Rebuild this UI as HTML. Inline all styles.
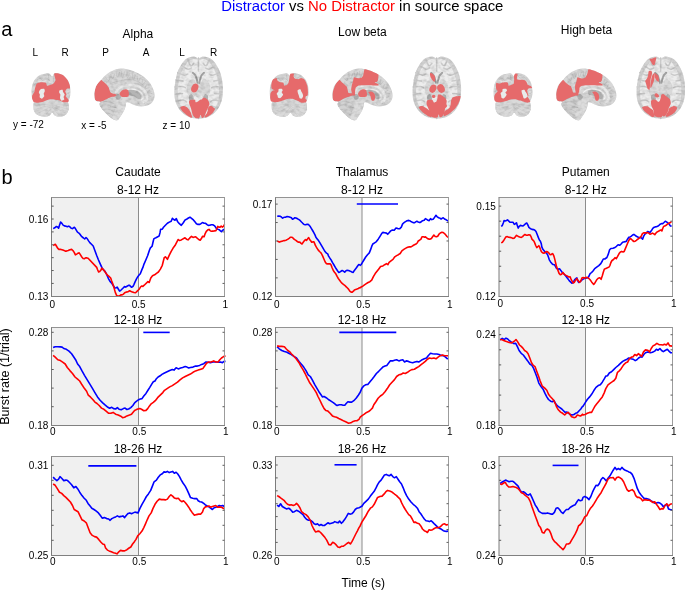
<!DOCTYPE html><html><head><meta charset="utf-8"><style>html,body{margin:0;padding:0;background:#fff;overflow:hidden;width:685px;height:590px;}svg{display:block;will-change:transform;}text{font-family:"Liberation Sans",sans-serif;}</style></head><body>
<svg width="685" height="590" viewBox="0 0 685 590">
<text x="221.2" y="10.9" font-size="14.9" fill="#000"><tspan fill="#0000ff">Distractor</tspan> vs <tspan fill="#ff0000">No Distractor</tspan> in source space</text>
<text x="1.2" y="35.6" font-size="20">a</text>
<text x="1.6" y="183.8" font-size="20">b</text>
<text x="137.9" y="37.8" font-size="12" text-anchor="middle">Alpha</text>
<text x="362.4" y="35.7" font-size="12" text-anchor="middle">Low beta</text>
<text x="586.5" y="33.5" font-size="12" text-anchor="middle">High beta</text>
<text x="35.2" y="56.2" font-size="10" text-anchor="middle">L</text>
<text x="65" y="56.2" font-size="10" text-anchor="middle">R</text>
<text x="105.6" y="56.2" font-size="10" text-anchor="middle">P</text>
<text x="146.2" y="56.2" font-size="10" text-anchor="middle">A</text>
<text x="182" y="56.2" font-size="10" text-anchor="middle">L</text>
<text x="213.7" y="56.2" font-size="10" text-anchor="middle">R</text>
<text x="13" y="127.8" font-size="10">y = -72</text>
<text x="81.3" y="128.9" font-size="10">x = -5</text>
<text x="162.6" y="128.9" font-size="10">z = 10</text>
<defs><filter id="btex" x="0" y="0" width="100%" height="100%" color-interpolation-filters="sRGB"><feTurbulence type="fractalNoise" baseFrequency="0.22 0.3" numOctaves="2" seed="7"/><feColorMatrix type="matrix" values="1.5 0 0 0 0.08  1.5 0 0 0 0.08  1.5 0 0 0 0.08  0 0 0 0 0.16"/></filter></defs>
<path d="M46.22,73.39 C47.85,73.23 48.52,73.27 49.61,73.81 C50.70,74.36 51.30,76.43 52.15,76.36 C53.01,76.28 53.26,73.96 54.27,73.39 C55.28,72.81 56.11,72.91 57.66,73.22 C59.21,73.53 61.04,73.97 62.75,75.08 C64.45,76.20 65.74,77.61 66.98,79.32 C68.23,81.03 68.90,82.39 69.53,84.41 C70.15,86.43 70.25,88.32 70.37,90.34 C70.50,92.36 70.51,93.56 70.20,95.42 C69.89,97.29 69.11,99.23 68.68,100.51 C68.24,101.78 67.83,101.44 67.83,102.37 C67.83,103.31 68.60,104.07 68.68,105.59 C68.76,107.12 68.88,108.97 68.25,110.68 C67.63,112.39 66.76,113.83 65.29,114.92 C63.81,116.00 62.07,116.45 60.20,116.61 C58.34,116.77 56.59,116.46 55.12,115.76 C53.64,115.06 53.24,112.80 52.15,112.80 C51.06,112.80 50.66,115.06 49.19,115.76 C47.71,116.46 46.12,116.69 44.10,116.61 C42.08,116.53 39.96,116.27 38.17,115.34 C36.38,114.41 35.21,113.16 34.36,111.53 C33.50,109.89 33.59,108.07 33.51,106.44 C33.43,104.81 34.17,104.03 33.93,102.63 C33.70,101.23 32.67,100.44 32.24,98.81 C31.80,97.18 31.64,95.75 31.56,93.73 C31.48,91.71 31.46,89.97 31.81,87.80 C32.17,85.62 32.65,83.73 33.51,81.86 C34.36,80.00 35.15,78.95 36.47,77.63 C37.80,76.31 38.93,75.44 40.71,74.66 C42.50,73.88 44.59,73.55 46.22,73.39 Z" fill="#d0d0d0"/>
<path d="M33.93,102.63 C35.25,101.82 38.23,102.34 40.71,102.03 C43.20,101.72 45.39,101.21 47.49,100.93 C49.59,100.65 50.44,100.51 52.15,100.51 C53.86,100.51 54.72,100.65 56.81,100.93 C58.91,101.21 61.57,101.77 63.59,102.03 C65.61,102.30 66.90,101.72 67.83,102.37 C68.76,103.03 68.60,104.07 68.68,105.59 C68.76,107.12 68.88,108.97 68.25,110.68 C67.63,112.39 66.76,113.83 65.29,114.92 C63.81,116.00 62.07,116.45 60.20,116.61 C58.34,116.77 56.59,116.46 55.12,115.76 C53.64,115.06 53.24,112.80 52.15,112.80 C51.06,112.80 50.66,115.06 49.19,115.76 C47.71,116.46 46.12,116.69 44.10,116.61 C42.08,116.53 39.96,116.27 38.17,115.34 C36.38,114.41 35.21,113.16 34.36,111.53 C33.50,109.89 33.59,108.07 33.51,106.44 C33.43,104.81 32.61,103.44 33.93,102.63 Z" fill="#d3d3d3"/>
<path d="M52.15,103.90 C49.26,104.18 37.68,105.31 34.78,105.59" fill="none" stroke="#c3c3c3" stroke-width="0.7" stroke-linecap="round"/>
<path d="M52.15,104.75 C49.19,105.52 37.32,108.63 34.36,109.41" fill="none" stroke="#c3c3c3" stroke-width="0.7" stroke-linecap="round"/>
<path d="M52.15,106.02 C49.68,107.29 39.79,112.37 37.32,113.64" fill="none" stroke="#c3c3c3" stroke-width="0.7" stroke-linecap="round"/>
<path d="M52.15,107.29 C50.95,108.70 46.15,114.35 44.95,115.76" fill="none" stroke="#c3c3c3" stroke-width="0.7" stroke-linecap="round"/>
<path d="M52.15,103.90 C54.84,104.18 65.57,105.31 68.25,105.59" fill="none" stroke="#c3c3c3" stroke-width="0.7" stroke-linecap="round"/>
<path d="M52.15,104.75 C54.88,105.52 65.78,108.63 68.51,109.41" fill="none" stroke="#c3c3c3" stroke-width="0.7" stroke-linecap="round"/>
<path d="M52.15,106.02 C54.48,107.29 63.81,112.37 66.14,113.64" fill="none" stroke="#c3c3c3" stroke-width="0.7" stroke-linecap="round"/>
<path d="M52.15,107.29 C53.35,108.70 58.16,114.35 59.36,115.76" fill="none" stroke="#c3c3c3" stroke-width="0.7" stroke-linecap="round"/>
<path d="M37.32,79.32 C37.89,79.18 39.79,78.26 40.71,78.47 C41.63,78.69 42.05,80.66 42.83,80.59 C43.61,80.52 44.45,78.26 45.37,78.05 C46.29,77.84 47.84,79.11 48.34,79.32" fill="none" stroke="#b5b5b5" stroke-width="0.8" stroke-linecap="round"/>
<path d="M34.78,84.41 C35.34,84.12 37.60,82.99 38.17,82.71" fill="none" stroke="#b5b5b5" stroke-width="0.8" stroke-linecap="round"/>
<path d="M33.08,91.19 C33.51,91.05 35.20,90.48 35.63,90.34" fill="none" stroke="#b5b5b5" stroke-width="0.8" stroke-linecap="round"/>
<path d="M32.66,97.12 C33.08,97.26 34.78,97.82 35.20,97.97" fill="none" stroke="#b5b5b5" stroke-width="0.8" stroke-linecap="round"/>
<path d="M55.97,75.93 C56.39,76.29 57.52,77.91 58.51,78.05 C59.50,78.19 60.91,76.57 61.90,76.78 C62.89,76.99 64.02,78.90 64.44,79.32" fill="none" stroke="#b5b5b5" stroke-width="0.8" stroke-linecap="round"/>
<path d="M67.83,86.95 C67.41,86.81 65.71,86.24 65.29,86.10" fill="none" stroke="#b5b5b5" stroke-width="0.8" stroke-linecap="round"/>
<path d="M68.68,93.73 C68.25,93.59 66.56,93.02 66.14,92.88" fill="none" stroke="#b5b5b5" stroke-width="0.8" stroke-linecap="round"/>
<path d="M48.34,75.08 C48.48,76.07 49.05,80.03 49.19,81.02" fill="none" stroke="#b5b5b5" stroke-width="0.8" stroke-linecap="round"/>
<path d="M53.42,76.78 C53.42,77.63 53.42,81.02 53.42,81.86" fill="none" stroke="#b5b5b5" stroke-width="0.8" stroke-linecap="round"/>
<path d="M38.17,81.02 C39.02,81.16 41.70,82.01 43.25,81.86 C44.81,81.72 46.36,80.03 47.49,80.17 C48.62,80.31 49.61,82.29 50.03,82.71" fill="none" stroke="#e4e4e4" stroke-width="1.0" stroke-linecap="round"/>
<path d="M35.63,86.95 C36.33,86.67 39.16,85.54 39.86,85.25" fill="none" stroke="#e4e4e4" stroke-width="1.0" stroke-linecap="round"/>
<path d="M66.98,92.03 C67.41,91.89 69.10,91.33 69.53,91.19" fill="none" stroke="#e4e4e4" stroke-width="1.0" stroke-linecap="round"/>
<path d="M56.81,79.32 C57.66,79.60 60.34,80.45 61.90,81.02 C63.45,81.58 65.43,82.43 66.14,82.71" fill="none" stroke="#e4e4e4" stroke-width="1.0" stroke-linecap="round"/>
<clipPath id="tclip1"><path d="M46.22,73.39 C47.85,73.23 48.52,73.27 49.61,73.81 C50.70,74.36 51.30,76.43 52.15,76.36 C53.01,76.28 53.26,73.96 54.27,73.39 C55.28,72.81 56.11,72.91 57.66,73.22 C59.21,73.53 61.04,73.97 62.75,75.08 C64.45,76.20 65.74,77.61 66.98,79.32 C68.23,81.03 68.90,82.39 69.53,84.41 C70.15,86.43 70.25,88.32 70.37,90.34 C70.50,92.36 70.51,93.56 70.20,95.42 C69.89,97.29 69.11,99.23 68.68,100.51 C68.24,101.78 67.83,101.44 67.83,102.37 C67.83,103.31 68.60,104.07 68.68,105.59 C68.76,107.12 68.88,108.97 68.25,110.68 C67.63,112.39 66.76,113.83 65.29,114.92 C63.81,116.00 62.07,116.45 60.20,116.61 C58.34,116.77 56.59,116.46 55.12,115.76 C53.64,115.06 53.24,112.80 52.15,112.80 C51.06,112.80 50.66,115.06 49.19,115.76 C47.71,116.46 46.12,116.69 44.10,116.61 C42.08,116.53 39.96,116.27 38.17,115.34 C36.38,114.41 35.21,113.16 34.36,111.53 C33.50,109.89 33.59,108.07 33.51,106.44 C33.43,104.81 34.17,104.03 33.93,102.63 C33.70,101.23 32.67,100.44 32.24,98.81 C31.80,97.18 31.64,95.75 31.56,93.73 C31.48,91.71 31.46,89.97 31.81,87.80 C32.17,85.62 32.65,83.73 33.51,81.86 C34.36,80.00 35.15,78.95 36.47,77.63 C37.80,76.31 38.93,75.44 40.71,74.66 C42.50,73.88 44.59,73.55 46.22,73.39 Z"/></clipPath>
<rect x="30.6" y="72.2" width="40.8" height="45.4" filter="url(#btex)" clip-path="url(#tclip1)"/>
<path d="M36.47,83.98 C37.17,83.14 39.62,82.44 40.71,82.29 C41.80,82.14 45.06,82.32 45.80,82.71 C46.54,83.11 46.47,85.43 47.07,85.68 C47.66,85.93 50.14,85.08 50.88,84.83 C51.62,84.58 52.88,84.10 53.42,83.56 C53.97,83.02 55.39,80.96 55.54,80.17 C55.69,79.38 54.84,77.55 54.69,76.78 C54.55,76.01 53.93,73.97 54.27,73.56 C54.62,73.14 56.67,73.04 57.66,73.22 C58.65,73.40 61.66,74.37 62.75,75.08 C63.83,75.80 66.19,78.23 66.98,79.32 C67.77,80.41 69.18,83.37 69.53,84.41 C69.87,85.44 70.25,87.73 69.95,88.22 C69.65,88.71 67.53,88.30 66.98,88.64 C66.44,88.99 65.34,90.49 65.29,91.19 C65.24,91.88 66.51,93.98 66.56,94.58 C66.61,95.17 65.56,95.78 65.71,96.27 C65.86,96.77 67.48,98.32 67.83,98.81 C68.18,99.31 68.68,100.11 68.68,100.51 C68.68,100.90 68.42,102.01 67.83,102.20 C67.24,102.40 64.48,102.38 63.59,102.20 C62.70,102.03 60.99,100.93 60.20,100.68 C59.41,100.43 57.60,100.25 56.81,100.08 C56.02,99.92 54.21,99.34 53.42,99.24 C52.63,99.14 50.73,99.14 50.03,99.24 C49.34,99.34 48.28,99.79 47.49,100.08 C46.70,100.38 44.34,101.48 43.25,101.78 C42.17,102.08 39.26,102.58 38.17,102.63 C37.08,102.68 34.62,102.65 33.93,102.20 C33.24,101.76 32.44,99.60 32.24,98.81 C32.04,98.02 31.99,96.21 32.24,95.42 C32.48,94.63 34.06,92.73 34.36,92.03 C34.65,91.34 34.53,90.43 34.78,89.49 C35.03,88.55 35.78,84.82 36.47,83.98 Z" fill="#e66a6b"/>
<path d="M40.71,89.32 C41.32,88.93 43.63,88.60 44.10,88.81 C44.58,89.03 44.83,90.61 44.78,91.19 C44.73,91.76 43.74,93.14 43.68,93.73 C43.62,94.32 44.47,95.70 44.27,96.27 C44.07,96.84 42.52,98.53 41.98,98.64 C41.45,98.76 39.94,97.76 39.69,97.29 C39.45,96.81 39.96,95.17 39.86,94.58 C39.77,93.98 38.75,92.82 38.85,92.20 C38.95,91.59 40.10,89.72 40.71,89.32 Z" fill="#e8ecec"/>
<path d="M59.61,90.34 C60.00,90.02 62.09,89.55 62.49,89.75 C62.90,89.94 62.83,91.47 63.08,92.03 C63.34,92.60 64.64,93.98 64.69,94.58 C64.75,95.17 63.64,96.55 63.59,97.12 C63.54,97.69 64.52,99.08 64.27,99.49 C64.02,99.91 61.97,100.86 61.47,100.68 C60.98,100.50 60.16,98.68 60.03,97.97 C59.91,97.25 60.47,95.22 60.37,94.58 C60.27,93.93 59.28,92.95 59.19,92.46 C59.10,91.96 59.22,90.66 59.61,90.34 Z" fill="#e8ecec"/>
<path d="M284.42,73.39 C286.05,73.23 286.72,73.27 287.81,73.81 C288.90,74.36 289.50,76.43 290.35,76.36 C291.21,76.28 291.46,73.96 292.47,73.39 C293.48,72.81 294.31,72.91 295.86,73.22 C297.41,73.53 299.24,73.97 300.95,75.08 C302.65,76.20 303.94,77.61 305.18,79.32 C306.43,81.03 307.10,82.39 307.73,84.41 C308.35,86.43 308.45,88.32 308.57,90.34 C308.70,92.36 308.71,93.56 308.40,95.42 C308.09,97.29 307.31,99.23 306.88,100.51 C306.44,101.78 306.03,101.44 306.03,102.37 C306.03,103.31 306.80,104.07 306.88,105.59 C306.96,107.12 307.08,108.97 306.45,110.68 C305.83,112.39 304.96,113.83 303.49,114.92 C302.01,116.00 300.27,116.45 298.40,116.61 C296.54,116.77 294.79,116.46 293.32,115.76 C291.84,115.06 291.44,112.80 290.35,112.80 C289.26,112.80 288.86,115.06 287.39,115.76 C285.91,116.46 284.32,116.69 282.30,116.61 C280.28,116.53 278.16,116.27 276.37,115.34 C274.58,114.41 273.41,113.16 272.56,111.53 C271.70,109.89 271.79,108.07 271.71,106.44 C271.63,104.81 272.37,104.03 272.13,102.63 C271.90,101.23 270.87,100.44 270.44,98.81 C270.00,97.18 269.84,95.75 269.76,93.73 C269.68,91.71 269.66,89.97 270.01,87.80 C270.37,85.62 270.85,83.73 271.71,81.86 C272.56,80.00 273.35,78.95 274.67,77.63 C276.00,76.31 277.13,75.44 278.91,74.66 C280.70,73.88 282.79,73.55 284.42,73.39 Z" fill="#d0d0d0"/>
<path d="M272.13,102.63 C273.45,101.82 276.43,102.34 278.91,102.03 C281.40,101.72 283.59,101.21 285.69,100.93 C287.79,100.65 288.64,100.51 290.35,100.51 C292.06,100.51 292.92,100.65 295.01,100.93 C297.11,101.21 299.77,101.77 301.79,102.03 C303.81,102.30 305.10,101.72 306.03,102.37 C306.96,103.03 306.80,104.07 306.88,105.59 C306.96,107.12 307.08,108.97 306.45,110.68 C305.83,112.39 304.96,113.83 303.49,114.92 C302.01,116.00 300.27,116.45 298.40,116.61 C296.54,116.77 294.79,116.46 293.32,115.76 C291.84,115.06 291.44,112.80 290.35,112.80 C289.26,112.80 288.86,115.06 287.39,115.76 C285.91,116.46 284.32,116.69 282.30,116.61 C280.28,116.53 278.16,116.27 276.37,115.34 C274.58,114.41 273.41,113.16 272.56,111.53 C271.70,109.89 271.79,108.07 271.71,106.44 C271.63,104.81 270.81,103.44 272.13,102.63 Z" fill="#d3d3d3"/>
<path d="M290.35,103.90 C287.46,104.18 275.88,105.31 272.98,105.59" fill="none" stroke="#c3c3c3" stroke-width="0.7" stroke-linecap="round"/>
<path d="M290.35,104.75 C287.39,105.52 275.52,108.63 272.56,109.41" fill="none" stroke="#c3c3c3" stroke-width="0.7" stroke-linecap="round"/>
<path d="M290.35,106.02 C287.88,107.29 277.99,112.37 275.52,113.64" fill="none" stroke="#c3c3c3" stroke-width="0.7" stroke-linecap="round"/>
<path d="M290.35,107.29 C289.15,108.70 284.35,114.35 283.15,115.76" fill="none" stroke="#c3c3c3" stroke-width="0.7" stroke-linecap="round"/>
<path d="M290.35,103.90 C293.04,104.18 303.77,105.31 306.45,105.59" fill="none" stroke="#c3c3c3" stroke-width="0.7" stroke-linecap="round"/>
<path d="M290.35,104.75 C293.08,105.52 303.98,108.63 306.71,109.41" fill="none" stroke="#c3c3c3" stroke-width="0.7" stroke-linecap="round"/>
<path d="M290.35,106.02 C292.68,107.29 302.01,112.37 304.34,113.64" fill="none" stroke="#c3c3c3" stroke-width="0.7" stroke-linecap="round"/>
<path d="M290.35,107.29 C291.55,108.70 296.36,114.35 297.56,115.76" fill="none" stroke="#c3c3c3" stroke-width="0.7" stroke-linecap="round"/>
<path d="M275.52,79.32 C276.09,79.18 277.99,78.26 278.91,78.47 C279.83,78.69 280.25,80.66 281.03,80.59 C281.81,80.52 282.65,78.26 283.57,78.05 C284.49,77.84 286.04,79.11 286.54,79.32" fill="none" stroke="#b5b5b5" stroke-width="0.8" stroke-linecap="round"/>
<path d="M272.98,84.41 C273.54,84.12 275.80,82.99 276.37,82.71" fill="none" stroke="#b5b5b5" stroke-width="0.8" stroke-linecap="round"/>
<path d="M271.28,91.19 C271.71,91.05 273.40,90.48 273.83,90.34" fill="none" stroke="#b5b5b5" stroke-width="0.8" stroke-linecap="round"/>
<path d="M270.86,97.12 C271.28,97.26 272.98,97.82 273.40,97.97" fill="none" stroke="#b5b5b5" stroke-width="0.8" stroke-linecap="round"/>
<path d="M294.17,75.93 C294.59,76.29 295.72,77.91 296.71,78.05 C297.70,78.19 299.11,76.57 300.10,76.78 C301.09,76.99 302.22,78.90 302.64,79.32" fill="none" stroke="#b5b5b5" stroke-width="0.8" stroke-linecap="round"/>
<path d="M306.03,86.95 C305.61,86.81 303.91,86.24 303.49,86.10" fill="none" stroke="#b5b5b5" stroke-width="0.8" stroke-linecap="round"/>
<path d="M306.88,93.73 C306.45,93.59 304.76,93.02 304.34,92.88" fill="none" stroke="#b5b5b5" stroke-width="0.8" stroke-linecap="round"/>
<path d="M286.54,75.08 C286.68,76.07 287.25,80.03 287.39,81.02" fill="none" stroke="#b5b5b5" stroke-width="0.8" stroke-linecap="round"/>
<path d="M291.62,76.78 C291.62,77.63 291.62,81.02 291.62,81.86" fill="none" stroke="#b5b5b5" stroke-width="0.8" stroke-linecap="round"/>
<path d="M276.37,81.02 C277.22,81.16 279.90,82.01 281.45,81.86 C283.01,81.72 284.56,80.03 285.69,80.17 C286.82,80.31 287.81,82.29 288.23,82.71" fill="none" stroke="#e4e4e4" stroke-width="1.0" stroke-linecap="round"/>
<path d="M273.83,86.95 C274.53,86.67 277.36,85.54 278.06,85.25" fill="none" stroke="#e4e4e4" stroke-width="1.0" stroke-linecap="round"/>
<path d="M305.18,92.03 C305.61,91.89 307.30,91.33 307.73,91.19" fill="none" stroke="#e4e4e4" stroke-width="1.0" stroke-linecap="round"/>
<path d="M295.01,79.32 C295.86,79.60 298.54,80.45 300.10,81.02 C301.65,81.58 303.63,82.43 304.34,82.71" fill="none" stroke="#e4e4e4" stroke-width="1.0" stroke-linecap="round"/>
<clipPath id="tclip2"><path d="M284.42,73.39 C286.05,73.23 286.72,73.27 287.81,73.81 C288.90,74.36 289.50,76.43 290.35,76.36 C291.21,76.28 291.46,73.96 292.47,73.39 C293.48,72.81 294.31,72.91 295.86,73.22 C297.41,73.53 299.24,73.97 300.95,75.08 C302.65,76.20 303.94,77.61 305.18,79.32 C306.43,81.03 307.10,82.39 307.73,84.41 C308.35,86.43 308.45,88.32 308.57,90.34 C308.70,92.36 308.71,93.56 308.40,95.42 C308.09,97.29 307.31,99.23 306.88,100.51 C306.44,101.78 306.03,101.44 306.03,102.37 C306.03,103.31 306.80,104.07 306.88,105.59 C306.96,107.12 307.08,108.97 306.45,110.68 C305.83,112.39 304.96,113.83 303.49,114.92 C302.01,116.00 300.27,116.45 298.40,116.61 C296.54,116.77 294.79,116.46 293.32,115.76 C291.84,115.06 291.44,112.80 290.35,112.80 C289.26,112.80 288.86,115.06 287.39,115.76 C285.91,116.46 284.32,116.69 282.30,116.61 C280.28,116.53 278.16,116.27 276.37,115.34 C274.58,114.41 273.41,113.16 272.56,111.53 C271.70,109.89 271.79,108.07 271.71,106.44 C271.63,104.81 272.37,104.03 272.13,102.63 C271.90,101.23 270.87,100.44 270.44,98.81 C270.00,97.18 269.84,95.75 269.76,93.73 C269.68,91.71 269.66,89.97 270.01,87.80 C270.37,85.62 270.85,83.73 271.71,81.86 C272.56,80.00 273.35,78.95 274.67,77.63 C276.00,76.31 277.13,75.44 278.91,74.66 C280.70,73.88 282.79,73.55 284.42,73.39 Z"/></clipPath>
<rect x="268.8" y="72.2" width="40.8" height="45.4" filter="url(#btex)" clip-path="url(#tclip2)"/>
<path d="M273.20,79.32 C273.75,78.88 276.10,77.90 276.59,78.05 C277.09,78.20 277.00,80.10 277.44,80.59 C277.89,81.09 279.71,82.04 280.41,82.29 C281.10,82.54 282.93,82.32 283.37,82.71 C283.82,83.11 283.82,85.40 284.22,85.68 C284.62,85.95 286.27,85.43 286.76,85.08 C287.26,84.74 288.16,83.48 288.46,82.71 C288.75,81.94 289.14,79.41 289.31,78.47 C289.47,77.54 289.65,75.23 289.90,74.66 C290.15,74.09 290.95,73.66 291.42,73.56 C291.90,73.46 293.72,73.49 293.97,73.81 C294.21,74.14 293.44,75.81 293.54,76.36 C293.64,76.90 294.27,78.15 294.81,78.47 C295.36,78.80 297.46,79.20 298.20,79.15 C298.94,79.10 300.48,78.03 301.17,78.05 C301.86,78.07 303.54,78.78 304.14,79.32 C304.73,79.87 305.86,81.82 306.25,82.71 C306.65,83.60 307.33,85.86 307.53,86.95 C307.72,88.04 307.95,91.05 307.95,92.03 C307.95,93.02 307.77,94.93 307.53,95.42 C307.28,95.92 306.08,95.88 305.83,96.27 C305.58,96.67 305.31,98.37 305.41,98.81 C305.51,99.26 306.63,99.69 306.68,100.08 C306.73,100.48 306.42,101.91 305.83,102.20 C305.24,102.50 302.48,102.78 301.59,102.63 C300.70,102.48 298.99,101.28 298.20,100.93 C297.41,100.59 295.60,99.91 294.81,99.66 C294.02,99.41 292.12,98.91 291.42,98.81 C290.73,98.71 289.47,98.76 288.88,98.81 C288.29,98.86 287.03,99.04 286.34,99.24 C285.65,99.44 283.84,100.21 282.95,100.51 C282.06,100.81 279.70,101.58 278.71,101.78 C277.72,101.98 275.36,102.25 274.47,102.20 C273.58,102.15 271.58,101.85 271.08,101.36 C270.59,100.86 270.32,98.86 270.24,97.97 C270.16,97.08 270.21,94.52 270.41,93.73 C270.60,92.94 271.46,91.58 271.93,91.19 C272.41,90.79 274.47,90.59 274.47,90.34 C274.47,90.09 272.31,89.56 271.93,89.07 C271.56,88.57 271.25,86.94 271.25,86.10 C271.25,85.26 271.70,82.66 271.93,81.86 C272.16,81.07 272.66,79.77 273.20,79.32 Z" fill="#e66a6b"/>
<path d="M278.71,89.07 C279.10,88.74 281.21,88.67 281.68,88.81 C282.14,88.96 282.69,89.94 282.69,90.34 C282.69,90.73 281.63,91.71 281.68,92.20 C281.73,92.70 283.09,94.08 283.12,94.58 C283.15,95.07 282.30,96.03 281.93,96.44 C281.57,96.86 280.44,98.01 279.98,98.14 C279.53,98.26 278.32,97.86 278.03,97.54 C277.75,97.23 277.68,95.87 277.53,95.42 C277.37,94.98 276.58,94.17 276.68,93.73 C276.78,93.28 278.14,92.15 278.37,91.61 C278.61,91.07 278.33,89.39 278.71,89.07 Z" fill="#e8ecec"/>
<path d="M297.61,90.34 C297.89,89.87 299.89,89.17 300.32,89.32 C300.76,89.47 301.07,91.10 301.34,91.61 C301.61,92.12 302.40,93.19 302.61,93.73 C302.82,94.27 303.22,95.71 303.12,96.27 C303.02,96.83 302.16,98.34 301.76,98.56 C301.37,98.78 300.07,98.50 299.73,98.14 C299.38,97.77 299.00,95.99 298.80,95.42 C298.59,94.86 298.09,93.90 297.95,93.31 C297.81,92.71 297.33,90.80 297.61,90.34 Z" fill="#e8ecec"/>
<path d="M508.22,73.39 C509.85,73.23 510.52,73.27 511.61,73.81 C512.70,74.36 513.30,76.43 514.15,76.36 C515.01,76.28 515.26,73.96 516.27,73.39 C517.28,72.81 518.11,72.91 519.66,73.22 C521.21,73.53 523.04,73.97 524.75,75.08 C526.45,76.20 527.74,77.61 528.98,79.32 C530.23,81.03 530.90,82.39 531.53,84.41 C532.15,86.43 532.25,88.32 532.37,90.34 C532.50,92.36 532.51,93.56 532.20,95.42 C531.89,97.29 531.11,99.23 530.68,100.51 C530.24,101.78 529.83,101.44 529.83,102.37 C529.83,103.31 530.60,104.07 530.68,105.59 C530.76,107.12 530.88,108.97 530.25,110.68 C529.63,112.39 528.76,113.83 527.29,114.92 C525.81,116.00 524.07,116.45 522.20,116.61 C520.34,116.77 518.59,116.46 517.12,115.76 C515.64,115.06 515.24,112.80 514.15,112.80 C513.06,112.80 512.66,115.06 511.19,115.76 C509.71,116.46 508.12,116.69 506.10,116.61 C504.08,116.53 501.96,116.27 500.17,115.34 C498.38,114.41 497.21,113.16 496.36,111.53 C495.50,109.89 495.59,108.07 495.51,106.44 C495.43,104.81 496.17,104.03 495.93,102.63 C495.70,101.23 494.67,100.44 494.24,98.81 C493.80,97.18 493.64,95.75 493.56,93.73 C493.48,91.71 493.46,89.97 493.81,87.80 C494.17,85.62 494.65,83.73 495.51,81.86 C496.36,80.00 497.15,78.95 498.47,77.63 C499.80,76.31 500.93,75.44 502.71,74.66 C504.50,73.88 506.59,73.55 508.22,73.39 Z" fill="#d0d0d0"/>
<path d="M495.93,102.63 C497.25,101.82 500.23,102.34 502.71,102.03 C505.20,101.72 507.39,101.21 509.49,100.93 C511.59,100.65 512.44,100.51 514.15,100.51 C515.86,100.51 516.72,100.65 518.81,100.93 C520.91,101.21 523.57,101.77 525.59,102.03 C527.61,102.30 528.90,101.72 529.83,102.37 C530.76,103.03 530.60,104.07 530.68,105.59 C530.76,107.12 530.88,108.97 530.25,110.68 C529.63,112.39 528.76,113.83 527.29,114.92 C525.81,116.00 524.07,116.45 522.20,116.61 C520.34,116.77 518.59,116.46 517.12,115.76 C515.64,115.06 515.24,112.80 514.15,112.80 C513.06,112.80 512.66,115.06 511.19,115.76 C509.71,116.46 508.12,116.69 506.10,116.61 C504.08,116.53 501.96,116.27 500.17,115.34 C498.38,114.41 497.21,113.16 496.36,111.53 C495.50,109.89 495.59,108.07 495.51,106.44 C495.43,104.81 494.61,103.44 495.93,102.63 Z" fill="#d3d3d3"/>
<path d="M514.15,103.90 C511.26,104.18 499.68,105.31 496.78,105.59" fill="none" stroke="#c3c3c3" stroke-width="0.7" stroke-linecap="round"/>
<path d="M514.15,104.75 C511.19,105.52 499.32,108.63 496.36,109.41" fill="none" stroke="#c3c3c3" stroke-width="0.7" stroke-linecap="round"/>
<path d="M514.15,106.02 C511.68,107.29 501.79,112.37 499.32,113.64" fill="none" stroke="#c3c3c3" stroke-width="0.7" stroke-linecap="round"/>
<path d="M514.15,107.29 C512.95,108.70 508.15,114.35 506.95,115.76" fill="none" stroke="#c3c3c3" stroke-width="0.7" stroke-linecap="round"/>
<path d="M514.15,103.90 C516.84,104.18 527.57,105.31 530.25,105.59" fill="none" stroke="#c3c3c3" stroke-width="0.7" stroke-linecap="round"/>
<path d="M514.15,104.75 C516.88,105.52 527.78,108.63 530.51,109.41" fill="none" stroke="#c3c3c3" stroke-width="0.7" stroke-linecap="round"/>
<path d="M514.15,106.02 C516.48,107.29 525.81,112.37 528.14,113.64" fill="none" stroke="#c3c3c3" stroke-width="0.7" stroke-linecap="round"/>
<path d="M514.15,107.29 C515.35,108.70 520.16,114.35 521.36,115.76" fill="none" stroke="#c3c3c3" stroke-width="0.7" stroke-linecap="round"/>
<path d="M499.32,79.32 C499.89,79.18 501.79,78.26 502.71,78.47 C503.63,78.69 504.05,80.66 504.83,80.59 C505.61,80.52 506.45,78.26 507.37,78.05 C508.29,77.84 509.84,79.11 510.34,79.32" fill="none" stroke="#b5b5b5" stroke-width="0.8" stroke-linecap="round"/>
<path d="M496.78,84.41 C497.34,84.12 499.60,82.99 500.17,82.71" fill="none" stroke="#b5b5b5" stroke-width="0.8" stroke-linecap="round"/>
<path d="M495.08,91.19 C495.51,91.05 497.20,90.48 497.63,90.34" fill="none" stroke="#b5b5b5" stroke-width="0.8" stroke-linecap="round"/>
<path d="M494.66,97.12 C495.08,97.26 496.78,97.82 497.20,97.97" fill="none" stroke="#b5b5b5" stroke-width="0.8" stroke-linecap="round"/>
<path d="M517.97,75.93 C518.39,76.29 519.52,77.91 520.51,78.05 C521.50,78.19 522.91,76.57 523.90,76.78 C524.89,76.99 526.02,78.90 526.44,79.32" fill="none" stroke="#b5b5b5" stroke-width="0.8" stroke-linecap="round"/>
<path d="M529.83,86.95 C529.41,86.81 527.71,86.24 527.29,86.10" fill="none" stroke="#b5b5b5" stroke-width="0.8" stroke-linecap="round"/>
<path d="M530.68,93.73 C530.25,93.59 528.56,93.02 528.14,92.88" fill="none" stroke="#b5b5b5" stroke-width="0.8" stroke-linecap="round"/>
<path d="M510.34,75.08 C510.48,76.07 511.05,80.03 511.19,81.02" fill="none" stroke="#b5b5b5" stroke-width="0.8" stroke-linecap="round"/>
<path d="M515.42,76.78 C515.42,77.63 515.42,81.02 515.42,81.86" fill="none" stroke="#b5b5b5" stroke-width="0.8" stroke-linecap="round"/>
<path d="M500.17,81.02 C501.02,81.16 503.70,82.01 505.25,81.86 C506.81,81.72 508.36,80.03 509.49,80.17 C510.62,80.31 511.61,82.29 512.03,82.71" fill="none" stroke="#e4e4e4" stroke-width="1.0" stroke-linecap="round"/>
<path d="M497.63,86.95 C498.33,86.67 501.16,85.54 501.86,85.25" fill="none" stroke="#e4e4e4" stroke-width="1.0" stroke-linecap="round"/>
<path d="M528.98,92.03 C529.41,91.89 531.10,91.33 531.53,91.19" fill="none" stroke="#e4e4e4" stroke-width="1.0" stroke-linecap="round"/>
<path d="M518.81,79.32 C519.66,79.60 522.34,80.45 523.90,81.02 C525.45,81.58 527.43,82.43 528.14,82.71" fill="none" stroke="#e4e4e4" stroke-width="1.0" stroke-linecap="round"/>
<clipPath id="tclip3"><path d="M508.22,73.39 C509.85,73.23 510.52,73.27 511.61,73.81 C512.70,74.36 513.30,76.43 514.15,76.36 C515.01,76.28 515.26,73.96 516.27,73.39 C517.28,72.81 518.11,72.91 519.66,73.22 C521.21,73.53 523.04,73.97 524.75,75.08 C526.45,76.20 527.74,77.61 528.98,79.32 C530.23,81.03 530.90,82.39 531.53,84.41 C532.15,86.43 532.25,88.32 532.37,90.34 C532.50,92.36 532.51,93.56 532.20,95.42 C531.89,97.29 531.11,99.23 530.68,100.51 C530.24,101.78 529.83,101.44 529.83,102.37 C529.83,103.31 530.60,104.07 530.68,105.59 C530.76,107.12 530.88,108.97 530.25,110.68 C529.63,112.39 528.76,113.83 527.29,114.92 C525.81,116.00 524.07,116.45 522.20,116.61 C520.34,116.77 518.59,116.46 517.12,115.76 C515.64,115.06 515.24,112.80 514.15,112.80 C513.06,112.80 512.66,115.06 511.19,115.76 C509.71,116.46 508.12,116.69 506.10,116.61 C504.08,116.53 501.96,116.27 500.17,115.34 C498.38,114.41 497.21,113.16 496.36,111.53 C495.50,109.89 495.59,108.07 495.51,106.44 C495.43,104.81 496.17,104.03 495.93,102.63 C495.70,101.23 494.67,100.44 494.24,98.81 C493.80,97.18 493.64,95.75 493.56,93.73 C493.48,91.71 493.46,89.97 493.81,87.80 C494.17,85.62 494.65,83.73 495.51,81.86 C496.36,80.00 497.15,78.95 498.47,77.63 C499.80,76.31 500.93,75.44 502.71,74.66 C504.50,73.88 506.59,73.55 508.22,73.39 Z"/></clipPath>
<rect x="492.6" y="72.2" width="40.8" height="45.4" filter="url(#btex)" clip-path="url(#tclip3)"/>
<path d="M496.36,82.71 C496.75,82.37 498.68,83.56 499.32,83.56 C499.96,83.56 501.17,82.86 501.86,82.71 C502.56,82.56 504.56,82.29 505.25,82.29 C505.95,82.29 507.40,82.32 507.80,82.71 C508.19,83.11 508.20,85.43 508.64,85.68 C509.09,85.93 511.02,85.08 511.61,84.83 C512.20,84.58 513.43,84.20 513.73,83.56 C514.03,82.92 514.12,80.21 514.15,79.32 C514.18,78.43 513.83,76.60 513.98,75.93 C514.13,75.26 515.01,73.78 515.42,73.56 C515.84,73.34 517.34,73.64 517.54,74.07 C517.74,74.49 517.19,76.59 517.12,77.20 C517.05,77.82 516.70,79.03 516.95,79.32 C517.20,79.62 518.67,79.70 519.24,79.75 C519.80,79.80 521.14,79.70 521.78,79.75 C522.42,79.80 524.20,79.92 524.75,80.17 C525.29,80.42 526.09,81.32 526.44,81.86 C526.79,82.41 527.22,84.34 527.71,84.83 C528.21,85.32 530.18,85.81 530.68,86.10 C531.17,86.40 531.85,87.13 531.95,87.37 C532.05,87.62 531.87,88.12 531.53,88.22 C531.18,88.32 529.48,87.97 528.98,88.22 C528.49,88.47 527.44,89.75 527.29,90.34 C527.14,90.93 527.56,92.71 527.71,93.31 C527.86,93.90 528.61,95.08 528.56,95.42 C528.51,95.77 527.24,95.88 527.29,96.27 C527.34,96.67 528.64,98.17 528.98,98.81 C529.33,99.46 530.45,101.33 530.25,101.78 C530.06,102.22 528.03,102.63 527.29,102.63 C526.55,102.63 524.69,102.03 523.90,101.78 C523.11,101.53 521.30,100.76 520.51,100.51 C519.72,100.26 517.86,99.81 517.12,99.66 C516.38,99.51 514.80,99.29 514.15,99.24 C513.51,99.19 512.20,99.14 511.61,99.24 C511.02,99.34 509.81,99.84 509.07,100.08 C508.33,100.33 506.19,101.11 505.25,101.36 C504.31,101.60 502.01,102.12 501.02,102.20 C500.03,102.28 497.52,102.23 496.78,102.03 C496.04,101.84 494.96,101.08 494.66,100.51 C494.36,99.94 494.19,97.86 494.24,97.12 C494.29,96.38 494.69,94.84 495.08,94.15 C495.48,93.46 497.48,91.73 497.63,91.19 C497.78,90.64 496.55,90.04 496.36,89.49 C496.16,88.95 495.93,87.32 495.93,86.53 C495.93,85.73 495.96,83.06 496.36,82.71 Z" fill="#e66a6b"/>
<path d="M502.71,89.07 C503.15,88.74 505.61,88.62 506.10,88.81 C506.60,89.01 507.03,90.34 506.95,90.76 C506.87,91.19 505.45,92.01 505.42,92.46 C505.39,92.90 506.69,94.07 506.69,94.58 C506.69,95.08 505.79,96.31 505.42,96.78 C505.06,97.24 504.01,98.46 503.56,98.56 C503.10,98.66 501.80,97.99 501.53,97.63 C501.25,97.26 501.30,95.93 501.19,95.42 C501.08,94.92 500.45,93.75 500.59,93.31 C500.73,92.86 502.13,92.10 502.37,91.61 C502.62,91.12 502.28,89.39 502.71,89.07 Z" fill="#e8ecec"/>
<path d="M521.61,90.34 C521.89,89.91 523.89,89.51 524.32,89.66 C524.76,89.81 525.02,91.09 525.34,91.61 C525.66,92.13 526.78,93.61 527.03,94.15 C527.29,94.70 527.69,95.80 527.54,96.27 C527.39,96.75 526.21,98.00 525.76,98.22 C525.32,98.44 524.07,98.46 523.73,98.14 C523.38,97.81 523.00,95.99 522.80,95.42 C522.59,94.86 522.09,93.90 521.95,93.31 C521.81,92.71 521.33,90.76 521.61,90.34 Z" fill="#e8ecec"/>
<clipPath id="sagclip1"><path d="M94.47,96.45 C94.39,95.30 94.23,94.15 94.47,92.52 C94.72,90.88 95.29,88.25 95.95,86.62 C96.61,84.98 97.51,83.83 98.41,82.68 C99.31,81.54 100.46,80.72 101.36,79.73 C102.26,78.75 102.91,77.68 103.82,76.78 C104.72,75.88 105.70,75.14 106.77,74.32 C107.83,73.51 108.98,72.60 110.21,71.87 C111.44,71.13 112.75,70.42 114.14,69.90 C115.53,69.38 117.01,68.97 118.57,68.72 C120.12,68.47 121.84,68.31 123.48,68.42 C125.12,68.54 126.76,69.00 128.40,69.41 C130.04,69.82 131.68,70.23 133.31,70.88 C134.95,71.54 136.59,72.44 138.23,73.34 C139.87,74.24 141.67,75.23 143.15,76.29 C144.62,77.36 145.85,78.50 147.08,79.73 C148.31,80.96 149.54,82.19 150.52,83.67 C151.51,85.14 152.32,86.94 152.98,88.58 C153.64,90.22 154.21,92.02 154.46,93.50 C154.70,94.97 154.70,96.12 154.46,97.43 C154.21,98.74 153.72,100.22 152.98,101.36 C152.24,102.51 151.18,103.58 150.03,104.31 C148.88,105.05 147.57,105.43 146.10,105.79 C144.62,106.15 142.82,106.48 141.18,106.48 C139.54,106.48 137.74,106.15 136.26,105.79 C134.79,105.43 133.48,104.81 132.33,104.31 C131.18,103.82 130.36,103.17 129.38,102.84 C128.40,102.51 127.04,101.86 126.43,102.35 C125.83,102.84 126.10,104.48 125.74,105.79 C125.38,107.10 124.89,108.82 124.27,110.21 C123.65,111.61 122.76,112.92 122.01,114.15 C121.25,115.38 120.40,116.61 119.75,117.59 C119.09,118.57 118.79,119.59 118.07,120.05 C117.35,120.51 116.48,120.59 115.42,120.34 C114.35,120.10 112.80,119.28 111.68,118.57 C110.57,117.87 109.88,117.18 108.73,116.11 C107.59,115.05 106.03,113.49 104.80,112.18 C103.57,110.87 102.26,109.56 101.36,108.25 C100.46,106.94 99.56,105.38 99.39,104.31 C99.23,103.25 100.78,102.35 100.37,101.86 C99.96,101.36 97.83,101.77 96.93,101.36 C96.03,100.96 95.38,100.22 94.97,99.40 C94.56,98.58 94.56,97.60 94.47,96.45 Z"/></clipPath>
<path d="M94.47,96.45 C94.39,95.30 94.23,94.15 94.47,92.52 C94.72,90.88 95.29,88.25 95.95,86.62 C96.61,84.98 97.51,83.83 98.41,82.68 C99.31,81.54 100.46,80.72 101.36,79.73 C102.26,78.75 102.91,77.68 103.82,76.78 C104.72,75.88 105.70,75.14 106.77,74.32 C107.83,73.51 108.98,72.60 110.21,71.87 C111.44,71.13 112.75,70.42 114.14,69.90 C115.53,69.38 117.01,68.97 118.57,68.72 C120.12,68.47 121.84,68.31 123.48,68.42 C125.12,68.54 126.76,69.00 128.40,69.41 C130.04,69.82 131.68,70.23 133.31,70.88 C134.95,71.54 136.59,72.44 138.23,73.34 C139.87,74.24 141.67,75.23 143.15,76.29 C144.62,77.36 145.85,78.50 147.08,79.73 C148.31,80.96 149.54,82.19 150.52,83.67 C151.51,85.14 152.32,86.94 152.98,88.58 C153.64,90.22 154.21,92.02 154.46,93.50 C154.70,94.97 154.70,96.12 154.46,97.43 C154.21,98.74 153.72,100.22 152.98,101.36 C152.24,102.51 151.18,103.58 150.03,104.31 C148.88,105.05 147.57,105.43 146.10,105.79 C144.62,106.15 142.82,106.48 141.18,106.48 C139.54,106.48 137.74,106.15 136.26,105.79 C134.79,105.43 133.48,104.81 132.33,104.31 C131.18,103.82 130.36,103.17 129.38,102.84 C128.40,102.51 127.04,101.86 126.43,102.35 C125.83,102.84 126.10,104.48 125.74,105.79 C125.38,107.10 124.89,108.82 124.27,110.21 C123.65,111.61 122.76,112.92 122.01,114.15 C121.25,115.38 120.40,116.61 119.75,117.59 C119.09,118.57 118.79,119.59 118.07,120.05 C117.35,120.51 116.48,120.59 115.42,120.34 C114.35,120.10 112.80,119.28 111.68,118.57 C110.57,117.87 109.88,117.18 108.73,116.11 C107.59,115.05 106.03,113.49 104.80,112.18 C103.57,110.87 102.26,109.56 101.36,108.25 C100.46,106.94 99.56,105.38 99.39,104.31 C99.23,103.25 100.78,102.35 100.37,101.86 C99.96,101.36 97.83,101.77 96.93,101.36 C96.03,100.96 95.38,100.22 94.97,99.40 C94.56,98.58 94.56,97.60 94.47,96.45 Z" fill="#d0d0d0"/>
<g clip-path="url(#sagclip1)">
<path d="M100.37,101.86 C101.77,100.91 105.21,99.51 107.75,98.61 C110.29,97.71 113.73,96.48 115.62,96.45 C117.50,96.42 118.53,96.94 119.06,98.41 C119.58,99.89 118.93,103.00 118.76,105.30 C118.60,107.59 118.27,109.80 118.07,112.18 C117.88,114.56 118.16,118.24 117.58,119.56 C117.01,120.87 115.62,120.21 114.63,120.05 C113.65,119.88 112.67,119.23 111.68,118.57 C110.70,117.92 109.88,117.18 108.73,116.11 C107.59,115.05 106.03,113.49 104.80,112.18 C103.57,110.87 102.26,109.56 101.36,108.25 C100.46,106.94 99.56,105.38 99.39,104.31 C99.23,103.25 98.98,102.81 100.37,101.86 Z" fill="#cbcbcb"/>
<path d="M101.00,103.00 C101.67,102.75 103.50,101.67 105.00,101.50 C106.50,101.33 108.42,101.58 110.00,102.00 C111.58,102.42 113.75,103.67 114.50,104.00" fill="none" stroke="#b9b9b9" stroke-width="0.8" stroke-linecap="round"/>
<path d="M100.00,106.50 C100.83,106.25 103.33,105.17 105.00,105.00 C106.67,104.83 108.42,105.08 110.00,105.50 C111.58,105.92 113.75,107.17 114.50,107.50" fill="none" stroke="#b9b9b9" stroke-width="0.8" stroke-linecap="round"/>
<path d="M101.50,110.00 C102.25,109.83 104.50,109.00 106.00,109.00 C107.50,109.00 109.17,109.50 110.50,110.00 C111.83,110.50 113.42,111.67 114.00,112.00" fill="none" stroke="#b9b9b9" stroke-width="0.8" stroke-linecap="round"/>
<path d="M104.00,113.50 C104.67,113.42 106.58,112.75 108.00,113.00 C109.42,113.25 111.75,114.67 112.50,115.00" fill="none" stroke="#b9b9b9" stroke-width="0.8" stroke-linecap="round"/>
<path d="M107.50,116.50 C108.17,116.63 110.83,117.17 111.50,117.30" fill="none" stroke="#b9b9b9" stroke-width="0.8" stroke-linecap="round"/>
<path d="M97.50,101.80 C98.42,101.43 101.25,100.35 103.00,99.60 C104.75,98.85 106.33,97.93 108.00,97.30 C109.67,96.67 111.50,96.08 113.00,95.80 C114.50,95.52 116.33,95.63 117.00,95.60" fill="none" stroke="#aaaaaa" stroke-width="1.1" stroke-linecap="round"/>
<path d="M117.29,96.45 C118.04,95.37 119.75,95.47 121.02,95.47 C122.30,95.47 123.96,95.76 124.96,96.45 C125.96,97.14 126.81,98.33 127.02,99.59 C127.23,100.86 126.50,102.74 126.24,104.02 C125.97,105.30 125.83,106.18 125.45,107.26 C125.07,108.35 124.48,109.49 123.97,110.51 C123.47,111.53 122.97,112.36 122.40,113.36 C121.83,114.36 121.22,115.44 120.53,116.51 C119.84,117.57 119.11,119.13 118.27,119.75 C117.43,120.37 116.43,120.47 115.52,120.24 C114.60,120.01 113.16,119.16 112.76,118.38 C112.37,117.59 112.99,116.36 113.16,115.52 C113.32,114.69 113.47,114.28 113.75,113.36 C114.03,112.44 114.48,111.03 114.83,110.02 C115.17,109.00 115.53,108.61 115.81,107.26 C116.09,105.92 116.25,103.76 116.50,101.95 C116.75,100.15 116.53,97.53 117.29,96.45 Z" fill="#d5d5d5"/>
<path d="M110.50,106.80 C111.00,106.87 112.58,107.07 113.50,107.20 C114.42,107.33 115.58,107.53 116.00,107.60" fill="none" stroke="#a9a9a9" stroke-width="0.9" stroke-linecap="round"/>
<path d="M98.90,88.58 C99.56,88.25 102.18,86.94 102.83,86.62" fill="none" stroke="#b6b6b6" stroke-width="0.8" stroke-linecap="round"/>
<path d="M101.36,83.67 C101.93,83.91 103.90,85.47 104.80,85.14 C105.70,84.81 106.44,82.27 106.77,81.70" fill="none" stroke="#b6b6b6" stroke-width="0.8" stroke-linecap="round"/>
<path d="M105.78,77.77 C106.27,78.26 108.00,80.88 108.73,80.72 C109.47,80.55 109.96,77.44 110.21,76.78" fill="none" stroke="#b6b6b6" stroke-width="0.8" stroke-linecap="round"/>
<path d="M110.70,74.32 C111.03,75.06 112.01,78.83 112.67,78.75 C113.32,78.67 114.30,74.65 114.63,73.83" fill="none" stroke="#b6b6b6" stroke-width="0.8" stroke-linecap="round"/>
<path d="M116.11,71.87 C116.35,72.77 117.01,77.19 117.58,77.27 C118.16,77.36 119.22,73.18 119.55,72.36" fill="none" stroke="#b6b6b6" stroke-width="0.8" stroke-linecap="round"/>
<path d="M121.52,71.37 C121.68,72.44 122.01,77.68 122.50,77.77 C122.99,77.85 124.14,72.85 124.47,71.87" fill="none" stroke="#b6b6b6" stroke-width="0.8" stroke-linecap="round"/>
<path d="M126.92,71.87 C127.01,72.85 126.92,77.52 127.41,77.77 C127.91,78.01 129.46,74.08 129.87,73.34" fill="none" stroke="#b6b6b6" stroke-width="0.8" stroke-linecap="round"/>
<path d="M132.33,73.83 C132.50,74.82 132.82,79.49 133.31,79.73 C133.81,79.98 134.95,76.05 135.28,75.31" fill="none" stroke="#b6b6b6" stroke-width="0.8" stroke-linecap="round"/>
<path d="M137.25,76.29 C137.41,77.19 137.74,81.45 138.23,81.70 C138.72,81.94 139.87,78.42 140.20,77.77" fill="none" stroke="#b6b6b6" stroke-width="0.8" stroke-linecap="round"/>
<path d="M142.66,79.73 C142.57,80.55 141.75,84.32 142.16,84.65 C142.57,84.98 144.62,82.19 145.11,81.70" fill="none" stroke="#b6b6b6" stroke-width="0.8" stroke-linecap="round"/>
<path d="M146.59,84.65 C146.34,85.30 144.70,88.09 145.11,88.58 C145.52,89.07 148.39,87.76 149.05,87.60" fill="none" stroke="#b6b6b6" stroke-width="0.8" stroke-linecap="round"/>
<path d="M149.54,90.55 C149.05,90.88 146.26,92.02 146.59,92.52 C146.92,93.01 150.69,93.33 151.51,93.50" fill="none" stroke="#b6b6b6" stroke-width="0.8" stroke-linecap="round"/>
<path d="M151.01,96.45 C150.52,96.61 148.56,97.27 148.06,97.43" fill="none" stroke="#b6b6b6" stroke-width="0.8" stroke-linecap="round"/>
<path d="M149.54,100.87 C149.05,100.87 147.08,100.87 146.59,100.87" fill="none" stroke="#b6b6b6" stroke-width="0.8" stroke-linecap="round"/>
<path d="M144.62,103.33 C144.38,103.17 143.39,102.51 143.15,102.35" fill="none" stroke="#b6b6b6" stroke-width="0.8" stroke-linecap="round"/>
<path d="M139.21,104.31 C139.05,104.07 138.39,103.09 138.23,102.84" fill="none" stroke="#b6b6b6" stroke-width="0.8" stroke-linecap="round"/>
<path d="M112.67,82.68 C113.65,82.44 116.43,81.70 118.57,81.21 C120.70,80.72 123.15,79.98 125.45,79.73 C127.74,79.49 130.20,79.40 132.33,79.73 C134.46,80.06 136.43,80.80 138.23,81.70 C140.03,82.60 142.33,84.57 143.15,85.14" fill="none" stroke="#b6b6b6" stroke-width="0.8" stroke-linecap="round"/>
<path d="M116.11,92.02 C116.60,91.37 117.66,89.16 119.06,88.09 C120.45,87.03 122.25,86.17 124.47,85.63 C126.68,85.09 129.87,84.68 132.33,84.85 C134.79,85.01 137.25,85.70 139.21,86.62 C141.18,87.53 142.85,88.88 144.13,90.35 C145.41,91.83 146.47,93.88 146.88,95.47 C147.29,97.05 147.13,98.82 146.59,99.89 C146.05,100.96 144.13,101.53 143.64,101.86" fill="none" stroke="#e6e6e6" stroke-width="2.4" stroke-linecap="round"/>
<path d="M126.43,90.55 C127.33,89.76 130.45,89.60 132.33,89.76 C134.22,89.93 136.26,90.58 137.74,91.53 C139.21,92.48 140.69,94.24 141.18,95.47 C141.67,96.69 141.34,98.41 140.69,98.91 C140.03,99.40 138.31,98.82 137.25,98.41 C136.18,98.01 135.45,96.94 134.30,96.45 C133.15,95.96 131.59,95.79 130.36,95.47 C129.14,95.14 127.58,95.30 126.92,94.48 C126.27,93.66 125.53,91.34 126.43,90.55 Z" fill="#a7a7a7"/>
<path d="M121.52,92.52 C122.17,92.06 123.65,90.34 125.45,89.76 C127.25,89.19 130.20,88.94 132.33,89.07 C134.46,89.20 136.59,89.73 138.23,90.55 C139.87,91.37 141.34,92.76 142.16,93.99 C142.98,95.22 143.31,96.94 143.15,97.92 C142.98,98.91 141.51,99.56 141.18,99.89" fill="none" stroke="#eeeeee" stroke-width="1.2" stroke-linecap="round"/>
<path d="M115.62,95.47 C115.94,94.56 117.66,93.83 118.57,93.99 C119.47,94.15 120.86,95.55 121.02,96.45 C121.19,97.35 120.29,98.91 119.55,99.40 C118.81,99.89 117.25,100.05 116.60,99.40 C115.94,98.74 115.29,96.37 115.62,95.47 Z" fill="#a4a4a4"/>
<clipPath id="tclip4"><path d="M94.47,96.45 C94.39,95.30 94.23,94.15 94.47,92.52 C94.72,90.88 95.29,88.25 95.95,86.62 C96.61,84.98 97.51,83.83 98.41,82.68 C99.31,81.54 100.46,80.72 101.36,79.73 C102.26,78.75 102.91,77.68 103.82,76.78 C104.72,75.88 105.70,75.14 106.77,74.32 C107.83,73.51 108.98,72.60 110.21,71.87 C111.44,71.13 112.75,70.42 114.14,69.90 C115.53,69.38 117.01,68.97 118.57,68.72 C120.12,68.47 121.84,68.31 123.48,68.42 C125.12,68.54 126.76,69.00 128.40,69.41 C130.04,69.82 131.68,70.23 133.31,70.88 C134.95,71.54 136.59,72.44 138.23,73.34 C139.87,74.24 141.67,75.23 143.15,76.29 C144.62,77.36 145.85,78.50 147.08,79.73 C148.31,80.96 149.54,82.19 150.52,83.67 C151.51,85.14 152.32,86.94 152.98,88.58 C153.64,90.22 154.21,92.02 154.46,93.50 C154.70,94.97 154.70,96.12 154.46,97.43 C154.21,98.74 153.72,100.22 152.98,101.36 C152.24,102.51 151.18,103.58 150.03,104.31 C148.88,105.05 147.57,105.43 146.10,105.79 C144.62,106.15 142.82,106.48 141.18,106.48 C139.54,106.48 137.74,106.15 136.26,105.79 C134.79,105.43 133.48,104.81 132.33,104.31 C131.18,103.82 130.36,103.17 129.38,102.84 C128.40,102.51 127.04,101.86 126.43,102.35 C125.83,102.84 126.10,104.48 125.74,105.79 C125.38,107.10 124.89,108.82 124.27,110.21 C123.65,111.61 122.76,112.92 122.01,114.15 C121.25,115.38 120.40,116.61 119.75,117.59 C119.09,118.57 118.79,119.59 118.07,120.05 C117.35,120.51 116.48,120.59 115.42,120.34 C114.35,120.10 112.80,119.28 111.68,118.57 C110.57,117.87 109.88,117.18 108.73,116.11 C107.59,115.05 106.03,113.49 104.80,112.18 C103.57,110.87 102.26,109.56 101.36,108.25 C100.46,106.94 99.56,105.38 99.39,104.31 C99.23,103.25 100.78,102.35 100.37,101.86 C99.96,101.36 97.83,101.77 96.93,101.36 C96.03,100.96 95.38,100.22 94.97,99.40 C94.56,98.58 94.56,97.60 94.47,96.45 Z"/></clipPath>
<rect x="93.5" y="67.4" width="62.0" height="53.9" filter="url(#btex)" clip-path="url(#tclip4)"/>
<path d="M94.47,96.45 C94.42,95.65 94.30,93.66 94.47,92.52 C94.65,91.37 95.49,87.76 95.95,86.62 C96.41,85.47 97.83,83.49 98.41,82.68 C98.98,81.88 100.29,79.85 100.87,79.73 C101.44,79.62 102.64,81.13 103.32,81.70 C104.01,82.27 106.14,83.96 106.77,84.65 C107.40,85.34 108.33,86.74 108.73,87.60 C109.13,88.46 109.75,91.34 110.21,92.02 C110.67,92.71 112.09,93.27 112.67,93.50 C113.24,93.73 114.67,93.82 115.12,93.99 C115.58,94.16 116.66,94.69 116.60,94.97 C116.54,95.26 115.26,96.22 114.63,96.45 C114.00,96.68 111.99,96.71 111.19,96.94 C110.39,97.17 108.61,98.01 107.75,98.41 C106.89,98.82 104.73,99.98 103.82,100.38 C102.90,100.78 100.69,101.74 99.88,101.86 C99.08,101.97 97.51,101.65 96.93,101.36 C96.36,101.08 95.25,99.97 94.97,99.40 C94.68,98.82 94.53,97.25 94.47,96.45 Z" fill="#e66a6b"/>
<path d="M119.55,93.50 C119.66,92.81 121.32,91.03 122.01,90.55 C122.70,90.07 124.76,89.43 125.45,89.37 C126.14,89.31 127.51,89.63 127.91,90.06 C128.31,90.48 128.83,92.26 128.89,93.01 C128.95,93.75 128.91,95.99 128.40,96.45 C127.88,96.91 125.33,96.94 124.47,96.94 C123.60,96.94 121.60,96.85 121.02,96.45 C120.45,96.05 119.43,94.19 119.55,93.50 Z" fill="#e66a6b"/>
</g>
<clipPath id="sagclip2"><path d="M332.47,96.45 C332.39,95.30 332.23,94.15 332.47,92.52 C332.72,90.88 333.29,88.25 333.95,86.62 C334.61,84.98 335.51,83.83 336.41,82.68 C337.31,81.54 338.46,80.72 339.36,79.73 C340.26,78.75 340.91,77.68 341.82,76.78 C342.72,75.88 343.70,75.14 344.77,74.32 C345.83,73.51 346.98,72.60 348.21,71.87 C349.44,71.13 350.75,70.42 352.14,69.90 C353.53,69.38 355.01,68.97 356.57,68.72 C358.12,68.47 359.84,68.31 361.48,68.42 C363.12,68.54 364.76,69.00 366.40,69.41 C368.04,69.82 369.68,70.23 371.31,70.88 C372.95,71.54 374.59,72.44 376.23,73.34 C377.87,74.24 379.67,75.23 381.15,76.29 C382.62,77.36 383.85,78.50 385.08,79.73 C386.31,80.96 387.54,82.19 388.52,83.67 C389.51,85.14 390.32,86.94 390.98,88.58 C391.64,90.22 392.21,92.02 392.46,93.50 C392.70,94.97 392.70,96.12 392.46,97.43 C392.21,98.74 391.72,100.22 390.98,101.36 C390.24,102.51 389.18,103.58 388.03,104.31 C386.88,105.05 385.57,105.43 384.10,105.79 C382.62,106.15 380.82,106.48 379.18,106.48 C377.54,106.48 375.74,106.15 374.26,105.79 C372.79,105.43 371.48,104.81 370.33,104.31 C369.18,103.82 368.36,103.17 367.38,102.84 C366.40,102.51 365.04,101.86 364.43,102.35 C363.83,102.84 364.10,104.48 363.74,105.79 C363.38,107.10 362.89,108.82 362.27,110.21 C361.65,111.61 360.76,112.92 360.01,114.15 C359.25,115.38 358.40,116.61 357.75,117.59 C357.09,118.57 356.79,119.59 356.07,120.05 C355.35,120.51 354.48,120.59 353.42,120.34 C352.35,120.10 350.80,119.28 349.68,118.57 C348.57,117.87 347.88,117.18 346.73,116.11 C345.59,115.05 344.03,113.49 342.80,112.18 C341.57,110.87 340.26,109.56 339.36,108.25 C338.46,106.94 337.56,105.38 337.39,104.31 C337.23,103.25 338.78,102.35 338.37,101.86 C337.96,101.36 335.83,101.77 334.93,101.36 C334.03,100.96 333.38,100.22 332.97,99.40 C332.56,98.58 332.56,97.60 332.47,96.45 Z"/></clipPath>
<path d="M332.47,96.45 C332.39,95.30 332.23,94.15 332.47,92.52 C332.72,90.88 333.29,88.25 333.95,86.62 C334.61,84.98 335.51,83.83 336.41,82.68 C337.31,81.54 338.46,80.72 339.36,79.73 C340.26,78.75 340.91,77.68 341.82,76.78 C342.72,75.88 343.70,75.14 344.77,74.32 C345.83,73.51 346.98,72.60 348.21,71.87 C349.44,71.13 350.75,70.42 352.14,69.90 C353.53,69.38 355.01,68.97 356.57,68.72 C358.12,68.47 359.84,68.31 361.48,68.42 C363.12,68.54 364.76,69.00 366.40,69.41 C368.04,69.82 369.68,70.23 371.31,70.88 C372.95,71.54 374.59,72.44 376.23,73.34 C377.87,74.24 379.67,75.23 381.15,76.29 C382.62,77.36 383.85,78.50 385.08,79.73 C386.31,80.96 387.54,82.19 388.52,83.67 C389.51,85.14 390.32,86.94 390.98,88.58 C391.64,90.22 392.21,92.02 392.46,93.50 C392.70,94.97 392.70,96.12 392.46,97.43 C392.21,98.74 391.72,100.22 390.98,101.36 C390.24,102.51 389.18,103.58 388.03,104.31 C386.88,105.05 385.57,105.43 384.10,105.79 C382.62,106.15 380.82,106.48 379.18,106.48 C377.54,106.48 375.74,106.15 374.26,105.79 C372.79,105.43 371.48,104.81 370.33,104.31 C369.18,103.82 368.36,103.17 367.38,102.84 C366.40,102.51 365.04,101.86 364.43,102.35 C363.83,102.84 364.10,104.48 363.74,105.79 C363.38,107.10 362.89,108.82 362.27,110.21 C361.65,111.61 360.76,112.92 360.01,114.15 C359.25,115.38 358.40,116.61 357.75,117.59 C357.09,118.57 356.79,119.59 356.07,120.05 C355.35,120.51 354.48,120.59 353.42,120.34 C352.35,120.10 350.80,119.28 349.68,118.57 C348.57,117.87 347.88,117.18 346.73,116.11 C345.59,115.05 344.03,113.49 342.80,112.18 C341.57,110.87 340.26,109.56 339.36,108.25 C338.46,106.94 337.56,105.38 337.39,104.31 C337.23,103.25 338.78,102.35 338.37,101.86 C337.96,101.36 335.83,101.77 334.93,101.36 C334.03,100.96 333.38,100.22 332.97,99.40 C332.56,98.58 332.56,97.60 332.47,96.45 Z" fill="#d0d0d0"/>
<g clip-path="url(#sagclip2)">
<path d="M338.37,101.86 C339.77,100.91 343.21,99.51 345.75,98.61 C348.29,97.71 351.73,96.48 353.62,96.45 C355.50,96.42 356.53,96.94 357.06,98.41 C357.58,99.89 356.93,103.00 356.76,105.30 C356.60,107.59 356.27,109.80 356.07,112.18 C355.88,114.56 356.16,118.24 355.58,119.56 C355.01,120.87 353.62,120.21 352.63,120.05 C351.65,119.88 350.67,119.23 349.68,118.57 C348.70,117.92 347.88,117.18 346.73,116.11 C345.59,115.05 344.03,113.49 342.80,112.18 C341.57,110.87 340.26,109.56 339.36,108.25 C338.46,106.94 337.56,105.38 337.39,104.31 C337.23,103.25 336.98,102.81 338.37,101.86 Z" fill="#cbcbcb"/>
<path d="M339.00,103.00 C339.67,102.75 341.50,101.67 343.00,101.50 C344.50,101.33 346.42,101.58 348.00,102.00 C349.58,102.42 351.75,103.67 352.50,104.00" fill="none" stroke="#b9b9b9" stroke-width="0.8" stroke-linecap="round"/>
<path d="M338.00,106.50 C338.83,106.25 341.33,105.17 343.00,105.00 C344.67,104.83 346.42,105.08 348.00,105.50 C349.58,105.92 351.75,107.17 352.50,107.50" fill="none" stroke="#b9b9b9" stroke-width="0.8" stroke-linecap="round"/>
<path d="M339.50,110.00 C340.25,109.83 342.50,109.00 344.00,109.00 C345.50,109.00 347.17,109.50 348.50,110.00 C349.83,110.50 351.42,111.67 352.00,112.00" fill="none" stroke="#b9b9b9" stroke-width="0.8" stroke-linecap="round"/>
<path d="M342.00,113.50 C342.67,113.42 344.58,112.75 346.00,113.00 C347.42,113.25 349.75,114.67 350.50,115.00" fill="none" stroke="#b9b9b9" stroke-width="0.8" stroke-linecap="round"/>
<path d="M345.50,116.50 C346.17,116.63 348.83,117.17 349.50,117.30" fill="none" stroke="#b9b9b9" stroke-width="0.8" stroke-linecap="round"/>
<path d="M335.50,101.80 C336.42,101.43 339.25,100.35 341.00,99.60 C342.75,98.85 344.33,97.93 346.00,97.30 C347.67,96.67 349.50,96.08 351.00,95.80 C352.50,95.52 354.33,95.63 355.00,95.60" fill="none" stroke="#aaaaaa" stroke-width="1.1" stroke-linecap="round"/>
<path d="M355.29,96.45 C356.04,95.37 357.75,95.47 359.02,95.47 C360.30,95.47 361.96,95.76 362.96,96.45 C363.96,97.14 364.81,98.33 365.02,99.59 C365.23,100.86 364.50,102.74 364.24,104.02 C363.97,105.30 363.83,106.18 363.45,107.26 C363.07,108.35 362.48,109.49 361.97,110.51 C361.47,111.53 360.97,112.36 360.40,113.36 C359.83,114.36 359.22,115.44 358.53,116.51 C357.84,117.57 357.11,119.13 356.27,119.75 C355.43,120.37 354.43,120.47 353.52,120.24 C352.60,120.01 351.16,119.16 350.76,118.38 C350.37,117.59 350.99,116.36 351.16,115.52 C351.32,114.69 351.47,114.28 351.75,113.36 C352.03,112.44 352.48,111.03 352.83,110.02 C353.17,109.00 353.53,108.61 353.81,107.26 C354.09,105.92 354.25,103.76 354.50,101.95 C354.75,100.15 354.53,97.53 355.29,96.45 Z" fill="#d5d5d5"/>
<path d="M348.50,106.80 C349.00,106.87 350.58,107.07 351.50,107.20 C352.42,107.33 353.58,107.53 354.00,107.60" fill="none" stroke="#a9a9a9" stroke-width="0.9" stroke-linecap="round"/>
<path d="M336.90,88.58 C337.56,88.25 340.18,86.94 340.83,86.62" fill="none" stroke="#b6b6b6" stroke-width="0.8" stroke-linecap="round"/>
<path d="M339.36,83.67 C339.93,83.91 341.90,85.47 342.80,85.14 C343.70,84.81 344.44,82.27 344.77,81.70" fill="none" stroke="#b6b6b6" stroke-width="0.8" stroke-linecap="round"/>
<path d="M343.78,77.77 C344.27,78.26 346.00,80.88 346.73,80.72 C347.47,80.55 347.96,77.44 348.21,76.78" fill="none" stroke="#b6b6b6" stroke-width="0.8" stroke-linecap="round"/>
<path d="M348.70,74.32 C349.03,75.06 350.01,78.83 350.67,78.75 C351.32,78.67 352.30,74.65 352.63,73.83" fill="none" stroke="#b6b6b6" stroke-width="0.8" stroke-linecap="round"/>
<path d="M354.11,71.87 C354.35,72.77 355.01,77.19 355.58,77.27 C356.16,77.36 357.22,73.18 357.55,72.36" fill="none" stroke="#b6b6b6" stroke-width="0.8" stroke-linecap="round"/>
<path d="M359.52,71.37 C359.68,72.44 360.01,77.68 360.50,77.77 C360.99,77.85 362.14,72.85 362.47,71.87" fill="none" stroke="#b6b6b6" stroke-width="0.8" stroke-linecap="round"/>
<path d="M364.92,71.87 C365.01,72.85 364.92,77.52 365.41,77.77 C365.91,78.01 367.46,74.08 367.87,73.34" fill="none" stroke="#b6b6b6" stroke-width="0.8" stroke-linecap="round"/>
<path d="M370.33,73.83 C370.50,74.82 370.82,79.49 371.31,79.73 C371.81,79.98 372.95,76.05 373.28,75.31" fill="none" stroke="#b6b6b6" stroke-width="0.8" stroke-linecap="round"/>
<path d="M375.25,76.29 C375.41,77.19 375.74,81.45 376.23,81.70 C376.72,81.94 377.87,78.42 378.20,77.77" fill="none" stroke="#b6b6b6" stroke-width="0.8" stroke-linecap="round"/>
<path d="M380.66,79.73 C380.57,80.55 379.75,84.32 380.16,84.65 C380.57,84.98 382.62,82.19 383.11,81.70" fill="none" stroke="#b6b6b6" stroke-width="0.8" stroke-linecap="round"/>
<path d="M384.59,84.65 C384.34,85.30 382.70,88.09 383.11,88.58 C383.52,89.07 386.39,87.76 387.05,87.60" fill="none" stroke="#b6b6b6" stroke-width="0.8" stroke-linecap="round"/>
<path d="M387.54,90.55 C387.05,90.88 384.26,92.02 384.59,92.52 C384.92,93.01 388.69,93.33 389.51,93.50" fill="none" stroke="#b6b6b6" stroke-width="0.8" stroke-linecap="round"/>
<path d="M389.01,96.45 C388.52,96.61 386.56,97.27 386.06,97.43" fill="none" stroke="#b6b6b6" stroke-width="0.8" stroke-linecap="round"/>
<path d="M387.54,100.87 C387.05,100.87 385.08,100.87 384.59,100.87" fill="none" stroke="#b6b6b6" stroke-width="0.8" stroke-linecap="round"/>
<path d="M382.62,103.33 C382.38,103.17 381.39,102.51 381.15,102.35" fill="none" stroke="#b6b6b6" stroke-width="0.8" stroke-linecap="round"/>
<path d="M377.21,104.31 C377.05,104.07 376.39,103.09 376.23,102.84" fill="none" stroke="#b6b6b6" stroke-width="0.8" stroke-linecap="round"/>
<path d="M350.67,82.68 C351.65,82.44 354.43,81.70 356.57,81.21 C358.70,80.72 361.15,79.98 363.45,79.73 C365.74,79.49 368.20,79.40 370.33,79.73 C372.46,80.06 374.43,80.80 376.23,81.70 C378.03,82.60 380.33,84.57 381.15,85.14" fill="none" stroke="#b6b6b6" stroke-width="0.8" stroke-linecap="round"/>
<path d="M354.11,92.02 C354.60,91.37 355.66,89.16 357.06,88.09 C358.45,87.03 360.25,86.17 362.47,85.63 C364.68,85.09 367.87,84.68 370.33,84.85 C372.79,85.01 375.25,85.70 377.21,86.62 C379.18,87.53 380.85,88.88 382.13,90.35 C383.41,91.83 384.47,93.88 384.88,95.47 C385.29,97.05 385.13,98.82 384.59,99.89 C384.05,100.96 382.13,101.53 381.64,101.86" fill="none" stroke="#e6e6e6" stroke-width="2.4" stroke-linecap="round"/>
<path d="M364.43,90.55 C365.33,89.76 368.45,89.60 370.33,89.76 C372.22,89.93 374.26,90.58 375.74,91.53 C377.21,92.48 378.69,94.24 379.18,95.47 C379.67,96.69 379.34,98.41 378.69,98.91 C378.03,99.40 376.31,98.82 375.25,98.41 C374.18,98.01 373.45,96.94 372.30,96.45 C371.15,95.96 369.59,95.79 368.36,95.47 C367.14,95.14 365.58,95.30 364.92,94.48 C364.27,93.66 363.53,91.34 364.43,90.55 Z" fill="#a7a7a7"/>
<path d="M359.52,92.52 C360.17,92.06 361.65,90.34 363.45,89.76 C365.25,89.19 368.20,88.94 370.33,89.07 C372.46,89.20 374.59,89.73 376.23,90.55 C377.87,91.37 379.34,92.76 380.16,93.99 C380.98,95.22 381.31,96.94 381.15,97.92 C380.98,98.91 379.51,99.56 379.18,99.89" fill="none" stroke="#eeeeee" stroke-width="1.2" stroke-linecap="round"/>
<path d="M353.62,95.47 C353.94,94.56 355.66,93.83 356.57,93.99 C357.47,94.15 358.86,95.55 359.02,96.45 C359.19,97.35 358.29,98.91 357.55,99.40 C356.81,99.89 355.25,100.05 354.60,99.40 C353.94,98.74 353.29,96.37 353.62,95.47 Z" fill="#a4a4a4"/>
<clipPath id="tclip5"><path d="M332.47,96.45 C332.39,95.30 332.23,94.15 332.47,92.52 C332.72,90.88 333.29,88.25 333.95,86.62 C334.61,84.98 335.51,83.83 336.41,82.68 C337.31,81.54 338.46,80.72 339.36,79.73 C340.26,78.75 340.91,77.68 341.82,76.78 C342.72,75.88 343.70,75.14 344.77,74.32 C345.83,73.51 346.98,72.60 348.21,71.87 C349.44,71.13 350.75,70.42 352.14,69.90 C353.53,69.38 355.01,68.97 356.57,68.72 C358.12,68.47 359.84,68.31 361.48,68.42 C363.12,68.54 364.76,69.00 366.40,69.41 C368.04,69.82 369.68,70.23 371.31,70.88 C372.95,71.54 374.59,72.44 376.23,73.34 C377.87,74.24 379.67,75.23 381.15,76.29 C382.62,77.36 383.85,78.50 385.08,79.73 C386.31,80.96 387.54,82.19 388.52,83.67 C389.51,85.14 390.32,86.94 390.98,88.58 C391.64,90.22 392.21,92.02 392.46,93.50 C392.70,94.97 392.70,96.12 392.46,97.43 C392.21,98.74 391.72,100.22 390.98,101.36 C390.24,102.51 389.18,103.58 388.03,104.31 C386.88,105.05 385.57,105.43 384.10,105.79 C382.62,106.15 380.82,106.48 379.18,106.48 C377.54,106.48 375.74,106.15 374.26,105.79 C372.79,105.43 371.48,104.81 370.33,104.31 C369.18,103.82 368.36,103.17 367.38,102.84 C366.40,102.51 365.04,101.86 364.43,102.35 C363.83,102.84 364.10,104.48 363.74,105.79 C363.38,107.10 362.89,108.82 362.27,110.21 C361.65,111.61 360.76,112.92 360.01,114.15 C359.25,115.38 358.40,116.61 357.75,117.59 C357.09,118.57 356.79,119.59 356.07,120.05 C355.35,120.51 354.48,120.59 353.42,120.34 C352.35,120.10 350.80,119.28 349.68,118.57 C348.57,117.87 347.88,117.18 346.73,116.11 C345.59,115.05 344.03,113.49 342.80,112.18 C341.57,110.87 340.26,109.56 339.36,108.25 C338.46,106.94 337.56,105.38 337.39,104.31 C337.23,103.25 338.78,102.35 338.37,101.86 C337.96,101.36 335.83,101.77 334.93,101.36 C334.03,100.96 333.38,100.22 332.97,99.40 C332.56,98.58 332.56,97.60 332.47,96.45 Z"/></clipPath>
<rect x="331.5" y="67.4" width="62.0" height="53.9" filter="url(#btex)" clip-path="url(#tclip5)"/>
<path d="M332.47,96.45 C332.53,95.59 332.68,92.79 332.97,91.53 C333.25,90.27 334.42,86.78 334.93,85.63 C335.45,84.49 336.88,82.39 337.39,81.70 C337.91,81.01 338.84,79.68 339.36,79.73 C339.87,79.79 341.19,81.62 341.82,82.19 C342.45,82.76 344.19,84.13 344.77,84.65 C345.34,85.17 346.39,85.98 346.73,86.62 C347.08,87.25 347.49,89.31 347.72,90.06 C347.95,90.80 347.90,92.61 348.70,93.01 C349.50,93.41 353.85,93.21 354.60,93.50 C355.34,93.79 355.43,95.21 355.09,95.47 C354.75,95.72 352.39,95.52 351.65,95.66 C350.90,95.80 349.50,96.38 348.70,96.65 C347.90,96.91 345.68,97.51 344.77,97.92 C343.85,98.34 341.75,99.73 340.83,100.18 C339.92,100.64 337.70,101.78 336.90,101.86 C336.10,101.94 334.47,101.22 333.95,100.87 C333.43,100.53 332.65,99.42 332.47,98.91 C332.30,98.39 332.42,97.31 332.47,96.45 Z" fill="#e66a6b"/>
<path d="M354.11,77.27 C354.68,76.99 357.18,78.20 358.04,78.26 C358.90,78.31 360.87,78.11 361.48,77.77 C362.09,77.42 362.96,76.05 363.25,75.31 C363.54,74.56 363.75,72.10 363.94,71.37 C364.14,70.65 364.18,69.38 364.92,69.11 C365.67,68.85 369.24,68.85 370.33,69.11 C371.42,69.38 373.32,70.82 374.26,71.37 C375.21,71.93 377.96,72.86 378.39,73.83 C378.83,74.81 378.16,78.81 378.00,79.73 C377.84,80.65 377.40,81.41 377.02,81.70 C376.64,81.99 374.60,81.90 374.76,82.19 C374.92,82.48 377.99,83.78 378.39,84.16 C378.80,84.54 378.68,85.29 378.20,85.44 C377.72,85.58 375.41,85.46 374.26,85.44 C373.12,85.41 369.74,85.26 368.36,85.24 C366.99,85.22 363.67,85.17 362.47,85.24 C361.26,85.31 358.84,85.50 358.04,85.83 C357.24,86.16 355.93,87.31 355.58,88.09 C355.24,88.87 355.21,91.77 355.09,92.52 C354.98,93.26 354.94,94.37 354.60,94.48 C354.25,94.60 352.54,94.07 352.14,93.50 C351.74,92.92 351.19,90.54 351.16,89.57 C351.12,88.59 351.62,86.17 351.85,85.14 C352.08,84.11 352.86,81.63 353.12,80.72 C353.39,79.80 353.53,77.56 354.11,77.27 Z" fill="#e66a6b"/>
<path d="M358.04,93.50 C358.21,92.79 359.87,90.83 360.50,90.35 C361.13,89.87 362.82,89.40 363.45,89.37 C364.08,89.33 365.51,89.63 365.91,90.06 C366.31,90.48 366.81,92.26 366.89,93.01 C366.97,93.75 367.11,95.99 366.59,96.45 C366.08,96.91 363.35,96.94 362.47,96.94 C361.58,96.94 359.54,96.85 359.02,96.45 C358.51,96.05 357.87,94.21 358.04,93.50 Z" fill="#e66a6b"/>
<path d="M368.36,92.02 C368.54,91.68 370.63,91.36 371.31,91.53 C372.00,91.70 373.81,92.87 374.26,93.50 C374.72,94.13 375.25,96.14 375.25,96.94 C375.25,97.74 374.67,99.96 374.26,100.38 C373.86,100.81 372.21,100.92 371.81,100.58 C371.40,100.23 371.05,98.14 370.82,97.43 C370.59,96.72 370.13,95.11 369.84,94.48 C369.55,93.85 368.19,92.37 368.36,92.02 Z" fill="#e66a6b"/>
</g>
<clipPath id="sagclip3"><path d="M556.27,96.45 C556.19,95.30 556.03,94.15 556.27,92.52 C556.52,90.88 557.09,88.25 557.75,86.62 C558.41,84.98 559.31,83.83 560.21,82.68 C561.11,81.54 562.26,80.72 563.16,79.73 C564.06,78.75 564.71,77.68 565.62,76.78 C566.52,75.88 567.50,75.14 568.57,74.32 C569.63,73.51 570.78,72.60 572.01,71.87 C573.24,71.13 574.55,70.42 575.94,69.90 C577.33,69.38 578.81,68.97 580.37,68.72 C581.92,68.47 583.64,68.31 585.28,68.42 C586.92,68.54 588.56,69.00 590.20,69.41 C591.84,69.82 593.48,70.23 595.11,70.88 C596.75,71.54 598.39,72.44 600.03,73.34 C601.67,74.24 603.47,75.23 604.95,76.29 C606.42,77.36 607.65,78.50 608.88,79.73 C610.11,80.96 611.34,82.19 612.32,83.67 C613.31,85.14 614.12,86.94 614.78,88.58 C615.44,90.22 616.01,92.02 616.26,93.50 C616.50,94.97 616.50,96.12 616.26,97.43 C616.01,98.74 615.52,100.22 614.78,101.36 C614.04,102.51 612.98,103.58 611.83,104.31 C610.68,105.05 609.37,105.43 607.90,105.79 C606.42,106.15 604.62,106.48 602.98,106.48 C601.34,106.48 599.54,106.15 598.06,105.79 C596.59,105.43 595.28,104.81 594.13,104.31 C592.98,103.82 592.16,103.17 591.18,102.84 C590.20,102.51 588.84,101.86 588.23,102.35 C587.63,102.84 587.90,104.48 587.54,105.79 C587.18,107.10 586.69,108.82 586.07,110.21 C585.45,111.61 584.56,112.92 583.81,114.15 C583.05,115.38 582.20,116.61 581.55,117.59 C580.89,118.57 580.59,119.59 579.87,120.05 C579.15,120.51 578.28,120.59 577.22,120.34 C576.15,120.10 574.60,119.28 573.48,118.57 C572.37,117.87 571.68,117.18 570.53,116.11 C569.39,115.05 567.83,113.49 566.60,112.18 C565.37,110.87 564.06,109.56 563.16,108.25 C562.26,106.94 561.36,105.38 561.19,104.31 C561.03,103.25 562.58,102.35 562.17,101.86 C561.76,101.36 559.63,101.77 558.73,101.36 C557.83,100.96 557.18,100.22 556.77,99.40 C556.36,98.58 556.36,97.60 556.27,96.45 Z"/></clipPath>
<path d="M556.27,96.45 C556.19,95.30 556.03,94.15 556.27,92.52 C556.52,90.88 557.09,88.25 557.75,86.62 C558.41,84.98 559.31,83.83 560.21,82.68 C561.11,81.54 562.26,80.72 563.16,79.73 C564.06,78.75 564.71,77.68 565.62,76.78 C566.52,75.88 567.50,75.14 568.57,74.32 C569.63,73.51 570.78,72.60 572.01,71.87 C573.24,71.13 574.55,70.42 575.94,69.90 C577.33,69.38 578.81,68.97 580.37,68.72 C581.92,68.47 583.64,68.31 585.28,68.42 C586.92,68.54 588.56,69.00 590.20,69.41 C591.84,69.82 593.48,70.23 595.11,70.88 C596.75,71.54 598.39,72.44 600.03,73.34 C601.67,74.24 603.47,75.23 604.95,76.29 C606.42,77.36 607.65,78.50 608.88,79.73 C610.11,80.96 611.34,82.19 612.32,83.67 C613.31,85.14 614.12,86.94 614.78,88.58 C615.44,90.22 616.01,92.02 616.26,93.50 C616.50,94.97 616.50,96.12 616.26,97.43 C616.01,98.74 615.52,100.22 614.78,101.36 C614.04,102.51 612.98,103.58 611.83,104.31 C610.68,105.05 609.37,105.43 607.90,105.79 C606.42,106.15 604.62,106.48 602.98,106.48 C601.34,106.48 599.54,106.15 598.06,105.79 C596.59,105.43 595.28,104.81 594.13,104.31 C592.98,103.82 592.16,103.17 591.18,102.84 C590.20,102.51 588.84,101.86 588.23,102.35 C587.63,102.84 587.90,104.48 587.54,105.79 C587.18,107.10 586.69,108.82 586.07,110.21 C585.45,111.61 584.56,112.92 583.81,114.15 C583.05,115.38 582.20,116.61 581.55,117.59 C580.89,118.57 580.59,119.59 579.87,120.05 C579.15,120.51 578.28,120.59 577.22,120.34 C576.15,120.10 574.60,119.28 573.48,118.57 C572.37,117.87 571.68,117.18 570.53,116.11 C569.39,115.05 567.83,113.49 566.60,112.18 C565.37,110.87 564.06,109.56 563.16,108.25 C562.26,106.94 561.36,105.38 561.19,104.31 C561.03,103.25 562.58,102.35 562.17,101.86 C561.76,101.36 559.63,101.77 558.73,101.36 C557.83,100.96 557.18,100.22 556.77,99.40 C556.36,98.58 556.36,97.60 556.27,96.45 Z" fill="#d0d0d0"/>
<g clip-path="url(#sagclip3)">
<path d="M562.17,101.86 C563.57,100.91 567.01,99.51 569.55,98.61 C572.09,97.71 575.53,96.48 577.42,96.45 C579.30,96.42 580.33,96.94 580.86,98.41 C581.38,99.89 580.73,103.00 580.56,105.30 C580.40,107.59 580.07,109.80 579.87,112.18 C579.68,114.56 579.96,118.24 579.38,119.56 C578.81,120.87 577.42,120.21 576.43,120.05 C575.45,119.88 574.47,119.23 573.48,118.57 C572.50,117.92 571.68,117.18 570.53,116.11 C569.39,115.05 567.83,113.49 566.60,112.18 C565.37,110.87 564.06,109.56 563.16,108.25 C562.26,106.94 561.36,105.38 561.19,104.31 C561.03,103.25 560.78,102.81 562.17,101.86 Z" fill="#cbcbcb"/>
<path d="M562.80,103.00 C563.47,102.75 565.30,101.67 566.80,101.50 C568.30,101.33 570.22,101.58 571.80,102.00 C573.38,102.42 575.55,103.67 576.30,104.00" fill="none" stroke="#b9b9b9" stroke-width="0.8" stroke-linecap="round"/>
<path d="M561.80,106.50 C562.63,106.25 565.13,105.17 566.80,105.00 C568.47,104.83 570.22,105.08 571.80,105.50 C573.38,105.92 575.55,107.17 576.30,107.50" fill="none" stroke="#b9b9b9" stroke-width="0.8" stroke-linecap="round"/>
<path d="M563.30,110.00 C564.05,109.83 566.30,109.00 567.80,109.00 C569.30,109.00 570.97,109.50 572.30,110.00 C573.63,110.50 575.22,111.67 575.80,112.00" fill="none" stroke="#b9b9b9" stroke-width="0.8" stroke-linecap="round"/>
<path d="M565.80,113.50 C566.47,113.42 568.38,112.75 569.80,113.00 C571.22,113.25 573.55,114.67 574.30,115.00" fill="none" stroke="#b9b9b9" stroke-width="0.8" stroke-linecap="round"/>
<path d="M569.30,116.50 C569.97,116.63 572.63,117.17 573.30,117.30" fill="none" stroke="#b9b9b9" stroke-width="0.8" stroke-linecap="round"/>
<path d="M559.30,101.80 C560.22,101.43 563.05,100.35 564.80,99.60 C566.55,98.85 568.13,97.93 569.80,97.30 C571.47,96.67 573.30,96.08 574.80,95.80 C576.30,95.52 578.13,95.63 578.80,95.60" fill="none" stroke="#aaaaaa" stroke-width="1.1" stroke-linecap="round"/>
<path d="M579.09,96.45 C579.84,95.37 581.55,95.47 582.82,95.47 C584.10,95.47 585.76,95.76 586.76,96.45 C587.76,97.14 588.61,98.33 588.82,99.59 C589.03,100.86 588.30,102.74 588.04,104.02 C587.77,105.30 587.63,106.18 587.25,107.26 C586.87,108.35 586.28,109.49 585.77,110.51 C585.27,111.53 584.77,112.36 584.20,113.36 C583.63,114.36 583.02,115.44 582.33,116.51 C581.64,117.57 580.91,119.13 580.07,119.75 C579.23,120.37 578.23,120.47 577.32,120.24 C576.40,120.01 574.96,119.16 574.56,118.38 C574.17,117.59 574.79,116.36 574.96,115.52 C575.12,114.69 575.27,114.28 575.55,113.36 C575.83,112.44 576.28,111.03 576.63,110.02 C576.97,109.00 577.33,108.61 577.61,107.26 C577.89,105.92 578.05,103.76 578.30,101.95 C578.55,100.15 578.33,97.53 579.09,96.45 Z" fill="#d5d5d5"/>
<path d="M572.30,106.80 C572.80,106.87 574.38,107.07 575.30,107.20 C576.22,107.33 577.38,107.53 577.80,107.60" fill="none" stroke="#a9a9a9" stroke-width="0.9" stroke-linecap="round"/>
<path d="M560.70,88.58 C561.36,88.25 563.98,86.94 564.63,86.62" fill="none" stroke="#b6b6b6" stroke-width="0.8" stroke-linecap="round"/>
<path d="M563.16,83.67 C563.73,83.91 565.70,85.47 566.60,85.14 C567.50,84.81 568.24,82.27 568.57,81.70" fill="none" stroke="#b6b6b6" stroke-width="0.8" stroke-linecap="round"/>
<path d="M567.58,77.77 C568.07,78.26 569.80,80.88 570.53,80.72 C571.27,80.55 571.76,77.44 572.01,76.78" fill="none" stroke="#b6b6b6" stroke-width="0.8" stroke-linecap="round"/>
<path d="M572.50,74.32 C572.83,75.06 573.81,78.83 574.47,78.75 C575.12,78.67 576.10,74.65 576.43,73.83" fill="none" stroke="#b6b6b6" stroke-width="0.8" stroke-linecap="round"/>
<path d="M577.91,71.87 C578.15,72.77 578.81,77.19 579.38,77.27 C579.96,77.36 581.02,73.18 581.35,72.36" fill="none" stroke="#b6b6b6" stroke-width="0.8" stroke-linecap="round"/>
<path d="M583.32,71.37 C583.48,72.44 583.81,77.68 584.30,77.77 C584.79,77.85 585.94,72.85 586.27,71.87" fill="none" stroke="#b6b6b6" stroke-width="0.8" stroke-linecap="round"/>
<path d="M588.72,71.87 C588.81,72.85 588.72,77.52 589.21,77.77 C589.71,78.01 591.26,74.08 591.67,73.34" fill="none" stroke="#b6b6b6" stroke-width="0.8" stroke-linecap="round"/>
<path d="M594.13,73.83 C594.30,74.82 594.62,79.49 595.11,79.73 C595.61,79.98 596.75,76.05 597.08,75.31" fill="none" stroke="#b6b6b6" stroke-width="0.8" stroke-linecap="round"/>
<path d="M599.05,76.29 C599.21,77.19 599.54,81.45 600.03,81.70 C600.52,81.94 601.67,78.42 602.00,77.77" fill="none" stroke="#b6b6b6" stroke-width="0.8" stroke-linecap="round"/>
<path d="M604.46,79.73 C604.37,80.55 603.55,84.32 603.96,84.65 C604.37,84.98 606.42,82.19 606.91,81.70" fill="none" stroke="#b6b6b6" stroke-width="0.8" stroke-linecap="round"/>
<path d="M608.39,84.65 C608.14,85.30 606.50,88.09 606.91,88.58 C607.32,89.07 610.19,87.76 610.85,87.60" fill="none" stroke="#b6b6b6" stroke-width="0.8" stroke-linecap="round"/>
<path d="M611.34,90.55 C610.85,90.88 608.06,92.02 608.39,92.52 C608.72,93.01 612.49,93.33 613.31,93.50" fill="none" stroke="#b6b6b6" stroke-width="0.8" stroke-linecap="round"/>
<path d="M612.81,96.45 C612.32,96.61 610.36,97.27 609.86,97.43" fill="none" stroke="#b6b6b6" stroke-width="0.8" stroke-linecap="round"/>
<path d="M611.34,100.87 C610.85,100.87 608.88,100.87 608.39,100.87" fill="none" stroke="#b6b6b6" stroke-width="0.8" stroke-linecap="round"/>
<path d="M606.42,103.33 C606.18,103.17 605.19,102.51 604.95,102.35" fill="none" stroke="#b6b6b6" stroke-width="0.8" stroke-linecap="round"/>
<path d="M601.01,104.31 C600.85,104.07 600.19,103.09 600.03,102.84" fill="none" stroke="#b6b6b6" stroke-width="0.8" stroke-linecap="round"/>
<path d="M574.47,82.68 C575.45,82.44 578.23,81.70 580.37,81.21 C582.50,80.72 584.95,79.98 587.25,79.73 C589.54,79.49 592.00,79.40 594.13,79.73 C596.26,80.06 598.23,80.80 600.03,81.70 C601.83,82.60 604.13,84.57 604.95,85.14" fill="none" stroke="#b6b6b6" stroke-width="0.8" stroke-linecap="round"/>
<path d="M577.91,92.02 C578.40,91.37 579.46,89.16 580.86,88.09 C582.25,87.03 584.05,86.17 586.27,85.63 C588.48,85.09 591.67,84.68 594.13,84.85 C596.59,85.01 599.05,85.70 601.01,86.62 C602.98,87.53 604.65,88.88 605.93,90.35 C607.21,91.83 608.27,93.88 608.68,95.47 C609.09,97.05 608.93,98.82 608.39,99.89 C607.85,100.96 605.93,101.53 605.44,101.86" fill="none" stroke="#e6e6e6" stroke-width="2.4" stroke-linecap="round"/>
<path d="M588.23,90.55 C589.13,89.76 592.25,89.60 594.13,89.76 C596.02,89.93 598.06,90.58 599.54,91.53 C601.01,92.48 602.49,94.24 602.98,95.47 C603.47,96.69 603.14,98.41 602.49,98.91 C601.83,99.40 600.11,98.82 599.05,98.41 C597.98,98.01 597.25,96.94 596.10,96.45 C594.95,95.96 593.39,95.79 592.16,95.47 C590.94,95.14 589.38,95.30 588.72,94.48 C588.07,93.66 587.33,91.34 588.23,90.55 Z" fill="#a7a7a7"/>
<path d="M583.32,92.52 C583.97,92.06 585.45,90.34 587.25,89.76 C589.05,89.19 592.00,88.94 594.13,89.07 C596.26,89.20 598.39,89.73 600.03,90.55 C601.67,91.37 603.14,92.76 603.96,93.99 C604.78,95.22 605.11,96.94 604.95,97.92 C604.78,98.91 603.31,99.56 602.98,99.89" fill="none" stroke="#eeeeee" stroke-width="1.2" stroke-linecap="round"/>
<path d="M577.42,95.47 C577.74,94.56 579.46,93.83 580.37,93.99 C581.27,94.15 582.66,95.55 582.82,96.45 C582.99,97.35 582.09,98.91 581.35,99.40 C580.61,99.89 579.05,100.05 578.40,99.40 C577.74,98.74 577.09,96.37 577.42,95.47 Z" fill="#a4a4a4"/>
<clipPath id="tclip6"><path d="M556.27,96.45 C556.19,95.30 556.03,94.15 556.27,92.52 C556.52,90.88 557.09,88.25 557.75,86.62 C558.41,84.98 559.31,83.83 560.21,82.68 C561.11,81.54 562.26,80.72 563.16,79.73 C564.06,78.75 564.71,77.68 565.62,76.78 C566.52,75.88 567.50,75.14 568.57,74.32 C569.63,73.51 570.78,72.60 572.01,71.87 C573.24,71.13 574.55,70.42 575.94,69.90 C577.33,69.38 578.81,68.97 580.37,68.72 C581.92,68.47 583.64,68.31 585.28,68.42 C586.92,68.54 588.56,69.00 590.20,69.41 C591.84,69.82 593.48,70.23 595.11,70.88 C596.75,71.54 598.39,72.44 600.03,73.34 C601.67,74.24 603.47,75.23 604.95,76.29 C606.42,77.36 607.65,78.50 608.88,79.73 C610.11,80.96 611.34,82.19 612.32,83.67 C613.31,85.14 614.12,86.94 614.78,88.58 C615.44,90.22 616.01,92.02 616.26,93.50 C616.50,94.97 616.50,96.12 616.26,97.43 C616.01,98.74 615.52,100.22 614.78,101.36 C614.04,102.51 612.98,103.58 611.83,104.31 C610.68,105.05 609.37,105.43 607.90,105.79 C606.42,106.15 604.62,106.48 602.98,106.48 C601.34,106.48 599.54,106.15 598.06,105.79 C596.59,105.43 595.28,104.81 594.13,104.31 C592.98,103.82 592.16,103.17 591.18,102.84 C590.20,102.51 588.84,101.86 588.23,102.35 C587.63,102.84 587.90,104.48 587.54,105.79 C587.18,107.10 586.69,108.82 586.07,110.21 C585.45,111.61 584.56,112.92 583.81,114.15 C583.05,115.38 582.20,116.61 581.55,117.59 C580.89,118.57 580.59,119.59 579.87,120.05 C579.15,120.51 578.28,120.59 577.22,120.34 C576.15,120.10 574.60,119.28 573.48,118.57 C572.37,117.87 571.68,117.18 570.53,116.11 C569.39,115.05 567.83,113.49 566.60,112.18 C565.37,110.87 564.06,109.56 563.16,108.25 C562.26,106.94 561.36,105.38 561.19,104.31 C561.03,103.25 562.58,102.35 562.17,101.86 C561.76,101.36 559.63,101.77 558.73,101.36 C557.83,100.96 557.18,100.22 556.77,99.40 C556.36,98.58 556.36,97.60 556.27,96.45 Z"/></clipPath>
<rect x="555.3" y="67.4" width="62.0" height="53.9" filter="url(#btex)" clip-path="url(#tclip6)"/>
<path d="M556.18,96.45 C556.21,95.59 556.21,92.79 556.47,91.53 C556.74,90.27 557.93,86.78 558.44,85.63 C558.96,84.49 560.38,82.39 560.90,81.70 C561.42,81.01 562.35,79.68 562.87,79.73 C563.38,79.79 564.69,81.62 565.32,82.19 C565.96,82.76 567.64,84.19 568.27,84.65 C568.91,85.11 570.27,85.55 570.73,86.12 C571.19,86.70 571.92,88.82 572.21,89.57 C572.49,90.31 572.67,92.17 573.19,92.52 C573.71,92.86 576.00,92.40 576.63,92.52 C577.26,92.63 578.43,93.18 578.60,93.50 C578.77,93.82 578.51,95.02 578.11,95.27 C577.71,95.52 575.85,95.50 575.16,95.66 C574.47,95.82 573.01,96.35 572.21,96.65 C571.40,96.94 569.19,97.78 568.27,98.22 C567.36,98.65 565.26,99.96 564.34,100.38 C563.42,100.81 561.21,101.80 560.41,101.86 C559.61,101.91 557.95,101.22 557.46,100.87 C556.96,100.53 556.33,99.42 556.18,98.91 C556.03,98.39 556.15,97.31 556.18,96.45 Z" fill="#e66a6b"/>
<path d="M577.62,77.27 C578.19,77.02 580.69,78.50 581.55,78.55 C582.41,78.61 584.36,78.20 584.99,77.77 C585.62,77.33 586.61,75.62 586.96,74.82 C587.30,74.01 587.71,71.55 587.94,70.88 C588.17,70.22 588.18,69.32 588.92,69.11 C589.67,68.91 593.24,68.85 594.33,69.11 C595.42,69.38 597.32,70.82 598.26,71.37 C599.21,71.93 601.96,72.86 602.39,73.83 C602.83,74.81 602.16,78.81 602.00,79.73 C601.84,80.65 601.40,81.41 601.02,81.70 C600.64,81.99 598.60,81.90 598.76,82.19 C598.92,82.48 601.99,83.78 602.39,84.16 C602.80,84.54 602.68,85.29 602.20,85.44 C601.72,85.58 599.41,85.46 598.26,85.44 C597.12,85.41 593.74,85.26 592.36,85.24 C590.99,85.22 587.67,85.17 586.47,85.24 C585.26,85.31 582.84,85.55 582.04,85.83 C581.24,86.10 579.93,86.82 579.58,87.60 C579.24,88.38 579.49,91.88 579.09,92.52 C578.69,93.15 576.60,93.35 576.14,93.01 C575.68,92.66 575.27,90.48 575.16,89.57 C575.04,88.65 574.99,86.17 575.16,85.14 C575.33,84.11 576.35,81.63 576.63,80.72 C576.92,79.80 577.04,77.53 577.62,77.27 Z" fill="#e66a6b"/>
<path d="M592.36,92.02 C592.54,91.68 594.63,91.36 595.31,91.53 C596.00,91.70 597.81,92.87 598.26,93.50 C598.72,94.13 599.25,96.14 599.25,96.94 C599.25,97.74 598.67,99.96 598.26,100.38 C597.86,100.81 596.21,100.92 595.81,100.58 C595.40,100.23 595.05,98.14 594.82,97.43 C594.59,96.72 594.13,95.11 593.84,94.48 C593.55,93.85 592.19,92.37 592.36,92.02 Z" fill="#e66a6b"/>
</g>
<path d="M198.47,58.56 C197.05,58.56 196.81,56.85 194.91,56.66 C193.01,56.47 191.12,56.80 188.98,57.61 C186.84,58.42 185.90,59.08 184.23,60.69 C182.57,62.31 181.98,63.49 180.68,65.68 C179.37,67.86 178.66,69.00 177.71,71.61 C176.76,74.22 176.52,75.88 175.93,78.72 C175.34,81.57 175.05,83.00 174.74,85.84 C174.44,88.69 174.32,90.11 174.39,92.96 C174.46,95.81 174.51,97.47 175.10,100.08 C175.69,102.69 176.19,103.75 177.35,106.01 C178.52,108.26 179.18,109.45 180.91,111.35 C182.65,113.24 183.81,114.19 186.01,115.50 C188.22,116.80 189.45,117.23 191.95,117.87 C194.44,118.51 195.86,118.70 198.47,118.70 C201.08,118.70 202.50,118.51 204.99,117.87 C207.49,117.23 208.72,116.80 210.93,115.50 C213.13,114.19 214.29,113.24 216.03,111.35 C217.76,109.45 218.42,108.26 219.58,106.01 C220.75,103.75 221.20,102.69 221.84,100.08 C222.48,97.47 222.60,95.81 222.79,92.96 C222.98,90.11 222.98,88.69 222.79,85.84 C222.60,83.00 222.43,81.57 221.84,78.72 C221.25,75.88 220.82,74.22 219.82,71.61 C218.83,69.00 218.16,67.86 216.86,65.68 C215.55,63.49 215.08,62.31 213.30,60.69 C211.52,59.08 210.21,58.42 207.96,57.61 C205.71,56.80 203.93,56.47 202.03,56.66 C200.13,56.85 199.89,58.56 198.47,58.56 Z" fill="#cacaca"/>
<path d="M198.47,59.74 C196.10,59.74 194.79,58.68 192.54,59.27 C190.28,59.86 188.98,60.95 187.20,62.71 C185.42,64.47 184.95,65.68 183.64,68.05 C182.34,70.42 181.70,71.61 180.68,74.57 C179.66,77.54 179.11,79.44 178.54,82.88 C177.97,86.32 177.83,88.33 177.83,91.77 C177.83,95.21 177.92,97.23 178.54,100.08 C179.16,102.92 179.66,103.87 180.91,106.01 C182.17,108.14 182.74,108.97 184.83,110.75 C186.92,112.53 188.62,113.84 191.35,114.91 C194.08,115.97 195.62,116.09 198.47,116.09 C201.32,116.09 202.86,115.97 205.59,114.91 C208.32,113.84 210.02,112.53 212.11,110.75 C214.20,108.97 214.77,108.14 216.03,106.01 C217.28,103.87 217.78,102.92 218.40,100.08 C219.02,97.23 219.11,95.21 219.11,91.77 C219.11,88.33 218.97,86.32 218.40,82.88 C217.83,79.44 217.28,77.54 216.26,74.57 C215.24,71.61 214.60,70.42 213.30,68.05 C211.99,65.68 211.52,64.47 209.74,62.71 C207.96,60.95 206.65,59.86 204.40,59.27 C202.15,58.68 200.84,59.74 198.47,59.74 Z" fill="#e9e9e9"/>
<path d="M198.47,57.97 C198.47,60.14 198.47,68.84 198.47,71.01" fill="none" stroke="#c0c0c0" stroke-width="1.5" stroke-linecap="round"/>
<path d="M198.47,104.82 C198.47,107.10 198.47,116.19 198.47,118.46" fill="none" stroke="#c0c0c0" stroke-width="1.5" stroke-linecap="round"/>
<path d="M187.79,59.74 C188.29,60.73 189.77,65.08 190.76,65.68 C191.75,66.27 193.23,63.70 193.72,63.30" fill="none" stroke="#c0c0c0" stroke-width="1.5" stroke-linecap="round"/>
<path d="M209.15,59.74 C208.65,60.73 207.17,65.08 206.18,65.68 C205.19,66.27 203.71,63.70 203.21,63.30" fill="none" stroke="#c0c0c0" stroke-width="1.5" stroke-linecap="round"/>
<path d="M181.86,65.68 C182.85,66.27 186.21,68.84 187.79,69.23 C189.38,69.63 190.76,68.25 191.35,68.05" fill="none" stroke="#c0c0c0" stroke-width="1.5" stroke-linecap="round"/>
<path d="M215.08,65.68 C214.09,66.27 210.73,68.84 209.15,69.23 C207.56,69.63 206.18,68.25 205.59,68.05" fill="none" stroke="#c0c0c0" stroke-width="1.5" stroke-linecap="round"/>
<path d="M177.71,72.79 C178.80,73.19 182.55,74.97 184.23,75.17 C185.92,75.36 187.20,74.18 187.79,73.98" fill="none" stroke="#c0c0c0" stroke-width="1.5" stroke-linecap="round"/>
<path d="M219.23,72.79 C218.14,73.19 214.39,74.97 212.70,75.17 C211.02,75.36 209.74,74.18 209.15,73.98" fill="none" stroke="#c0c0c0" stroke-width="1.5" stroke-linecap="round"/>
<path d="M175.93,79.91 C177.12,80.11 181.86,80.90 183.05,81.10" fill="none" stroke="#c0c0c0" stroke-width="1.5" stroke-linecap="round"/>
<path d="M221.01,79.91 C219.82,80.11 215.08,80.90 213.89,81.10" fill="none" stroke="#c0c0c0" stroke-width="1.5" stroke-linecap="round"/>
<path d="M174.98,87.03 C176.13,86.93 180.12,86.34 181.86,86.44 C183.60,86.53 184.83,87.42 185.42,87.62" fill="none" stroke="#c0c0c0" stroke-width="1.5" stroke-linecap="round"/>
<path d="M221.96,87.03 C220.81,86.93 216.82,86.34 215.08,86.44 C213.34,86.53 212.11,87.42 211.52,87.62" fill="none" stroke="#c0c0c0" stroke-width="1.5" stroke-linecap="round"/>
<path d="M175.34,94.15 C176.52,94.05 181.27,93.65 182.46,93.55" fill="none" stroke="#c0c0c0" stroke-width="1.5" stroke-linecap="round"/>
<path d="M221.60,94.15 C220.42,94.05 215.67,93.65 214.48,93.55" fill="none" stroke="#c0c0c0" stroke-width="1.5" stroke-linecap="round"/>
<path d="M176.52,101.26 C177.61,101.07 181.37,99.98 183.05,100.08 C184.73,100.18 186.01,101.56 186.61,101.86" fill="none" stroke="#c0c0c0" stroke-width="1.5" stroke-linecap="round"/>
<path d="M220.42,101.26 C219.33,101.07 215.57,99.98 213.89,100.08 C212.21,100.18 210.93,101.56 210.33,101.86" fill="none" stroke="#c0c0c0" stroke-width="1.5" stroke-linecap="round"/>
<path d="M179.49,107.79 C180.48,107.49 184.43,106.30 185.42,106.01" fill="none" stroke="#c0c0c0" stroke-width="1.5" stroke-linecap="round"/>
<path d="M217.45,107.79 C216.46,107.49 212.51,106.30 211.52,106.01" fill="none" stroke="#c0c0c0" stroke-width="1.5" stroke-linecap="round"/>
<path d="M184.23,113.13 C185.03,112.53 188.19,110.16 188.98,109.57" fill="none" stroke="#c0c0c0" stroke-width="1.5" stroke-linecap="round"/>
<path d="M212.70,113.13 C211.91,112.53 208.75,110.16 207.96,109.57" fill="none" stroke="#c0c0c0" stroke-width="1.5" stroke-linecap="round"/>
<path d="M192.54,117.28 C192.74,116.59 193.53,113.82 193.72,113.13" fill="none" stroke="#c0c0c0" stroke-width="1.5" stroke-linecap="round"/>
<path d="M204.40,117.28 C204.20,116.59 203.41,113.82 203.21,113.13" fill="none" stroke="#c0c0c0" stroke-width="1.5" stroke-linecap="round"/>
<path d="M187.79,83.47 C188.78,81.69 191.25,78.92 192.54,78.72 C193.82,78.53 195.01,79.71 195.50,82.28 C196.00,84.85 196.10,91.58 195.50,94.15 C194.91,96.72 193.23,97.70 191.95,97.70 C190.66,97.70 188.68,95.53 187.79,94.15 C186.90,92.76 186.61,91.18 186.61,89.40 C186.61,87.62 186.81,85.25 187.79,83.47 Z" fill="#d2d2d2"/>
<path d="M209.15,83.47 C208.16,81.69 205.69,78.92 204.40,78.72 C203.12,78.53 201.93,79.71 201.44,82.28 C200.94,84.85 200.84,91.58 201.44,94.15 C202.03,96.72 203.71,97.70 204.99,97.70 C206.28,97.70 208.26,95.53 209.15,94.15 C210.04,92.76 210.33,91.18 210.33,89.40 C210.33,87.62 210.13,85.25 209.15,83.47 Z" fill="#d2d2d2"/>
<path d="M194.32,84.66 C195.21,83.37 197.09,82.88 198.47,82.88 C199.85,82.88 201.73,83.37 202.62,84.66 C203.51,85.94 204.01,88.71 203.81,90.59 C203.61,92.47 202.33,94.84 201.44,95.93 C200.55,97.01 199.46,97.11 198.47,97.11 C197.48,97.11 196.39,97.01 195.50,95.93 C194.61,94.84 193.33,92.47 193.13,90.59 C192.93,88.71 193.43,85.94 194.32,84.66 Z" fill="#d6d6d6"/>
<path d="M192.89,72.79 C193.31,73.19 194.69,73.94 195.39,75.17 C196.08,76.39 196.67,78.86 197.05,80.15 C197.42,81.43 197.54,82.42 197.64,82.88" fill="none" stroke="#939393" stroke-width="1.9" stroke-linecap="round"/>
<path d="M204.05,72.79 C203.63,73.19 202.25,73.94 201.55,75.17 C200.86,76.39 200.27,78.86 199.89,80.15 C199.52,81.43 199.40,82.42 199.30,82.88" fill="none" stroke="#939393" stroke-width="1.9" stroke-linecap="round"/>
<path d="M188.98,95.93 C189.38,94.84 191.15,93.75 191.95,94.15 C192.74,94.54 193.63,97.01 193.72,98.30 C193.82,99.58 193.23,101.46 192.54,101.86 C191.85,102.25 190.17,101.66 189.57,100.67 C188.98,99.68 188.58,97.01 188.98,95.93 Z" fill="#a3a3a3"/>
<path d="M207.96,95.93 C207.56,94.84 205.78,93.75 204.99,94.15 C204.20,94.54 203.31,97.01 203.21,98.30 C203.12,99.58 203.71,101.46 204.40,101.86 C205.09,102.25 206.77,101.66 207.37,100.67 C207.96,99.68 208.36,97.01 207.96,95.93 Z" fill="#a3a3a3"/>
<clipPath id="tclip7"><path d="M198.47,58.56 C197.05,58.56 196.81,56.85 194.91,56.66 C193.01,56.47 191.12,56.80 188.98,57.61 C186.84,58.42 185.90,59.08 184.23,60.69 C182.57,62.31 181.98,63.49 180.68,65.68 C179.37,67.86 178.66,69.00 177.71,71.61 C176.76,74.22 176.52,75.88 175.93,78.72 C175.34,81.57 175.05,83.00 174.74,85.84 C174.44,88.69 174.32,90.11 174.39,92.96 C174.46,95.81 174.51,97.47 175.10,100.08 C175.69,102.69 176.19,103.75 177.35,106.01 C178.52,108.26 179.18,109.45 180.91,111.35 C182.65,113.24 183.81,114.19 186.01,115.50 C188.22,116.80 189.45,117.23 191.95,117.87 C194.44,118.51 195.86,118.70 198.47,118.70 C201.08,118.70 202.50,118.51 204.99,117.87 C207.49,117.23 208.72,116.80 210.93,115.50 C213.13,114.19 214.29,113.24 216.03,111.35 C217.76,109.45 218.42,108.26 219.58,106.01 C220.75,103.75 221.20,102.69 221.84,100.08 C222.48,97.47 222.60,95.81 222.79,92.96 C222.98,90.11 222.98,88.69 222.79,85.84 C222.60,83.00 222.43,81.57 221.84,78.72 C221.25,75.88 220.82,74.22 219.82,71.61 C218.83,69.00 218.16,67.86 216.86,65.68 C215.55,63.49 215.08,62.31 213.30,60.69 C211.52,59.08 210.21,58.42 207.96,57.61 C205.71,56.80 203.93,56.47 202.03,56.66 C200.13,56.85 199.89,58.56 198.47,58.56 Z"/></clipPath>
<rect x="173.4" y="55.7" width="50.4" height="64.0" filter="url(#btex)" clip-path="url(#tclip7)"/>
<path d="M188.96,101.41 C189.12,100.85 190.24,100.01 190.93,99.83 C191.62,99.65 194.32,99.55 194.87,99.83 C195.42,100.11 195.29,102.01 195.66,102.20 C196.03,102.38 197.47,101.68 198.03,101.41 C198.58,101.13 199.89,100.11 200.39,99.83 C200.90,99.55 202.09,99.27 202.36,99.04 C202.64,98.81 202.34,97.95 202.76,97.86 C203.17,97.77 205.27,97.93 205.91,98.25 C206.56,98.57 207.86,99.97 208.28,100.62 C208.69,101.26 209.44,103.04 209.46,103.77 C209.48,104.51 208.76,106.10 208.44,106.93 C208.11,107.76 207.09,109.95 206.70,110.87 C206.31,111.79 205.49,114.03 205.12,114.81 C204.75,115.60 203.91,117.21 203.55,117.57 C203.18,117.94 202.32,118.31 201.97,117.97 C201.62,117.63 200.87,114.66 200.55,114.66 C200.23,114.66 199.78,117.56 199.21,117.97 C198.64,118.37 196.37,118.40 195.66,118.13 C194.95,117.85 193.58,116.36 193.14,115.60 C192.69,114.85 192.15,112.58 191.87,111.66 C191.60,110.74 191.05,108.54 190.77,107.72 C190.49,106.89 189.72,105.30 189.51,104.56 C189.30,103.83 188.79,101.96 188.96,101.41 Z" fill="#e66a6b"/>
<path d="M180.28,107.32 C180.39,106.73 182.30,106.01 183.04,105.98 C183.78,105.95 185.84,106.59 186.59,107.09 C187.34,107.58 188.98,109.52 189.51,110.24 C190.03,110.96 190.78,112.41 191.09,113.24 C191.39,114.06 192.17,116.84 192.11,117.34 C192.05,117.83 191.22,117.81 190.53,117.50 C189.84,117.18 187.18,115.41 186.20,114.66 C185.21,113.90 182.78,111.88 182.09,111.03 C181.40,110.17 180.17,107.91 180.28,107.32 Z" fill="#e66a6b"/>
<path d="M208.44,107.09 C208.78,106.57 210.18,105.75 210.80,105.82 C211.43,105.90 213.31,107.35 213.80,107.72 C214.29,108.08 215.07,108.43 214.98,108.98 C214.89,109.53 213.61,111.71 213.01,112.45 C212.41,113.18 210.66,114.70 209.85,115.29 C209.05,115.88 206.70,117.31 206.07,117.50 C205.44,117.68 204.42,117.34 204.49,116.86 C204.57,116.39 206.30,114.17 206.70,113.39 C207.10,112.62 207.68,110.98 207.88,110.24 C208.09,109.50 208.09,107.60 208.44,107.09 Z" fill="#e66a6b"/>
<ellipse cx="194.80" cy="88.00" rx="3.30" ry="4.70" transform="rotate(25 194.80 88.00)" fill="#e66a6b"/>
<path d="M436.67,58.56 C435.25,58.56 435.01,56.85 433.11,56.66 C431.21,56.47 429.32,56.80 427.18,57.61 C425.04,58.42 424.10,59.08 422.43,60.69 C420.77,62.31 420.18,63.49 418.88,65.68 C417.57,67.86 416.86,69.00 415.91,71.61 C414.96,74.22 414.72,75.88 414.13,78.72 C413.54,81.57 413.25,83.00 412.94,85.84 C412.64,88.69 412.52,90.11 412.59,92.96 C412.66,95.81 412.71,97.47 413.30,100.08 C413.89,102.69 414.39,103.75 415.55,106.01 C416.72,108.26 417.38,109.45 419.11,111.35 C420.85,113.24 422.01,114.19 424.21,115.50 C426.42,116.80 427.65,117.23 430.15,117.87 C432.64,118.51 434.06,118.70 436.67,118.70 C439.28,118.70 440.70,118.51 443.19,117.87 C445.69,117.23 446.92,116.80 449.13,115.50 C451.33,114.19 452.49,113.24 454.23,111.35 C455.96,109.45 456.62,108.26 457.78,106.01 C458.95,103.75 459.40,102.69 460.04,100.08 C460.68,97.47 460.80,95.81 460.99,92.96 C461.18,90.11 461.18,88.69 460.99,85.84 C460.80,83.00 460.63,81.57 460.04,78.72 C459.45,75.88 459.02,74.22 458.02,71.61 C457.03,69.00 456.36,67.86 455.06,65.68 C453.75,63.49 453.28,62.31 451.50,60.69 C449.72,59.08 448.41,58.42 446.16,57.61 C443.91,56.80 442.13,56.47 440.23,56.66 C438.33,56.85 438.09,58.56 436.67,58.56 Z" fill="#cacaca"/>
<path d="M436.67,59.74 C434.30,59.74 432.99,58.68 430.74,59.27 C428.48,59.86 427.18,60.95 425.40,62.71 C423.62,64.47 423.15,65.68 421.84,68.05 C420.54,70.42 419.90,71.61 418.88,74.57 C417.86,77.54 417.31,79.44 416.74,82.88 C416.17,86.32 416.03,88.33 416.03,91.77 C416.03,95.21 416.12,97.23 416.74,100.08 C417.36,102.92 417.86,103.87 419.11,106.01 C420.37,108.14 420.94,108.97 423.03,110.75 C425.12,112.53 426.82,113.84 429.55,114.91 C432.28,115.97 433.82,116.09 436.67,116.09 C439.52,116.09 441.06,115.97 443.79,114.91 C446.52,113.84 448.22,112.53 450.31,110.75 C452.40,108.97 452.97,108.14 454.23,106.01 C455.48,103.87 455.98,102.92 456.60,100.08 C457.22,97.23 457.31,95.21 457.31,91.77 C457.31,88.33 457.17,86.32 456.60,82.88 C456.03,79.44 455.48,77.54 454.46,74.57 C453.44,71.61 452.80,70.42 451.50,68.05 C450.19,65.68 449.72,64.47 447.94,62.71 C446.16,60.95 444.85,59.86 442.60,59.27 C440.35,58.68 439.04,59.74 436.67,59.74 Z" fill="#e9e9e9"/>
<path d="M436.67,57.97 C436.67,60.14 436.67,68.84 436.67,71.01" fill="none" stroke="#c0c0c0" stroke-width="1.5" stroke-linecap="round"/>
<path d="M436.67,104.82 C436.67,107.10 436.67,116.19 436.67,118.46" fill="none" stroke="#c0c0c0" stroke-width="1.5" stroke-linecap="round"/>
<path d="M425.99,59.74 C426.49,60.73 427.97,65.08 428.96,65.68 C429.95,66.27 431.43,63.70 431.92,63.30" fill="none" stroke="#c0c0c0" stroke-width="1.5" stroke-linecap="round"/>
<path d="M447.35,59.74 C446.85,60.73 445.37,65.08 444.38,65.68 C443.39,66.27 441.91,63.70 441.41,63.30" fill="none" stroke="#c0c0c0" stroke-width="1.5" stroke-linecap="round"/>
<path d="M420.06,65.68 C421.05,66.27 424.41,68.84 425.99,69.23 C427.58,69.63 428.96,68.25 429.55,68.05" fill="none" stroke="#c0c0c0" stroke-width="1.5" stroke-linecap="round"/>
<path d="M453.28,65.68 C452.29,66.27 448.93,68.84 447.35,69.23 C445.76,69.63 444.38,68.25 443.79,68.05" fill="none" stroke="#c0c0c0" stroke-width="1.5" stroke-linecap="round"/>
<path d="M415.91,72.79 C417.00,73.19 420.75,74.97 422.43,75.17 C424.12,75.36 425.40,74.18 425.99,73.98" fill="none" stroke="#c0c0c0" stroke-width="1.5" stroke-linecap="round"/>
<path d="M457.43,72.79 C456.34,73.19 452.59,74.97 450.90,75.17 C449.22,75.36 447.94,74.18 447.35,73.98" fill="none" stroke="#c0c0c0" stroke-width="1.5" stroke-linecap="round"/>
<path d="M414.13,79.91 C415.32,80.11 420.06,80.90 421.25,81.10" fill="none" stroke="#c0c0c0" stroke-width="1.5" stroke-linecap="round"/>
<path d="M459.21,79.91 C458.02,80.11 453.28,80.90 452.09,81.10" fill="none" stroke="#c0c0c0" stroke-width="1.5" stroke-linecap="round"/>
<path d="M413.18,87.03 C414.33,86.93 418.32,86.34 420.06,86.44 C421.80,86.53 423.03,87.42 423.62,87.62" fill="none" stroke="#c0c0c0" stroke-width="1.5" stroke-linecap="round"/>
<path d="M460.16,87.03 C459.01,86.93 455.02,86.34 453.28,86.44 C451.54,86.53 450.31,87.42 449.72,87.62" fill="none" stroke="#c0c0c0" stroke-width="1.5" stroke-linecap="round"/>
<path d="M413.54,94.15 C414.72,94.05 419.47,93.65 420.66,93.55" fill="none" stroke="#c0c0c0" stroke-width="1.5" stroke-linecap="round"/>
<path d="M459.80,94.15 C458.62,94.05 453.87,93.65 452.68,93.55" fill="none" stroke="#c0c0c0" stroke-width="1.5" stroke-linecap="round"/>
<path d="M414.72,101.26 C415.81,101.07 419.57,99.98 421.25,100.08 C422.93,100.18 424.21,101.56 424.81,101.86" fill="none" stroke="#c0c0c0" stroke-width="1.5" stroke-linecap="round"/>
<path d="M458.62,101.26 C457.53,101.07 453.77,99.98 452.09,100.08 C450.41,100.18 449.13,101.56 448.53,101.86" fill="none" stroke="#c0c0c0" stroke-width="1.5" stroke-linecap="round"/>
<path d="M417.69,107.79 C418.68,107.49 422.63,106.30 423.62,106.01" fill="none" stroke="#c0c0c0" stroke-width="1.5" stroke-linecap="round"/>
<path d="M455.65,107.79 C454.66,107.49 450.71,106.30 449.72,106.01" fill="none" stroke="#c0c0c0" stroke-width="1.5" stroke-linecap="round"/>
<path d="M422.43,113.13 C423.23,112.53 426.39,110.16 427.18,109.57" fill="none" stroke="#c0c0c0" stroke-width="1.5" stroke-linecap="round"/>
<path d="M450.90,113.13 C450.11,112.53 446.95,110.16 446.16,109.57" fill="none" stroke="#c0c0c0" stroke-width="1.5" stroke-linecap="round"/>
<path d="M430.74,117.28 C430.94,116.59 431.73,113.82 431.92,113.13" fill="none" stroke="#c0c0c0" stroke-width="1.5" stroke-linecap="round"/>
<path d="M442.60,117.28 C442.40,116.59 441.61,113.82 441.41,113.13" fill="none" stroke="#c0c0c0" stroke-width="1.5" stroke-linecap="round"/>
<path d="M425.99,83.47 C426.98,81.69 429.45,78.92 430.74,78.72 C432.02,78.53 433.21,79.71 433.70,82.28 C434.20,84.85 434.30,91.58 433.70,94.15 C433.11,96.72 431.43,97.70 430.15,97.70 C428.86,97.70 426.88,95.53 425.99,94.15 C425.10,92.76 424.81,91.18 424.81,89.40 C424.81,87.62 425.01,85.25 425.99,83.47 Z" fill="#d2d2d2"/>
<path d="M447.35,83.47 C446.36,81.69 443.89,78.92 442.60,78.72 C441.32,78.53 440.13,79.71 439.64,82.28 C439.14,84.85 439.04,91.58 439.64,94.15 C440.23,96.72 441.91,97.70 443.19,97.70 C444.48,97.70 446.46,95.53 447.35,94.15 C448.24,92.76 448.53,91.18 448.53,89.40 C448.53,87.62 448.33,85.25 447.35,83.47 Z" fill="#d2d2d2"/>
<path d="M432.52,84.66 C433.41,83.37 435.29,82.88 436.67,82.88 C438.05,82.88 439.93,83.37 440.82,84.66 C441.71,85.94 442.21,88.71 442.01,90.59 C441.81,92.47 440.53,94.84 439.64,95.93 C438.75,97.01 437.66,97.11 436.67,97.11 C435.68,97.11 434.59,97.01 433.70,95.93 C432.81,94.84 431.53,92.47 431.33,90.59 C431.13,88.71 431.63,85.94 432.52,84.66 Z" fill="#d6d6d6"/>
<path d="M431.09,72.79 C431.51,73.19 432.89,73.94 433.59,75.17 C434.28,76.39 434.87,78.86 435.25,80.15 C435.62,81.43 435.74,82.42 435.84,82.88" fill="none" stroke="#939393" stroke-width="1.9" stroke-linecap="round"/>
<path d="M442.25,72.79 C441.83,73.19 440.45,73.94 439.75,75.17 C439.06,76.39 438.47,78.86 438.09,80.15 C437.72,81.43 437.60,82.42 437.50,82.88" fill="none" stroke="#939393" stroke-width="1.9" stroke-linecap="round"/>
<path d="M427.18,95.93 C427.58,94.84 429.35,93.75 430.15,94.15 C430.94,94.54 431.83,97.01 431.92,98.30 C432.02,99.58 431.43,101.46 430.74,101.86 C430.05,102.25 428.37,101.66 427.77,100.67 C427.18,99.68 426.78,97.01 427.18,95.93 Z" fill="#a3a3a3"/>
<path d="M446.16,95.93 C445.76,94.84 443.98,93.75 443.19,94.15 C442.40,94.54 441.51,97.01 441.41,98.30 C441.32,99.58 441.91,101.46 442.60,101.86 C443.29,102.25 444.97,101.66 445.57,100.67 C446.16,99.68 446.56,97.01 446.16,95.93 Z" fill="#a3a3a3"/>
<clipPath id="tclip8"><path d="M436.67,58.56 C435.25,58.56 435.01,56.85 433.11,56.66 C431.21,56.47 429.32,56.80 427.18,57.61 C425.04,58.42 424.10,59.08 422.43,60.69 C420.77,62.31 420.18,63.49 418.88,65.68 C417.57,67.86 416.86,69.00 415.91,71.61 C414.96,74.22 414.72,75.88 414.13,78.72 C413.54,81.57 413.25,83.00 412.94,85.84 C412.64,88.69 412.52,90.11 412.59,92.96 C412.66,95.81 412.71,97.47 413.30,100.08 C413.89,102.69 414.39,103.75 415.55,106.01 C416.72,108.26 417.38,109.45 419.11,111.35 C420.85,113.24 422.01,114.19 424.21,115.50 C426.42,116.80 427.65,117.23 430.15,117.87 C432.64,118.51 434.06,118.70 436.67,118.70 C439.28,118.70 440.70,118.51 443.19,117.87 C445.69,117.23 446.92,116.80 449.13,115.50 C451.33,114.19 452.49,113.24 454.23,111.35 C455.96,109.45 456.62,108.26 457.78,106.01 C458.95,103.75 459.40,102.69 460.04,100.08 C460.68,97.47 460.80,95.81 460.99,92.96 C461.18,90.11 461.18,88.69 460.99,85.84 C460.80,83.00 460.63,81.57 460.04,78.72 C459.45,75.88 459.02,74.22 458.02,71.61 C457.03,69.00 456.36,67.86 455.06,65.68 C453.75,63.49 453.28,62.31 451.50,60.69 C449.72,59.08 448.41,58.42 446.16,57.61 C443.91,56.80 442.13,56.47 440.23,56.66 C438.33,56.85 438.09,58.56 436.67,58.56 Z"/></clipPath>
<rect x="411.6" y="55.7" width="50.4" height="64.0" filter="url(#btex)" clip-path="url(#tclip8)"/>
<path d="M430.11,73.14 C430.43,72.95 432.32,73.56 432.87,73.93 C433.42,74.30 434.57,75.65 434.84,76.29 C435.12,76.94 435.28,78.80 435.24,79.45 C435.19,80.09 434.77,81.72 434.45,81.81 C434.13,81.91 432.89,80.70 432.48,80.24 C432.06,79.78 431.18,78.42 430.90,77.87 C430.62,77.32 430.20,76.06 430.11,75.50 C430.02,74.95 429.79,73.32 430.11,73.14 Z" fill="#e66a6b"/>
<ellipse cx="432.90" cy="88.70" rx="3.30" ry="4.30" transform="rotate(25 432.90 88.70)" fill="#e66a6b"/>
<ellipse cx="441.00" cy="88.50" rx="3.60" ry="4.50" transform="rotate(-25 441.00 88.50)" fill="#e66a6b"/>
<path d="M426.96,100.77 C427.32,100.27 429.03,99.64 429.72,99.59 C430.41,99.54 432.41,100.06 432.87,100.38 C433.33,100.70 433.29,102.17 433.66,102.35 C434.03,102.53 435.61,102.32 436.03,101.96 C436.44,101.59 436.98,100.02 437.21,99.20 C437.44,98.37 437.63,95.41 438.00,94.86 C438.36,94.31 439.81,94.33 440.36,94.46 C440.91,94.60 442.18,95.63 442.73,96.04 C443.28,96.46 444.63,97.46 445.09,98.01 C445.55,98.56 446.52,100.08 446.67,100.77 C446.83,101.46 446.39,103.28 446.44,103.93 C446.48,104.57 447.22,105.74 447.07,106.29 C446.91,106.85 445.37,108.11 445.09,108.66 C444.82,109.21 444.84,110.38 444.70,111.03 C444.56,111.67 444.28,113.49 443.91,114.18 C443.54,114.87 442.05,116.62 441.55,116.94 C441.04,117.26 439.90,117.26 439.57,116.94 C439.25,116.62 439.02,114.13 438.79,114.18 C438.56,114.23 438.02,116.92 437.60,117.33 C437.19,117.75 435.88,117.77 435.24,117.73 C434.59,117.68 432.68,117.17 432.08,116.94 C431.48,116.71 430.43,116.45 430.11,115.76 C429.79,115.07 429.60,112.04 429.32,111.03 C429.05,110.01 428.07,107.91 427.74,107.08 C427.42,106.25 426.65,104.66 426.56,103.93 C426.47,103.19 426.59,101.28 426.96,100.77 Z" fill="#e66a6b"/>
<path d="M418.68,107.48 C418.49,106.86 419.75,106.29 420.25,106.14 C420.76,105.98 422.37,105.93 423.01,106.14 C423.66,106.34 425.08,107.39 425.77,107.87 C426.46,108.35 428.38,109.87 428.93,110.24 C429.48,110.60 430.23,110.29 430.50,111.03 C430.78,111.76 431.48,115.90 431.29,116.55 C431.11,117.19 429.57,116.78 428.93,116.55 C428.28,116.32 426.60,115.17 425.77,114.57 C424.94,113.98 422.66,112.25 421.83,111.42 C421.00,110.59 418.86,108.09 418.68,107.48 Z" fill="#e66a6b"/>
<path d="M444.70,111.03 C445.07,110.61 446.51,110.21 447.07,109.84 C447.62,109.47 449.02,108.47 449.43,107.87 C449.85,107.27 450.43,105.54 450.62,104.72 C450.80,103.89 450.78,101.60 451.01,100.77 C451.24,99.94 452.08,98.12 452.59,97.62 C453.09,97.11 454.43,96.62 455.35,96.44 C456.27,96.25 459.92,95.72 460.47,96.04 C461.03,96.36 460.35,98.28 460.08,99.20 C459.80,100.12 458.71,102.82 458.11,103.93 C457.51,105.03 455.78,107.69 454.95,108.66 C454.12,109.63 451.93,111.47 451.01,112.21 C450.09,112.94 447.89,114.51 447.07,114.97 C446.24,115.43 444.28,116.34 443.91,116.15 C443.54,115.97 443.82,113.99 443.91,113.39 C444.00,112.79 444.33,111.44 444.70,111.03 Z" fill="#e66a6b"/>
<path d="M431.69,96.04 C431.78,95.67 433.25,94.90 433.66,94.86 C434.07,94.81 435.07,95.32 435.24,95.65 C435.40,95.97 435.35,97.34 435.08,97.62 C434.80,97.89 433.27,98.20 432.87,98.01 C432.48,97.83 431.60,96.41 431.69,96.04 Z" fill="#e66a6b"/>
<path d="M660.67,58.56 C659.25,58.56 659.01,56.85 657.11,56.66 C655.21,56.47 653.32,56.80 651.18,57.61 C649.04,58.42 648.10,59.08 646.43,60.69 C644.77,62.31 644.18,63.49 642.88,65.68 C641.57,67.86 640.86,69.00 639.91,71.61 C638.96,74.22 638.72,75.88 638.13,78.72 C637.54,81.57 637.25,83.00 636.94,85.84 C636.64,88.69 636.52,90.11 636.59,92.96 C636.66,95.81 636.71,97.47 637.30,100.08 C637.89,102.69 638.39,103.75 639.55,106.01 C640.72,108.26 641.38,109.45 643.11,111.35 C644.85,113.24 646.01,114.19 648.21,115.50 C650.42,116.80 651.65,117.23 654.15,117.87 C656.64,118.51 658.06,118.70 660.67,118.70 C663.28,118.70 664.70,118.51 667.19,117.87 C669.69,117.23 670.92,116.80 673.13,115.50 C675.33,114.19 676.49,113.24 678.23,111.35 C679.96,109.45 680.62,108.26 681.78,106.01 C682.95,103.75 683.40,102.69 684.04,100.08 C684.68,97.47 684.80,95.81 684.99,92.96 C685.18,90.11 685.18,88.69 684.99,85.84 C684.80,83.00 684.63,81.57 684.04,78.72 C683.45,75.88 683.02,74.22 682.02,71.61 C681.03,69.00 680.36,67.86 679.06,65.68 C677.75,63.49 677.28,62.31 675.50,60.69 C673.72,59.08 672.41,58.42 670.16,57.61 C667.91,56.80 666.13,56.47 664.23,56.66 C662.33,56.85 662.09,58.56 660.67,58.56 Z" fill="#cacaca"/>
<path d="M660.67,59.74 C658.30,59.74 656.99,58.68 654.74,59.27 C652.48,59.86 651.18,60.95 649.40,62.71 C647.62,64.47 647.15,65.68 645.84,68.05 C644.54,70.42 643.90,71.61 642.88,74.57 C641.86,77.54 641.31,79.44 640.74,82.88 C640.17,86.32 640.03,88.33 640.03,91.77 C640.03,95.21 640.12,97.23 640.74,100.08 C641.36,102.92 641.86,103.87 643.11,106.01 C644.37,108.14 644.94,108.97 647.03,110.75 C649.12,112.53 650.82,113.84 653.55,114.91 C656.28,115.97 657.82,116.09 660.67,116.09 C663.52,116.09 665.06,115.97 667.79,114.91 C670.52,113.84 672.22,112.53 674.31,110.75 C676.40,108.97 676.97,108.14 678.23,106.01 C679.48,103.87 679.98,102.92 680.60,100.08 C681.22,97.23 681.31,95.21 681.31,91.77 C681.31,88.33 681.17,86.32 680.60,82.88 C680.03,79.44 679.48,77.54 678.46,74.57 C677.44,71.61 676.80,70.42 675.50,68.05 C674.19,65.68 673.72,64.47 671.94,62.71 C670.16,60.95 668.85,59.86 666.60,59.27 C664.35,58.68 663.04,59.74 660.67,59.74 Z" fill="#e9e9e9"/>
<path d="M660.67,57.97 C660.67,60.14 660.67,68.84 660.67,71.01" fill="none" stroke="#c0c0c0" stroke-width="1.5" stroke-linecap="round"/>
<path d="M660.67,104.82 C660.67,107.10 660.67,116.19 660.67,118.46" fill="none" stroke="#c0c0c0" stroke-width="1.5" stroke-linecap="round"/>
<path d="M649.99,59.74 C650.49,60.73 651.97,65.08 652.96,65.68 C653.95,66.27 655.43,63.70 655.92,63.30" fill="none" stroke="#c0c0c0" stroke-width="1.5" stroke-linecap="round"/>
<path d="M671.35,59.74 C670.85,60.73 669.37,65.08 668.38,65.68 C667.39,66.27 665.91,63.70 665.41,63.30" fill="none" stroke="#c0c0c0" stroke-width="1.5" stroke-linecap="round"/>
<path d="M644.06,65.68 C645.05,66.27 648.41,68.84 649.99,69.23 C651.58,69.63 652.96,68.25 653.55,68.05" fill="none" stroke="#c0c0c0" stroke-width="1.5" stroke-linecap="round"/>
<path d="M677.28,65.68 C676.29,66.27 672.93,68.84 671.35,69.23 C669.76,69.63 668.38,68.25 667.79,68.05" fill="none" stroke="#c0c0c0" stroke-width="1.5" stroke-linecap="round"/>
<path d="M639.91,72.79 C641.00,73.19 644.75,74.97 646.43,75.17 C648.12,75.36 649.40,74.18 649.99,73.98" fill="none" stroke="#c0c0c0" stroke-width="1.5" stroke-linecap="round"/>
<path d="M681.43,72.79 C680.34,73.19 676.59,74.97 674.90,75.17 C673.22,75.36 671.94,74.18 671.35,73.98" fill="none" stroke="#c0c0c0" stroke-width="1.5" stroke-linecap="round"/>
<path d="M638.13,79.91 C639.32,80.11 644.06,80.90 645.25,81.10" fill="none" stroke="#c0c0c0" stroke-width="1.5" stroke-linecap="round"/>
<path d="M683.21,79.91 C682.02,80.11 677.28,80.90 676.09,81.10" fill="none" stroke="#c0c0c0" stroke-width="1.5" stroke-linecap="round"/>
<path d="M637.18,87.03 C638.33,86.93 642.32,86.34 644.06,86.44 C645.80,86.53 647.03,87.42 647.62,87.62" fill="none" stroke="#c0c0c0" stroke-width="1.5" stroke-linecap="round"/>
<path d="M684.16,87.03 C683.01,86.93 679.02,86.34 677.28,86.44 C675.54,86.53 674.31,87.42 673.72,87.62" fill="none" stroke="#c0c0c0" stroke-width="1.5" stroke-linecap="round"/>
<path d="M637.54,94.15 C638.72,94.05 643.47,93.65 644.66,93.55" fill="none" stroke="#c0c0c0" stroke-width="1.5" stroke-linecap="round"/>
<path d="M683.80,94.15 C682.62,94.05 677.87,93.65 676.68,93.55" fill="none" stroke="#c0c0c0" stroke-width="1.5" stroke-linecap="round"/>
<path d="M638.72,101.26 C639.81,101.07 643.57,99.98 645.25,100.08 C646.93,100.18 648.21,101.56 648.81,101.86" fill="none" stroke="#c0c0c0" stroke-width="1.5" stroke-linecap="round"/>
<path d="M682.62,101.26 C681.53,101.07 677.77,99.98 676.09,100.08 C674.41,100.18 673.13,101.56 672.53,101.86" fill="none" stroke="#c0c0c0" stroke-width="1.5" stroke-linecap="round"/>
<path d="M641.69,107.79 C642.68,107.49 646.63,106.30 647.62,106.01" fill="none" stroke="#c0c0c0" stroke-width="1.5" stroke-linecap="round"/>
<path d="M679.65,107.79 C678.66,107.49 674.71,106.30 673.72,106.01" fill="none" stroke="#c0c0c0" stroke-width="1.5" stroke-linecap="round"/>
<path d="M646.43,113.13 C647.23,112.53 650.39,110.16 651.18,109.57" fill="none" stroke="#c0c0c0" stroke-width="1.5" stroke-linecap="round"/>
<path d="M674.90,113.13 C674.11,112.53 670.95,110.16 670.16,109.57" fill="none" stroke="#c0c0c0" stroke-width="1.5" stroke-linecap="round"/>
<path d="M654.74,117.28 C654.94,116.59 655.73,113.82 655.92,113.13" fill="none" stroke="#c0c0c0" stroke-width="1.5" stroke-linecap="round"/>
<path d="M666.60,117.28 C666.40,116.59 665.61,113.82 665.41,113.13" fill="none" stroke="#c0c0c0" stroke-width="1.5" stroke-linecap="round"/>
<path d="M649.99,83.47 C650.98,81.69 653.45,78.92 654.74,78.72 C656.02,78.53 657.21,79.71 657.70,82.28 C658.20,84.85 658.30,91.58 657.70,94.15 C657.11,96.72 655.43,97.70 654.15,97.70 C652.86,97.70 650.88,95.53 649.99,94.15 C649.10,92.76 648.81,91.18 648.81,89.40 C648.81,87.62 649.01,85.25 649.99,83.47 Z" fill="#d2d2d2"/>
<path d="M671.35,83.47 C670.36,81.69 667.89,78.92 666.60,78.72 C665.32,78.53 664.13,79.71 663.64,82.28 C663.14,84.85 663.04,91.58 663.64,94.15 C664.23,96.72 665.91,97.70 667.19,97.70 C668.48,97.70 670.46,95.53 671.35,94.15 C672.24,92.76 672.53,91.18 672.53,89.40 C672.53,87.62 672.33,85.25 671.35,83.47 Z" fill="#d2d2d2"/>
<path d="M656.52,84.66 C657.41,83.37 659.29,82.88 660.67,82.88 C662.05,82.88 663.93,83.37 664.82,84.66 C665.71,85.94 666.21,88.71 666.01,90.59 C665.81,92.47 664.53,94.84 663.64,95.93 C662.75,97.01 661.66,97.11 660.67,97.11 C659.68,97.11 658.59,97.01 657.70,95.93 C656.81,94.84 655.53,92.47 655.33,90.59 C655.13,88.71 655.63,85.94 656.52,84.66 Z" fill="#d6d6d6"/>
<path d="M655.09,72.79 C655.51,73.19 656.89,73.94 657.59,75.17 C658.28,76.39 658.87,78.86 659.25,80.15 C659.62,81.43 659.74,82.42 659.84,82.88" fill="none" stroke="#939393" stroke-width="1.9" stroke-linecap="round"/>
<path d="M666.25,72.79 C665.83,73.19 664.45,73.94 663.75,75.17 C663.06,76.39 662.47,78.86 662.09,80.15 C661.72,81.43 661.60,82.42 661.50,82.88" fill="none" stroke="#939393" stroke-width="1.9" stroke-linecap="round"/>
<path d="M651.18,95.93 C651.58,94.84 653.35,93.75 654.15,94.15 C654.94,94.54 655.83,97.01 655.92,98.30 C656.02,99.58 655.43,101.46 654.74,101.86 C654.05,102.25 652.37,101.66 651.77,100.67 C651.18,99.68 650.78,97.01 651.18,95.93 Z" fill="#a3a3a3"/>
<path d="M670.16,95.93 C669.76,94.84 667.98,93.75 667.19,94.15 C666.40,94.54 665.51,97.01 665.41,98.30 C665.32,99.58 665.91,101.46 666.60,101.86 C667.29,102.25 668.97,101.66 669.57,100.67 C670.16,99.68 670.56,97.01 670.16,95.93 Z" fill="#a3a3a3"/>
<clipPath id="tclip9"><path d="M660.67,58.56 C659.25,58.56 659.01,56.85 657.11,56.66 C655.21,56.47 653.32,56.80 651.18,57.61 C649.04,58.42 648.10,59.08 646.43,60.69 C644.77,62.31 644.18,63.49 642.88,65.68 C641.57,67.86 640.86,69.00 639.91,71.61 C638.96,74.22 638.72,75.88 638.13,78.72 C637.54,81.57 637.25,83.00 636.94,85.84 C636.64,88.69 636.52,90.11 636.59,92.96 C636.66,95.81 636.71,97.47 637.30,100.08 C637.89,102.69 638.39,103.75 639.55,106.01 C640.72,108.26 641.38,109.45 643.11,111.35 C644.85,113.24 646.01,114.19 648.21,115.50 C650.42,116.80 651.65,117.23 654.15,117.87 C656.64,118.51 658.06,118.70 660.67,118.70 C663.28,118.70 664.70,118.51 667.19,117.87 C669.69,117.23 670.92,116.80 673.13,115.50 C675.33,114.19 676.49,113.24 678.23,111.35 C679.96,109.45 680.62,108.26 681.78,106.01 C682.95,103.75 683.40,102.69 684.04,100.08 C684.68,97.47 684.80,95.81 684.99,92.96 C685.18,90.11 685.18,88.69 684.99,85.84 C684.80,83.00 684.63,81.57 684.04,78.72 C683.45,75.88 683.02,74.22 682.02,71.61 C681.03,69.00 680.36,67.86 679.06,65.68 C677.75,63.49 677.28,62.31 675.50,60.69 C673.72,59.08 672.41,58.42 670.16,57.61 C667.91,56.80 666.13,56.47 664.23,56.66 C662.33,56.85 662.09,58.56 660.67,58.56 Z"/></clipPath>
<rect x="635.6" y="55.7" width="50.4" height="64.0" filter="url(#btex)" clip-path="url(#tclip9)"/>
<path d="M649.53,59.34 C649.67,58.92 651.51,58.78 652.29,58.55 C653.08,58.32 655.87,56.95 656.24,57.37 C656.60,57.78 655.63,61.22 655.45,62.10 C655.26,62.97 654.98,64.54 654.66,64.86 C654.34,65.18 653.10,65.18 652.69,64.86 C652.27,64.54 651.48,62.74 651.11,62.10 C650.74,61.45 649.40,59.75 649.53,59.34 Z" fill="#e66a6b"/>
<path d="M648.74,71.17 C649.07,70.85 650.71,70.59 651.11,70.77 C651.51,70.96 652.07,72.19 652.14,72.74 C652.20,73.30 651.83,74.81 651.66,75.50 C651.50,76.19 650.87,77.83 650.72,78.66 C650.56,79.49 650.41,81.68 650.32,82.60 C650.23,83.52 650.02,85.72 649.93,86.55 C649.84,87.37 649.76,89.38 649.53,89.70 C649.30,90.02 648.28,89.67 647.96,89.31 C647.63,88.94 647.00,87.24 646.77,86.55 C646.54,85.86 646.17,84.04 645.98,83.39 C645.80,82.75 645.10,81.58 645.20,81.03 C645.29,80.47 646.45,79.26 646.77,78.66 C647.09,78.06 647.77,76.50 647.96,75.90 C648.14,75.30 648.26,74.09 648.35,73.53 C648.44,72.98 648.42,71.49 648.74,71.17 Z" fill="#e66a6b"/>
<path d="M651.90,76.29 C652.22,75.51 653.55,73.44 653.87,73.53 C654.19,73.63 654.66,76.21 654.66,77.08 C654.66,77.96 654.15,80.11 653.87,81.03 C653.59,81.95 652.66,84.14 652.29,84.97 C651.93,85.80 650.95,88.12 650.72,88.12 C650.49,88.12 650.28,85.89 650.32,84.97 C650.37,84.05 650.93,81.25 651.11,80.24 C651.29,79.22 651.58,77.08 651.90,76.29 Z" fill="#e66a6b"/>
<path d="M654.26,73.14 C654.45,72.91 655.78,73.65 656.24,73.93 C656.70,74.20 657.89,74.95 658.21,75.50 C658.53,76.06 658.95,77.92 659.00,78.66 C659.04,79.40 658.83,81.54 658.60,81.81 C658.37,82.09 657.39,81.39 657.03,81.03 C656.66,80.66 655.72,79.26 655.45,78.66 C655.17,78.06 654.80,76.54 654.66,75.90 C654.52,75.25 654.08,73.37 654.26,73.14 Z" fill="#e66a6b"/>
<path d="M651.11,100.77 C651.43,100.27 653.23,99.64 653.87,99.59 C654.51,99.54 656.12,100.10 656.63,100.38 C657.14,100.65 657.84,101.91 658.21,101.96 C658.58,102.00 659.46,101.37 659.79,100.77 C660.11,100.17 660.78,97.52 660.97,96.83 C661.15,96.14 661.09,95.18 661.36,94.86 C661.64,94.54 662.83,93.98 663.33,94.07 C663.84,94.16 665.15,95.23 665.70,95.65 C666.25,96.06 667.56,97.16 668.07,97.62 C668.57,98.08 669.72,98.95 670.04,99.59 C670.36,100.23 670.83,102.45 670.83,103.14 C670.83,103.83 670.27,104.95 670.04,105.50 C669.81,106.06 669.04,107.32 668.85,107.87 C668.67,108.42 668.74,109.50 668.46,110.24 C668.18,110.97 667.00,113.44 666.49,114.18 C665.98,114.92 664.58,116.36 664.12,116.55 C663.66,116.73 662.87,115.67 662.55,115.76 C662.22,115.85 661.82,117.15 661.36,117.33 C660.90,117.52 659.29,117.43 658.60,117.33 C657.91,117.24 656.00,116.91 655.45,116.55 C654.90,116.18 654.10,114.92 653.87,114.18 C653.64,113.44 653.71,111.06 653.48,110.24 C653.25,109.41 652.18,107.82 651.90,107.08 C651.62,106.35 651.20,104.66 651.11,103.93 C651.02,103.19 650.79,101.28 651.11,100.77 Z" fill="#e66a6b"/>
<path d="M654.66,94.07 C654.84,93.70 656.17,93.19 656.63,93.28 C657.09,93.37 658.33,94.44 658.60,94.86 C658.88,95.27 659.18,96.51 659.00,96.83 C658.81,97.15 657.49,97.66 657.03,97.62 C656.57,97.57 655.33,96.85 655.05,96.44 C654.78,96.02 654.48,94.44 654.66,94.07 Z" fill="#e66a6b"/>
<path d="M642.04,107.48 C642.13,107.02 643.76,106.43 644.41,106.29 C645.05,106.16 646.87,106.06 647.56,106.29 C648.25,106.52 649.68,107.80 650.32,108.26 C650.97,108.73 652.67,109.64 653.08,110.24 C653.50,110.83 653.69,112.66 653.87,113.39 C654.05,114.13 654.84,116.13 654.66,116.55 C654.48,116.96 652.94,117.12 652.29,116.94 C651.65,116.76 649.87,115.47 649.14,114.97 C648.40,114.46 646.63,113.15 645.98,112.60 C645.34,112.05 644.08,110.83 643.62,110.24 C643.16,109.64 641.95,107.94 642.04,107.48 Z" fill="#e66a6b"/>
<path d="M668.85,108.66 C669.18,108.20 670.67,107.40 671.22,107.08 C671.77,106.76 672.99,105.95 673.59,105.90 C674.18,105.85 675.93,106.41 676.35,106.69 C676.76,106.96 677.27,107.67 677.14,108.26 C677.00,108.86 675.76,111.08 675.16,111.81 C674.57,112.55 672.84,114.02 672.01,114.57 C671.18,115.13 668.80,116.32 668.07,116.55 C667.33,116.78 665.84,116.91 665.70,116.55 C665.56,116.18 666.56,114.04 666.88,113.39 C667.21,112.75 668.23,111.58 668.46,111.03 C668.69,110.47 668.53,109.12 668.85,108.66 Z" fill="#e66a6b"/>
<text x="363.3" y="587" font-size="12" text-anchor="middle">Time (s)</text>
<text transform="translate(9.4,376.5) rotate(-90)" font-size="12.5" text-anchor="middle">Burst rate (1/trial)</text>
<text x="138.0" y="175.8" font-size="12" text-anchor="middle">Caudate</text>
<text x="362.0" y="175.8" font-size="12" text-anchor="middle">Thalamus</text>
<text x="585.75" y="175.8" font-size="12" text-anchor="middle">Putamen</text>
<text x="138.0" y="193.6" font-size="12" text-anchor="middle">8-12 Hz</text>
<rect x="51.5" y="197.5" width="87.0" height="99.0" fill="#f0f0f0"/>
<line x1="138.5" y1="197.5" x2="138.5" y2="296.5" stroke="#8c8c8c" stroke-width="1"/>
<path d="M53.2,228.6 L54.7,227.8 L56.4,226.5 L57.6,226.9 L58.6,228.2 L59.5,225.3 L60.6,222.0 L61.9,223.4 L63.1,225.1 L64.4,225.9 L66.1,226.3 L67.4,226.8 L68.8,226.1 L69.9,226.9 L71.2,228.2 L72.5,228.6 L73.7,227.6 L74.6,227.4 L75.4,228.6 L76.7,230.8 L77.5,232.2 L79.2,233.3 L80.5,235.0 L81.8,236.7 L83.5,238.0 L84.7,239.0 L86.0,237.5 L87.3,238.8 L88.6,240.9 L89.8,242.6 L91.5,244.3 L93.2,246.0 L96.7,255.5 L98.4,259.7 L100.1,263.6 L101.8,267.4 L103.5,269.9 L105.2,271.6 L106.9,275.0 L108.6,278.8 L110.3,281.8 L111.9,283.5 L113.6,286.0 L114.9,288.1 L116.2,287.7 L117.2,287.1 L118.3,289.0 L119.6,291.1 L120.8,290.3 L122.1,289.0 L123.4,287.7 L124.5,286.6 L125.7,287.1 L127.0,286.3 L128.5,285.4 L129.6,285.2 L130.6,286.4 L131.6,287.3 L133.0,286.4 L134.0,284.3 L135.3,281.4 L136.5,278.8 L137.8,276.7 L139.1,275.0 L140.3,273.7 L141.8,269.9 L142.9,267.4 L144.0,264.1 L145.7,260.2 L147.6,255.8 L149.5,250.0 L150.4,247.9 L152.1,246.2 L153.4,240.5 L154.0,238.6 L155.9,237.7 L157.8,236.7 L159.1,236.1 L160.1,232.2 L160.6,229.3 L162.3,229.1 L163.5,227.2 L165.4,225.3 L167.4,223.3 L169.3,222.1 L171.2,221.2 L172.4,218.3 L173.7,219.5 L175.0,220.2 L176.3,218.6 L177.5,221.4 L179.4,223.7 L181.3,225.3 L183.3,222.7 L185.1,219.9 L186.5,219.3 L188.4,218.0 L190.0,217.2 L191.5,218.3 L193.4,219.9 L194.9,221.8 L196.4,223.7 L198.0,224.4 L199.9,224.4 L201.0,223.7 L202.5,222.5 L204.1,223.2 L205.6,223.3 L207.1,224.7 L208.2,225.4 L209.8,225.2 L211.3,224.7 L212.8,224.7 L214.3,225.6 L215.5,227.1 L216.6,228.8 L217.8,229.3 L219.3,229.8 L220.4,230.9 L221.4,231.7 L222.4,230.6 L223.5,229.6 L224.6,229.6" fill="none" stroke="#0000ff" stroke-width="1.6" stroke-linejoin="round"/>
<path d="M53.2,245.6 L54.2,244.9 L55.3,244.3 L56.4,246.0 L57.6,248.1 L58.9,249.4 L60.2,249.2 L61.9,249.7 L63.6,250.3 L65.3,251.1 L66.5,251.1 L68.2,250.5 L69.9,249.7 L71.6,249.4 L72.9,250.5 L74.2,252.4 L75.4,254.9 L76.7,254.1 L78.0,253.2 L79.2,252.8 L80.5,254.9 L81.8,257.0 L83.1,258.5 L84.3,258.7 L85.6,257.9 L86.9,257.9 L88.1,258.3 L96.7,267.4 L97.5,269.5 L98.6,272.0 L99.7,271.6 L100.8,270.3 L101.8,268.2 L102.8,269.1 L104.3,270.8 L106.0,273.3 L107.7,275.4 L109.4,276.7 L110.7,278.0 L111.5,280.5 L112.8,283.9 L114.1,288.1 L115.3,292.4 L116.6,295.3 L117.9,296.2 L119.6,295.8 L120.8,294.9 L122.1,294.9 L123.4,294.1 L124.7,292.8 L125.9,292.2 L127.2,291.9 L128.5,291.5 L129.6,290.7 L130.6,291.3 L132.3,291.9 L134.0,292.5 L135.3,292.8 L136.5,291.9 L137.8,290.5 L139.1,289.4 L140.3,287.3 L141.6,286.0 L142.9,286.4 L144.2,285.2 L147.9,281.6 L149.2,282.5 L150.8,278.0 L152.5,275.8 L154.6,274.8 L156.5,273.3 L158.4,272.0 L160.4,269.1 L162.3,265.3 L164.2,257.7 L165.4,256.8 L167.4,259.3 L169.3,255.1 L171.2,251.3 L173.1,248.1 L175.0,245.6 L176.9,241.8 L178.2,239.5 L179.4,240.5 L181.3,239.9 L185.0,237.8 L186.5,239.2 L188.0,239.9 L189.6,238.2 L191.5,236.4 L193.0,237.4 L194.5,237.0 L195.7,236.7 L197.2,238.2 L198.7,239.5 L200.2,240.2 L201.4,238.6 L202.5,236.4 L204.1,236.7 L205.2,233.6 L206.3,231.3 L207.9,229.8 L209.0,229.4 L210.2,230.6 L211.3,231.3 L212.8,231.1 L214.3,230.9 L215.9,230.6 L216.6,229.3 L217.8,226.4 L218.9,227.1 L220.1,227.3 L221.2,226.0 L222.4,227.1 L223.5,226.4 L224.6,224.4" fill="none" stroke="#ff0000" stroke-width="1.6" stroke-linejoin="round"/>
<line x1="51.0" y1="197.5" x2="225.0" y2="197.5" stroke="#939393" stroke-width="1"/>
<line x1="224.5" y1="197.5" x2="224.5" y2="296.5" stroke="#9c9c9c" stroke-width="1"/>
<line x1="51.5" y1="197.5" x2="51.5" y2="296.5" stroke="#7c7c7c" stroke-width="1"/>
<line x1="51.0" y1="296.5" x2="225.0" y2="296.5" stroke="#808080" stroke-width="1"/>
<line x1="51.5" y1="283.42" x2="53.7" y2="283.42" stroke="#5c5c5c" stroke-width="1"/>
<line x1="222.5" y1="283.42" x2="224.5" y2="283.42" stroke="#5c5c5c" stroke-width="1"/>
<line x1="51.5" y1="270.54" x2="53.7" y2="270.54" stroke="#5c5c5c" stroke-width="1"/>
<line x1="222.5" y1="270.54" x2="224.5" y2="270.54" stroke="#5c5c5c" stroke-width="1"/>
<line x1="51.5" y1="257.66" x2="53.7" y2="257.66" stroke="#5c5c5c" stroke-width="1"/>
<line x1="222.5" y1="257.66" x2="224.5" y2="257.66" stroke="#5c5c5c" stroke-width="1"/>
<line x1="51.5" y1="244.78" x2="53.7" y2="244.78" stroke="#5c5c5c" stroke-width="1"/>
<line x1="222.5" y1="244.78" x2="224.5" y2="244.78" stroke="#5c5c5c" stroke-width="1"/>
<line x1="51.5" y1="231.90" x2="53.7" y2="231.90" stroke="#5c5c5c" stroke-width="1"/>
<line x1="222.5" y1="231.90" x2="224.5" y2="231.90" stroke="#5c5c5c" stroke-width="1"/>
<line x1="51.5" y1="219.02" x2="53.7" y2="219.02" stroke="#5c5c5c" stroke-width="1"/>
<line x1="222.5" y1="219.02" x2="224.5" y2="219.02" stroke="#5c5c5c" stroke-width="1"/>
<line x1="51.5" y1="206.14" x2="53.7" y2="206.14" stroke="#5c5c5c" stroke-width="1"/>
<line x1="222.5" y1="206.14" x2="224.5" y2="206.14" stroke="#5c5c5c" stroke-width="1"/>
<text x="48.3" y="222.62" font-size="10" text-anchor="end">0.16</text>
<text x="48.3" y="299.90" font-size="10" text-anchor="end">0.13</text>
<text x="52.20" y="308.2" font-size="10" text-anchor="middle">0</text>
<text x="138.70" y="308.2" font-size="10" text-anchor="middle">0.5</text>
<text x="225.20" y="308.2" font-size="10" text-anchor="middle">1</text>
<text x="362.0" y="193.6" font-size="12" text-anchor="middle">8-12 Hz</text>
<rect x="275.5" y="197.5" width="86.5" height="99.0" fill="#f0f0f0"/>
<line x1="362" y1="197.5" x2="362" y2="296.5" stroke="#8c8c8c" stroke-width="1"/>
<path d="M277.2,216.3 L278.7,216.1 L280.4,216.3 L281.6,217.2 L282.6,218.2 L284.0,217.3 L285.4,217.2 L287.1,216.5 L288.6,216.7 L290.1,217.2 L291.4,217.7 L292.5,219.2 L293.5,218.8 L294.8,217.7 L296.0,218.0 L297.6,218.8 L299.0,219.7 L300.3,220.7 L301.5,222.0 L302.8,223.3 L304.1,224.5 L305.4,224.8 L306.6,224.4 L307.9,224.3 L308.9,224.9 L310.0,226.2 L311.3,228.3 L312.6,230.5 L313.8,232.7 L315.1,235.1 L315.9,237.2 L317.2,238.9 L318.5,240.6 L319.8,242.7 L323.9,249.7 L325.2,251.8 L326.5,253.1 L327.7,253.9 L328.6,256.1 L329.9,258.2 L331.1,259.9 L332.4,262.4 L333.7,264.5 L334.9,266.6 L336.2,268.8 L337.5,270.7 L338.8,272.4 L339.6,272.2 L340.9,271.3 L342.2,270.5 L343.4,271.1 L344.7,272.2 L346.0,270.7 L347.2,270.2 L348.5,270.5 L349.8,271.1 L351.1,271.6 L352.3,272.2 L353.2,272.4 L354.0,270.9 L355.3,269.2 L356.6,267.5 L357.8,265.8 L358.8,264.5 L359.9,264.9 L360.4,265.3 L361.2,264.5 L362.3,262.7 L363.9,260.0 L365.7,257.0 L367.5,254.7 L369.3,252.9 L370.5,249.9 L371.7,246.4 L372.8,244.0 L374.6,242.8 L376.4,241.6 L378.2,239.2 L380.0,236.3 L381.8,233.3 L382.9,232.4 L384.7,232.7 L386.5,233.1 L387.7,234.3 L389.1,232.7 L390.7,230.9 L392.4,230.0 L394.2,230.3 L396.0,228.0 L397.8,228.6 L399.6,228.8 L401.3,227.2 L402.5,224.1 L403.8,222.8 L405.1,221.9 L406.4,221.1 L408.1,220.4 L409.7,220.7 L411.4,221.8 L413.1,222.6 L414.4,222.8 L415.7,221.9 L416.9,221.3 L418.2,221.9 L419.9,222.6 L421.2,221.8 L422.5,220.7 L424.2,220.3 L425.4,218.6 L426.7,219.4 L428.0,220.3 L429.2,220.7 L430.5,218.6 L431.8,219.6 L433.1,219.2 L434.3,217.7 L435.2,216.4 L436.0,215.3 L437.3,216.9 L438.6,217.7 L439.8,218.1 L441.1,219.0 L442.4,218.1 L443.2,217.7 L444.5,219.0 L446.2,219.8 L447.5,220.7 L448.1,221.3" fill="none" stroke="#0000ff" stroke-width="1.6" stroke-linejoin="round"/>
<path d="M277.2,241.1 L278.7,241.7 L279.5,242.1 L280.8,241.5 L282.5,241.1 L284.2,240.6 L285.9,240.2 L287.6,239.4 L289.1,238.3 L290.5,237.2 L291.8,237.2 L293.1,238.1 L294.3,239.4 L295.9,240.4 L297.3,241.5 L298.6,242.3 L299.8,242.1 L301.1,243.4 L302.0,244.0 L303.2,242.3 L304.5,240.6 L305.5,239.5 L306.6,240.4 L307.9,238.3 L308.7,237.7 L309.6,239.4 L310.9,241.1 L311.7,242.3 L312.8,241.9 L313.8,241.7 L314.7,243.6 L315.5,245.7 L316.8,247.8 L318.1,249.9 L319.5,251.5 L320.6,252.5 L321.4,253.5 L322.7,256.1 L323.9,259.0 L325.2,262.0 L326.5,263.7 L327.7,263.9 L329.0,263.7 L330.3,263.9 L331.1,264.9 L332.0,267.5 L333.3,270.5 L334.5,272.2 L335.8,273.8 L337.1,276.4 L338.3,278.5 L339.6,280.2 L340.9,281.9 L342.2,283.4 L343.4,284.4 L344.7,285.3 L346.0,286.6 L347.2,287.8 L348.5,289.1 L349.8,291.2 L351.1,292.1 L352.3,292.1 L353.4,291.2 L354.4,289.9 L355.7,289.5 L357.0,289.1 L358.3,288.5 L359.5,287.8 L360.4,287.6 L360.8,287.2 L362.8,286.1 L364.5,284.9 L366.3,283.7 L368.1,282.5 L369.9,281.7 L371.7,280.2 L373.4,276.6 L375.2,273.6 L377.0,271.3 L378.8,268.9 L380.6,266.5 L382.9,265.9 L384.7,264.7 L386.5,263.6 L387.9,264.7 L389.1,262.4 L391.3,260.6 L393.0,259.4 L394.8,256.8 L396.6,255.6 L398.4,254.7 L400.2,253.5 L401.7,251.1 L402.5,250.3 L404.2,249.1 L405.9,248.1 L407.6,247.2 L409.3,246.9 L411.0,246.9 L412.7,245.8 L414.4,244.8 L416.1,244.0 L417.4,242.7 L418.2,241.0 L419.5,240.2 L420.8,239.3 L422.0,236.8 L423.3,236.8 L424.6,237.2 L425.4,236.8 L426.7,237.9 L428.0,238.9 L429.7,239.3 L431.4,238.5 L432.6,236.8 L433.9,235.1 L435.2,236.5 L436.4,236.8 L437.7,236.2 L439.0,234.2 L440.3,233.0 L441.9,232.3 L443.2,232.5 L444.5,233.6 L445.8,235.1 L447.0,236.5 L448.1,237.4" fill="none" stroke="#ff0000" stroke-width="1.6" stroke-linejoin="round"/>
<line x1="356.8" y1="204.0" x2="398" y2="204.0" stroke="#0000ff" stroke-width="1.6"/>
<line x1="275.0" y1="197.5" x2="449.0" y2="197.5" stroke="#939393" stroke-width="1"/>
<line x1="448.5" y1="197.5" x2="448.5" y2="296.5" stroke="#9c9c9c" stroke-width="1"/>
<line x1="275.5" y1="197.5" x2="275.5" y2="296.5" stroke="#7c7c7c" stroke-width="1"/>
<line x1="275.0" y1="296.5" x2="449.0" y2="296.5" stroke="#808080" stroke-width="1"/>
<line x1="275.5" y1="277.86" x2="277.7" y2="277.86" stroke="#5c5c5c" stroke-width="1"/>
<line x1="446.5" y1="277.86" x2="448.5" y2="277.86" stroke="#5c5c5c" stroke-width="1"/>
<line x1="275.5" y1="259.42" x2="277.7" y2="259.42" stroke="#5c5c5c" stroke-width="1"/>
<line x1="446.5" y1="259.42" x2="448.5" y2="259.42" stroke="#5c5c5c" stroke-width="1"/>
<line x1="275.5" y1="240.98" x2="277.7" y2="240.98" stroke="#5c5c5c" stroke-width="1"/>
<line x1="446.5" y1="240.98" x2="448.5" y2="240.98" stroke="#5c5c5c" stroke-width="1"/>
<line x1="275.5" y1="222.54" x2="277.7" y2="222.54" stroke="#5c5c5c" stroke-width="1"/>
<line x1="446.5" y1="222.54" x2="448.5" y2="222.54" stroke="#5c5c5c" stroke-width="1"/>
<line x1="275.5" y1="204.10" x2="277.7" y2="204.10" stroke="#5c5c5c" stroke-width="1"/>
<line x1="446.5" y1="204.10" x2="448.5" y2="204.10" stroke="#5c5c5c" stroke-width="1"/>
<text x="272.3" y="207.70" font-size="10" text-anchor="end">0.17</text>
<text x="272.3" y="299.90" font-size="10" text-anchor="end">0.12</text>
<text x="276.80" y="308.2" font-size="10" text-anchor="middle">0</text>
<text x="363.30" y="308.2" font-size="10" text-anchor="middle">0.5</text>
<text x="449.80" y="308.2" font-size="10" text-anchor="middle">1</text>
<text x="585.75" y="193.6" font-size="12" text-anchor="middle">8-12 Hz</text>
<rect x="499" y="197.5" width="86.5" height="99.0" fill="#f0f0f0"/>
<line x1="585.5" y1="197.5" x2="585.5" y2="296.5" stroke="#8c8c8c" stroke-width="1"/>
<path d="M501.2,226.4 L502.2,225.6 L503.3,223.0 L504.1,220.6 L505.2,220.9 L506.5,220.5 L507.5,219.8 L508.6,220.9 L509.9,222.3 L511.6,222.2 L513.1,222.3 L514.3,224.3 L515.4,223.7 L516.5,222.8 L517.3,225.6 L518.2,228.1 L519.2,226.4 L520.5,225.4 L521.7,225.7 L523.0,226.0 L524.3,224.9 L525.5,223.7 L526.8,223.0 L527.7,224.7 L528.9,227.3 L530.2,228.5 L531.9,229.4 L533.6,229.6 L534.9,230.2 L536.0,231.5 L537.0,234.0 L538.3,237.4 L539.4,240.0 L540.4,241.2 L541.2,243.4 L541.9,247.1 L542.9,249.3 L544.7,251.4 L546.4,253.1 L547.6,254.7 L548.5,257.3 L549.3,259.8 L550.6,261.9 L551.9,263.6 L553.1,264.5 L554.4,264.7 L555.3,266.2 L556.5,268.3 L558.2,269.2 L559.5,268.7 L560.8,270.4 L562.0,272.1 L563.7,273.8 L565.4,275.5 L566.7,277.2 L568.0,278.9 L569.2,280.6 L570.5,281.9 L571.8,283.1 L572.6,283.0 L573.7,281.4 L574.7,279.7 L576.0,278.5 L576.9,277.9 L577.7,280.6 L578.6,282.5 L579.8,281.9 L581.1,280.6 L582.4,279.7 L583.6,278.9 L585.0,278.2 L587.1,278.0 L588.6,276.8 L590.1,273.7 L591.6,272.5 L593.2,270.7 L594.7,268.6 L596.7,267.1 L598.8,265.6 L600.8,263.6 L602.3,261.0 L603.3,259.0 L604.8,259.0 L606.9,257.5 L608.4,253.9 L609.6,249.8 L610.9,248.5 L613.0,248.3 L615.0,247.5 L616.5,246.3 L618.1,244.7 L619.6,245.3 L621.1,244.0 L622.6,242.2 L626.3,241.4 L627.5,239.2 L628.8,237.3 L630.1,236.9 L631.4,236.1 L632.6,235.0 L633.9,234.4 L635.2,235.3 L636.4,236.3 L637.7,236.9 L639.0,237.3 L640.3,237.5 L641.5,238.0 L642.6,239.2 L643.6,236.3 L644.9,234.2 L646.2,233.3 L647.5,231.6 L648.7,231.9 L650.0,232.5 L651.3,230.8 L652.5,228.8 L653.8,227.4 L655.1,226.9 L656.4,226.8 L657.6,226.3 L658.9,225.3 L660.2,224.2 L661.4,223.6 L662.7,223.7 L664.0,222.5 L665.3,221.2 L666.5,221.9 L667.8,222.9 L669.1,224.0 L670.3,225.9 L671.6,226.1" fill="none" stroke="#0000ff" stroke-width="1.6" stroke-linejoin="round"/>
<path d="M501.2,242.9 L502.4,242.3 L503.5,240.8 L504.8,238.7 L506.1,236.7 L507.3,236.6 L508.6,237.3 L509.9,237.4 L511.6,237.8 L512.8,238.4 L514.1,238.3 L515.4,236.7 L516.5,235.3 L517.9,236.2 L519.6,237.0 L521.3,237.4 L522.6,236.6 L523.8,235.3 L524.9,234.5 L526.4,235.3 L527.7,235.1 L528.9,234.7 L530.2,235.1 L531.2,237.0 L531.9,239.1 L533.2,240.4 L534.0,241.2 L534.9,243.4 L535.7,245.5 L536.8,247.6 L537.8,246.7 L538.8,245.7 L539.5,246.7 L540.4,249.3 L541.3,251.4 L542.5,252.8 L543.8,253.3 L545.1,252.5 L546.4,251.6 L547.6,251.9 L548.9,253.1 L550.2,254.7 L551.4,254.5 L552.3,253.5 L553.1,254.2 L554.0,256.4 L554.8,259.4 L555.7,263.2 L556.5,266.6 L557.8,270.0 L559.1,273.4 L560.3,274.7 L561.6,274.2 L562.9,272.5 L564.2,274.2 L565.4,275.1 L567.1,275.9 L568.8,277.0 L570.1,276.8 L570.9,278.9 L572.0,281.0 L573.2,283.0 L574.3,282.3 L575.6,280.2 L576.9,278.7 L578.1,280.6 L579.4,282.3 L580.7,281.3 L581.9,278.1 L583.2,277.6 L584.5,278.2 L585.0,277.8 L587.1,277.3 L588.6,278.3 L590.1,279.8 L591.6,281.9 L593.7,284.4 L595.2,282.4 L596.7,279.8 L598.2,278.3 L599.8,277.8 L601.1,279.3 L602.3,275.8 L603.3,272.2 L604.3,269.2 L605.9,268.4 L607.4,267.8 L608.9,267.1 L609.9,265.6 L610.9,262.5 L612.0,260.5 L613.5,259.5 L615.0,257.7 L616.3,258.7 L617.6,256.4 L619.1,253.6 L620.4,251.9 L621.6,251.4 L623.1,251.9 L624.2,251.4 L627.5,243.5 L628.8,240.5 L630.1,238.4 L631.4,239.2 L632.6,240.5 L633.9,241.5 L635.2,241.2 L636.4,240.3 L637.7,239.2 L639.0,238.4 L640.3,237.3 L641.5,235.8 L642.4,233.6 L643.6,232.9 L644.9,232.7 L646.2,232.9 L647.5,232.5 L648.7,233.1 L650.0,234.2 L651.3,233.7 L652.5,233.1 L653.8,233.9 L654.8,234.7 L655.9,233.1 L657.2,231.9 L658.5,231.2 L659.7,230.5 L661.0,229.9 L661.9,231.0 L662.7,228.5 L663.6,226.5 L664.8,225.9 L666.1,225.3 L667.4,224.2 L668.6,223.4 L669.9,222.7 L671.2,222.0 L671.6,222.0" fill="none" stroke="#ff0000" stroke-width="1.6" stroke-linejoin="round"/>
<line x1="498.5" y1="197.5" x2="673.0" y2="197.5" stroke="#939393" stroke-width="1"/>
<line x1="672.5" y1="197.5" x2="672.5" y2="296.5" stroke="#9c9c9c" stroke-width="1"/>
<line x1="499" y1="197.5" x2="499" y2="296.5" stroke="#7c7c7c" stroke-width="1"/>
<line x1="498.5" y1="296.5" x2="673.0" y2="296.5" stroke="#808080" stroke-width="1"/>
<line x1="499" y1="281.27" x2="501.2" y2="281.27" stroke="#5c5c5c" stroke-width="1"/>
<line x1="670.5" y1="281.27" x2="672.5" y2="281.27" stroke="#5c5c5c" stroke-width="1"/>
<line x1="499" y1="266.24" x2="501.2" y2="266.24" stroke="#5c5c5c" stroke-width="1"/>
<line x1="670.5" y1="266.24" x2="672.5" y2="266.24" stroke="#5c5c5c" stroke-width="1"/>
<line x1="499" y1="251.21" x2="501.2" y2="251.21" stroke="#5c5c5c" stroke-width="1"/>
<line x1="670.5" y1="251.21" x2="672.5" y2="251.21" stroke="#5c5c5c" stroke-width="1"/>
<line x1="499" y1="236.18" x2="501.2" y2="236.18" stroke="#5c5c5c" stroke-width="1"/>
<line x1="670.5" y1="236.18" x2="672.5" y2="236.18" stroke="#5c5c5c" stroke-width="1"/>
<line x1="499" y1="221.15" x2="501.2" y2="221.15" stroke="#5c5c5c" stroke-width="1"/>
<line x1="670.5" y1="221.15" x2="672.5" y2="221.15" stroke="#5c5c5c" stroke-width="1"/>
<line x1="499" y1="206.12" x2="501.2" y2="206.12" stroke="#5c5c5c" stroke-width="1"/>
<line x1="670.5" y1="206.12" x2="672.5" y2="206.12" stroke="#5c5c5c" stroke-width="1"/>
<text x="495.8" y="209.72" font-size="10" text-anchor="end">0.15</text>
<text x="495.8" y="299.90" font-size="10" text-anchor="end">0.12</text>
<text x="500.30" y="306.5" font-size="10" text-anchor="middle">0</text>
<text x="587.05" y="306.5" font-size="10" text-anchor="middle">0.5</text>
<text x="673.80" y="306.5" font-size="10" text-anchor="middle">1</text>
<text x="138.0" y="323.6" font-size="12" text-anchor="middle">12-18 Hz</text>
<rect x="51.5" y="327.5" width="87.0" height="98.0" fill="#f0f0f0"/>
<line x1="138.5" y1="327.5" x2="138.5" y2="425.5" stroke="#8c8c8c" stroke-width="1"/>
<path d="M53.1,347.6 L55.2,346.7 L57.8,346.7 L60.4,346.9 L62.1,347.1 L63.8,348.5 L66.4,349.3 L69.0,351.1 L71.6,353.7 L73.3,356.3 L75.6,359.7 L77.6,364.0 L79.7,366.6 L82.0,370.9 L84.5,375.3 L87.1,379.6 L89.7,383.9 L92.3,388.2 L94.9,392.6 L97.5,396.9 L100.1,400.3 L102.7,402.9 L105.3,405.2 L107.9,407.3 L109.6,408.3 L111.8,407.3 L113.6,408.6 L115.6,409.0 L117.4,407.6 L119.1,409.3 L121.2,409.7 L123.4,408.6 L125.1,408.1 L126.9,409.5 L128.6,409.0 L130.8,407.6 L132.9,405.5 L134.6,402.9 L136.0,401.7 L138.1,400.0 L140.3,399.0 L142.0,398.6 L143.8,396.0 L146.0,393.4 L148.1,390.0 L149.8,387.4 L151.9,383.9 L153.3,381.7 L155.0,381.0 L156.4,378.7 L158.1,377.0 L160.2,375.8 L161.9,374.4 L164.5,373.0 L167.1,371.8 L169.7,370.6 L172.3,369.6 L174.0,370.1 L176.1,367.8 L178.3,368.9 L180.6,368.0 L182.6,367.5 L185.2,366.6 L187.0,367.1 L188.7,368.0 L190.4,367.5 L193.0,367.1 L195.6,366.1 L197.3,366.1 L199.6,365.4 L201.6,364.4 L203.7,363.7 L206.0,362.0 L208.2,362.3 L210.3,362.7 L212.9,362.0 L215.5,362.0 L218.1,362.3 L220.6,362.0 L222.4,362.7 L224.1,361.4 L225.5,361.4" fill="none" stroke="#0000ff" stroke-width="1.6" stroke-linejoin="round"/>
<path d="M53.1,355.4 L55.2,357.1 L57.8,359.7 L60.4,360.6 L63.0,362.3 L65.2,364.0 L67.3,367.5 L69.9,370.6 L72.5,373.5 L75.0,377.0 L77.6,379.2 L79.7,381.0 L82.0,384.8 L84.5,388.6 L86.6,391.3 L88.3,395.2 L90.6,397.2 L92.8,399.5 L94.9,402.1 L97.0,403.5 L99.2,405.5 L101.5,408.1 L103.9,409.3 L106.1,411.1 L108.7,413.3 L110.8,413.3 L113.1,412.4 L115.6,414.2 L118.2,415.0 L120.8,416.2 L122.6,417.6 L124.6,417.3 L126.9,415.9 L129.5,415.0 L131.5,414.2 L132.9,412.4 L134.6,410.4 L136.0,409.8 L137.7,409.0 L139.8,408.6 L141.5,409.3 L143.8,410.7 L146.0,410.4 L147.7,408.6 L149.5,405.9 L151.2,403.8 L153.3,402.4 L155.3,400.7 L157.6,397.7 L160.2,395.2 L162.8,392.6 L164.5,390.3 L167.1,388.6 L169.7,386.9 L172.3,385.6 L174.9,383.9 L177.5,382.2 L180.0,379.9 L182.6,377.9 L185.2,376.5 L187.8,375.3 L190.4,374.1 L193.0,372.3 L195.6,370.9 L198.2,370.1 L200.8,369.2 L203.0,368.4 L204.8,365.8 L206.5,363.2 L208.6,362.0 L211.1,362.0 L213.7,360.9 L215.8,362.0 L218.1,362.0 L219.8,359.7 L221.5,358.0 L223.2,356.8 L225.5,355.7" fill="none" stroke="#ff0000" stroke-width="1.6" stroke-linejoin="round"/>
<line x1="143.3" y1="332.4" x2="169.7" y2="332.4" stroke="#0000ff" stroke-width="1.6"/>
<line x1="51.0" y1="327.5" x2="225.0" y2="327.5" stroke="#939393" stroke-width="1"/>
<line x1="224.5" y1="327.5" x2="224.5" y2="425.5" stroke="#9c9c9c" stroke-width="1"/>
<line x1="51.5" y1="327.5" x2="51.5" y2="425.5" stroke="#7c7c7c" stroke-width="1"/>
<line x1="51.0" y1="425.5" x2="225.0" y2="425.5" stroke="#808080" stroke-width="1"/>
<line x1="51.5" y1="406.70" x2="53.7" y2="406.70" stroke="#5c5c5c" stroke-width="1"/>
<line x1="222.5" y1="406.70" x2="224.5" y2="406.70" stroke="#5c5c5c" stroke-width="1"/>
<line x1="51.5" y1="388.10" x2="53.7" y2="388.10" stroke="#5c5c5c" stroke-width="1"/>
<line x1="222.5" y1="388.10" x2="224.5" y2="388.10" stroke="#5c5c5c" stroke-width="1"/>
<line x1="51.5" y1="369.50" x2="53.7" y2="369.50" stroke="#5c5c5c" stroke-width="1"/>
<line x1="222.5" y1="369.50" x2="224.5" y2="369.50" stroke="#5c5c5c" stroke-width="1"/>
<line x1="51.5" y1="350.90" x2="53.7" y2="350.90" stroke="#5c5c5c" stroke-width="1"/>
<line x1="222.5" y1="350.90" x2="224.5" y2="350.90" stroke="#5c5c5c" stroke-width="1"/>
<line x1="51.5" y1="332.30" x2="53.7" y2="332.30" stroke="#5c5c5c" stroke-width="1"/>
<line x1="222.5" y1="332.30" x2="224.5" y2="332.30" stroke="#5c5c5c" stroke-width="1"/>
<text x="48.3" y="335.90" font-size="10" text-anchor="end">0.28</text>
<text x="48.3" y="428.90" font-size="10" text-anchor="end">0.18</text>
<text x="52.80" y="435.4" font-size="10" text-anchor="middle">0</text>
<text x="139.30" y="435.4" font-size="10" text-anchor="middle">0.5</text>
<text x="225.80" y="435.4" font-size="10" text-anchor="middle">1</text>
<text x="362.0" y="323.6" font-size="12" text-anchor="middle">12-18 Hz</text>
<rect x="275.5" y="327.5" width="86.5" height="98.0" fill="#f0f0f0"/>
<line x1="362" y1="327.5" x2="362" y2="425.5" stroke="#8c8c8c" stroke-width="1"/>
<path d="M277.1,346.7 L279.2,348.8 L281.8,350.5 L284.4,351.6 L287.0,352.3 L288.7,353.3 L291.3,354.5 L293.9,356.3 L296.5,358.0 L299.0,361.4 L301.6,364.4 L303.7,367.1 L306.0,370.6 L308.2,374.8 L310.3,376.5 L312.3,379.9 L314.6,384.4 L316.8,388.2 L318.9,391.7 L321.0,394.8 L322.4,396.9 L324.1,396.5 L326.2,397.7 L328.4,399.5 L331.0,401.2 L333.6,402.9 L335.8,404.7 L337.1,405.5 L339.3,404.8 L341.4,404.7 L343.1,405.2 L344.8,405.2 L346.2,403.5 L347.9,401.7 L350.0,402.1 L351.7,402.1 L353.8,400.7 L356.1,398.3 L358.3,395.2 L360.2,392.3 L361.7,388.6 L363.5,386.2 L365.5,384.8 L367.8,384.4 L370.0,381.7 L372.1,379.2 L374.2,376.5 L376.4,373.5 L378.7,371.3 L380.7,369.2 L382.8,367.1 L385.0,366.1 L386.8,365.4 L388.5,363.2 L390.2,360.9 L392.5,360.9 L394.5,360.2 L396.6,359.7 L398.9,360.9 L400.6,360.2 L402.8,359.7 L404.6,362.0 L406.3,360.9 L408.4,361.4 L410.4,362.3 L412.7,362.7 L414.9,362.0 L417.0,361.4 L418.7,362.0 L420.5,360.9 L422.2,359.7 L424.3,358.8 L426.5,358.0 L428.2,355.7 L430.5,353.3 L432.6,353.7 L434.6,354.0 L436.9,354.0 L439.1,354.5 L441.2,355.4 L443.3,355.7 L445.5,357.1 L447.8,359.2" fill="none" stroke="#0000ff" stroke-width="1.6" stroke-linejoin="round"/>
<path d="M277.1,345.9 L279.2,346.4 L281.8,346.4 L284.4,346.7 L286.1,348.8 L287.8,350.5 L289.5,351.6 L291.3,353.7 L293.9,356.3 L296.5,359.2 L299.0,362.7 L300.8,366.1 L303.0,369.6 L305.1,373.5 L307.2,377.9 L309.4,382.2 L311.7,385.6 L314.1,389.1 L316.3,392.6 L318.0,396.5 L319.8,400.0 L322.0,404.7 L324.1,408.6 L325.8,410.4 L327.9,411.1 L330.1,413.3 L332.4,415.9 L334.5,416.8 L336.5,417.3 L338.8,418.5 L341.4,419.7 L344.0,421.1 L346.2,422.1 L348.6,423.2 L350.9,422.8 L353.1,421.4 L355.2,420.7 L356.9,420.7 L359.0,419.4 L360.2,417.2 L362.1,415.6 L364.3,414.2 L366.6,412.4 L368.6,411.6 L370.7,409.8 L372.4,408.1 L373.8,404.7 L375.9,401.7 L378.1,398.3 L380.4,396.0 L382.8,394.3 L385.0,391.7 L387.3,388.6 L389.7,384.8 L392.5,381.7 L394.5,379.6 L396.6,376.5 L398.9,374.8 L401.1,374.4 L403.2,373.0 L405.3,373.5 L407.5,372.3 L409.8,370.6 L411.8,369.6 L414.4,369.2 L416.7,367.8 L418.7,366.6 L420.8,364.9 L423.1,363.2 L425.3,361.4 L427.4,359.2 L429.4,358.0 L431.7,358.5 L433.9,358.0 L436.0,358.8 L438.1,357.1 L440.3,355.7 L442.6,355.0 L444.6,355.7 L446.4,355.7 L448.1,355.7" fill="none" stroke="#ff0000" stroke-width="1.6" stroke-linejoin="round"/>
<line x1="339.3" y1="332.4" x2="396.3" y2="332.4" stroke="#0000ff" stroke-width="1.6"/>
<line x1="275.0" y1="327.5" x2="449.0" y2="327.5" stroke="#939393" stroke-width="1"/>
<line x1="448.5" y1="327.5" x2="448.5" y2="425.5" stroke="#9c9c9c" stroke-width="1"/>
<line x1="275.5" y1="327.5" x2="275.5" y2="425.5" stroke="#7c7c7c" stroke-width="1"/>
<line x1="275.0" y1="425.5" x2="449.0" y2="425.5" stroke="#808080" stroke-width="1"/>
<line x1="275.5" y1="406.70" x2="277.7" y2="406.70" stroke="#5c5c5c" stroke-width="1"/>
<line x1="446.5" y1="406.70" x2="448.5" y2="406.70" stroke="#5c5c5c" stroke-width="1"/>
<line x1="275.5" y1="388.10" x2="277.7" y2="388.10" stroke="#5c5c5c" stroke-width="1"/>
<line x1="446.5" y1="388.10" x2="448.5" y2="388.10" stroke="#5c5c5c" stroke-width="1"/>
<line x1="275.5" y1="369.50" x2="277.7" y2="369.50" stroke="#5c5c5c" stroke-width="1"/>
<line x1="446.5" y1="369.50" x2="448.5" y2="369.50" stroke="#5c5c5c" stroke-width="1"/>
<line x1="275.5" y1="350.90" x2="277.7" y2="350.90" stroke="#5c5c5c" stroke-width="1"/>
<line x1="446.5" y1="350.90" x2="448.5" y2="350.90" stroke="#5c5c5c" stroke-width="1"/>
<line x1="275.5" y1="332.30" x2="277.7" y2="332.30" stroke="#5c5c5c" stroke-width="1"/>
<line x1="446.5" y1="332.30" x2="448.5" y2="332.30" stroke="#5c5c5c" stroke-width="1"/>
<text x="272.3" y="335.90" font-size="10" text-anchor="end">0.28</text>
<text x="272.3" y="428.90" font-size="10" text-anchor="end">0.18</text>
<text x="276.80" y="435.4" font-size="10" text-anchor="middle">0</text>
<text x="363.30" y="435.4" font-size="10" text-anchor="middle">0.5</text>
<text x="449.80" y="435.4" font-size="10" text-anchor="middle">1</text>
<text x="585.75" y="323.6" font-size="12" text-anchor="middle">12-18 Hz</text>
<rect x="499" y="327.5" width="86.5" height="98.0" fill="#f0f0f0"/>
<line x1="585.5" y1="327.5" x2="585.5" y2="425.5" stroke="#8c8c8c" stroke-width="1"/>
<path d="M500.1,339.8 L502.2,338.4 L504.3,339.5 L506.0,338.1 L507.7,339.0 L509.4,340.7 L511.7,342.4 L513.9,343.6 L515.7,343.3 L517.4,346.7 L519.1,350.5 L521.2,353.3 L523.3,355.0 L525.5,358.0 L527.7,360.9 L529.8,364.0 L531.9,365.4 L533.6,368.4 L535.3,372.7 L537.1,377.5 L538.8,383.1 L541.0,386.5 L543.3,389.6 L545.0,393.4 L546.8,396.9 L548.5,399.5 L550.6,401.2 L552.3,401.7 L554.0,400.7 L555.7,403.8 L557.5,405.9 L559.5,407.3 L561.8,409.0 L563.5,410.7 L565.2,412.4 L567.0,412.1 L568.7,413.3 L570.4,414.5 L572.1,415.0 L573.9,414.5 L575.6,413.3 L577.3,412.8 L579.1,410.7 L580.8,409.0 L582.5,406.4 L583.0,406.4 L585.1,402.9 L587.3,399.5 L589.6,396.9 L591.6,394.3 L593.7,390.8 L596.0,387.4 L598.2,385.6 L600.3,384.8 L602.3,382.2 L604.1,379.2 L605.8,376.1 L607.5,375.8 L609.3,373.0 L611.5,371.8 L613.7,369.6 L615.8,367.5 L618.4,365.4 L620.7,363.2 L622.7,361.4 L624.8,360.2 L627.0,359.2 L628.8,358.0 L631.0,358.8 L633.1,359.2 L635.2,360.6 L636.9,359.7 L638.6,358.0 L640.4,356.8 L642.1,357.1 L643.8,354.5 L645.5,352.8 L647.8,351.9 L650.4,352.8 L652.4,352.3 L654.7,351.1 L656.4,349.3 L658.1,350.2 L659.9,348.5 L661.6,350.5 L663.3,351.6 L665.1,350.5 L667.3,349.3 L669.0,351.1 L670.8,352.8 L672.5,352.8" fill="none" stroke="#0000ff" stroke-width="1.6" stroke-linejoin="round"/>
<path d="M500.1,339.5 L502.2,339.8 L504.3,340.7 L506.5,341.6 L509.1,342.4 L511.7,342.9 L514.3,341.2 L516.0,339.5 L517.7,341.9 L519.5,345.0 L521.2,346.4 L522.9,348.1 L524.6,350.5 L526.4,351.6 L528.1,353.7 L529.8,358.0 L531.5,362.7 L533.3,365.4 L535.0,366.6 L536.7,371.3 L538.5,376.1 L540.2,381.0 L542.3,386.2 L544.5,387.9 L546.8,390.3 L548.5,394.3 L550.2,396.5 L551.9,398.3 L553.7,400.3 L555.4,403.8 L556.6,406.9 L558.3,409.8 L560.6,412.1 L562.6,413.3 L564.7,415.0 L566.4,413.3 L568.2,412.4 L569.9,414.2 L571.6,416.8 L573.9,417.6 L575.6,417.3 L577.3,415.0 L579.1,415.6 L580.8,415.9 L582.5,414.2 L583.0,415.0 L585.1,414.5 L587.3,413.3 L589.6,412.4 L591.6,412.4 L593.4,409.0 L595.1,405.9 L596.8,403.8 L598.9,401.2 L600.6,399.0 L602.3,396.9 L604.1,393.1 L605.8,388.6 L608.0,384.8 L610.3,383.1 L612.4,381.7 L614.1,380.5 L615.8,378.2 L617.5,372.3 L619.6,370.6 L621.3,368.4 L623.6,364.9 L625.8,362.7 L627.6,362.0 L629.3,358.8 L631.4,357.1 L633.1,356.8 L634.8,354.5 L636.6,355.7 L638.3,353.7 L640.0,355.0 L641.7,356.3 L643.5,351.9 L645.5,349.9 L647.8,350.2 L649.5,351.9 L651.2,348.5 L653.0,345.9 L655.2,344.7 L656.9,343.3 L659.0,344.7 L661.1,344.7 L662.8,345.0 L664.5,344.2 L666.3,345.0 L668.0,342.9 L669.7,345.9 L671.4,345.9 L672.5,346.4" fill="none" stroke="#ff0000" stroke-width="1.6" stroke-linejoin="round"/>
<line x1="498.5" y1="327.5" x2="673.0" y2="327.5" stroke="#939393" stroke-width="1"/>
<line x1="672.5" y1="327.5" x2="672.5" y2="425.5" stroke="#9c9c9c" stroke-width="1"/>
<line x1="499" y1="327.5" x2="499" y2="425.5" stroke="#7c7c7c" stroke-width="1"/>
<line x1="498.5" y1="425.5" x2="673.0" y2="425.5" stroke="#808080" stroke-width="1"/>
<line x1="499" y1="410.20" x2="501.2" y2="410.20" stroke="#5c5c5c" stroke-width="1"/>
<line x1="670.5" y1="410.20" x2="672.5" y2="410.20" stroke="#5c5c5c" stroke-width="1"/>
<line x1="499" y1="395.10" x2="501.2" y2="395.10" stroke="#5c5c5c" stroke-width="1"/>
<line x1="670.5" y1="395.10" x2="672.5" y2="395.10" stroke="#5c5c5c" stroke-width="1"/>
<line x1="499" y1="380.00" x2="501.2" y2="380.00" stroke="#5c5c5c" stroke-width="1"/>
<line x1="670.5" y1="380.00" x2="672.5" y2="380.00" stroke="#5c5c5c" stroke-width="1"/>
<line x1="499" y1="364.90" x2="501.2" y2="364.90" stroke="#5c5c5c" stroke-width="1"/>
<line x1="670.5" y1="364.90" x2="672.5" y2="364.90" stroke="#5c5c5c" stroke-width="1"/>
<line x1="499" y1="349.80" x2="501.2" y2="349.80" stroke="#5c5c5c" stroke-width="1"/>
<line x1="670.5" y1="349.80" x2="672.5" y2="349.80" stroke="#5c5c5c" stroke-width="1"/>
<line x1="499" y1="334.70" x2="501.2" y2="334.70" stroke="#5c5c5c" stroke-width="1"/>
<line x1="670.5" y1="334.70" x2="672.5" y2="334.70" stroke="#5c5c5c" stroke-width="1"/>
<text x="495.8" y="338.30" font-size="10" text-anchor="end">0.24</text>
<text x="495.8" y="428.90" font-size="10" text-anchor="end">0.18</text>
<text x="500.30" y="435.4" font-size="10" text-anchor="middle">0</text>
<text x="587.05" y="435.4" font-size="10" text-anchor="middle">0.5</text>
<text x="673.80" y="435.4" font-size="10" text-anchor="middle">1</text>
<text x="138.0" y="452.6" font-size="12" text-anchor="middle">18-26 Hz</text>
<rect x="51.5" y="456.5" width="87.0" height="99.0" fill="#f0f0f0"/>
<line x1="138.5" y1="456.5" x2="138.5" y2="555.5" stroke="#8c8c8c" stroke-width="1"/>
<path d="M53.1,477.1 L54.8,478.9 L56.9,480.6 L58.6,479.2 L60.0,476.6 L61.7,478.3 L63.8,480.6 L65.9,480.1 L67.6,480.6 L69.3,482.3 L71.6,484.7 L73.8,487.8 L75.9,486.5 L77.6,488.7 L79.7,492.2 L82.0,495.6 L84.2,498.2 L86.3,500.3 L88.0,503.4 L90.1,506.0 L91.8,508.2 L94.0,509.5 L96.3,511.2 L98.4,512.9 L100.4,515.5 L102.2,518.1 L104.4,517.6 L106.7,518.6 L108.7,519.0 L110.1,520.3 L111.8,518.6 L113.9,517.6 L115.6,516.9 L117.4,515.9 L119.1,516.9 L121.2,516.4 L122.9,515.9 L124.6,517.6 L126.4,515.2 L128.1,513.4 L129.8,512.9 L131.5,513.8 L133.3,512.9 L135.0,512.1 L136.0,512.4 L138.1,512.9 L139.8,508.6 L142.0,504.3 L144.3,500.3 L146.4,496.5 L148.4,493.9 L150.7,490.4 L152.4,486.1 L154.1,481.8 L156.4,480.1 L158.1,477.5 L160.2,474.9 L162.3,473.7 L164.0,471.9 L165.7,472.3 L167.4,471.4 L169.2,472.6 L170.9,471.9 L172.6,471.4 L174.3,473.2 L176.1,472.3 L177.8,474.0 L179.5,476.6 L181.3,480.1 L183.0,483.0 L185.2,486.1 L187.0,489.6 L188.7,493.4 L190.4,497.4 L192.7,498.2 L194.7,498.6 L196.8,498.6 L198.2,500.8 L199.9,501.7 L201.6,502.0 L203.7,503.4 L205.4,504.8 L207.2,506.0 L208.9,506.9 L210.6,508.2 L212.4,509.5 L214.1,507.7 L215.8,507.2 L217.5,506.5 L219.3,505.5 L221.0,506.0 L222.7,505.5 L224.4,506.5" fill="none" stroke="#0000ff" stroke-width="1.6" stroke-linejoin="round"/>
<path d="M53.1,484.0 L55.2,485.3 L57.3,488.7 L59.5,492.2 L61.7,493.4 L63.8,495.6 L65.9,497.4 L68.1,499.6 L70.4,502.0 L72.5,505.5 L74.2,509.5 L76.3,510.7 L78.0,511.7 L79.7,515.2 L82.0,519.8 L84.2,521.0 L86.3,522.8 L88.0,527.3 L90.1,532.8 L92.3,535.4 L94.6,536.6 L96.6,537.1 L98.7,539.4 L101.0,542.3 L102.7,544.0 L104.4,544.6 L105.6,548.0 L107.4,550.1 L109.1,550.9 L111.3,551.8 L113.6,552.7 L115.6,553.2 L117.0,553.9 L118.8,551.8 L120.5,550.4 L122.6,550.9 L124.6,550.9 L126.9,549.7 L129.1,548.0 L130.8,547.0 L132.6,544.0 L134.6,541.4 L136.0,539.4 L137.7,535.9 L139.8,533.7 L142.0,531.1 L143.8,527.6 L145.5,523.8 L147.2,519.8 L149.0,515.9 L151.2,512.9 L152.9,508.6 L155.0,504.3 L157.1,501.3 L159.3,499.1 L161.6,499.6 L163.6,499.6 L165.7,499.9 L167.4,499.1 L169.2,496.5 L170.9,494.8 L172.6,496.1 L174.3,497.9 L176.1,498.6 L178.3,498.2 L180.0,500.3 L181.8,501.7 L183.5,500.8 L185.2,502.5 L187.0,504.8 L188.7,507.2 L190.4,510.0 L192.1,512.4 L194.4,515.2 L196.5,514.6 L198.5,514.1 L200.8,514.1 L202.5,512.1 L203.7,508.6 L205.4,506.9 L207.2,506.5 L208.9,506.0 L210.6,507.2 L212.4,506.5 L214.1,506.0 L215.8,505.5 L217.5,507.2 L219.3,506.9 L221.5,507.2 L223.2,508.2 L224.4,508.9" fill="none" stroke="#ff0000" stroke-width="1.6" stroke-linejoin="round"/>
<line x1="88.3" y1="465.9" x2="136.4" y2="465.9" stroke="#0000ff" stroke-width="1.6"/>
<line x1="51.0" y1="456.5" x2="225.0" y2="456.5" stroke="#939393" stroke-width="1"/>
<line x1="224.5" y1="456.5" x2="224.5" y2="555.5" stroke="#9c9c9c" stroke-width="1"/>
<line x1="51.5" y1="456.5" x2="51.5" y2="555.5" stroke="#7c7c7c" stroke-width="1"/>
<line x1="51.0" y1="555.5" x2="225.0" y2="555.5" stroke="#808080" stroke-width="1"/>
<line x1="51.5" y1="540.30" x2="53.7" y2="540.30" stroke="#5c5c5c" stroke-width="1"/>
<line x1="222.5" y1="540.30" x2="224.5" y2="540.30" stroke="#5c5c5c" stroke-width="1"/>
<line x1="51.5" y1="525.30" x2="53.7" y2="525.30" stroke="#5c5c5c" stroke-width="1"/>
<line x1="222.5" y1="525.30" x2="224.5" y2="525.30" stroke="#5c5c5c" stroke-width="1"/>
<line x1="51.5" y1="510.30" x2="53.7" y2="510.30" stroke="#5c5c5c" stroke-width="1"/>
<line x1="222.5" y1="510.30" x2="224.5" y2="510.30" stroke="#5c5c5c" stroke-width="1"/>
<line x1="51.5" y1="495.30" x2="53.7" y2="495.30" stroke="#5c5c5c" stroke-width="1"/>
<line x1="222.5" y1="495.30" x2="224.5" y2="495.30" stroke="#5c5c5c" stroke-width="1"/>
<line x1="51.5" y1="480.30" x2="53.7" y2="480.30" stroke="#5c5c5c" stroke-width="1"/>
<line x1="222.5" y1="480.30" x2="224.5" y2="480.30" stroke="#5c5c5c" stroke-width="1"/>
<line x1="51.5" y1="465.30" x2="53.7" y2="465.30" stroke="#5c5c5c" stroke-width="1"/>
<line x1="222.5" y1="465.30" x2="224.5" y2="465.30" stroke="#5c5c5c" stroke-width="1"/>
<text x="48.3" y="468.90" font-size="10" text-anchor="end">0.31</text>
<text x="48.3" y="558.90" font-size="10" text-anchor="end">0.25</text>
<text x="52.80" y="564.7" font-size="10" text-anchor="middle">0</text>
<text x="139.30" y="564.7" font-size="10" text-anchor="middle">0.5</text>
<text x="225.80" y="564.7" font-size="10" text-anchor="middle">1</text>
<text x="362.0" y="452.6" font-size="12" text-anchor="middle">18-26 Hz</text>
<rect x="275.5" y="456.5" width="86.5" height="99.0" fill="#f0f0f0"/>
<line x1="362" y1="456.5" x2="362" y2="555.5" stroke="#8c8c8c" stroke-width="1"/>
<path d="M277.1,505.1 L278.8,506.5 L280.6,503.8 L282.3,506.5 L284.4,507.7 L286.4,508.9 L288.7,508.2 L290.4,509.5 L292.7,512.1 L294.4,511.7 L296.5,510.3 L298.5,511.2 L300.8,512.9 L303.0,514.6 L304.7,517.2 L306.5,519.3 L308.5,520.3 L310.6,520.3 L312.3,521.6 L314.1,523.8 L315.8,524.5 L317.5,523.8 L319.3,525.5 L321.0,524.5 L322.7,525.5 L324.4,525.5 L326.2,524.2 L327.9,522.8 L329.6,523.8 L331.4,523.3 L333.1,522.8 L334.8,521.6 L336.5,522.4 L338.3,522.8 L339.6,521.0 L341.4,523.3 L343.1,521.6 L344.8,519.3 L346.6,516.4 L348.3,513.4 L350.0,514.1 L351.7,513.8 L353.5,512.1 L355.2,509.5 L356.9,508.2 L359.0,507.7 L360.0,507.2 L362.1,506.0 L363.8,503.4 L366.0,501.3 L368.3,499.1 L370.4,496.1 L372.4,493.4 L374.2,491.3 L375.9,488.2 L377.6,484.7 L379.3,481.8 L381.1,480.1 L382.8,477.5 L384.5,474.9 L386.3,474.4 L388.0,475.4 L389.7,475.7 L391.1,474.4 L392.8,476.6 L394.5,477.8 L396.3,476.6 L398.0,479.2 L399.7,481.8 L401.5,484.0 L403.2,487.8 L404.9,492.2 L406.6,495.6 L408.7,499.1 L411.0,502.0 L413.2,504.3 L415.3,506.0 L417.4,508.2 L419.1,511.7 L420.8,513.8 L422.5,516.4 L424.3,519.0 L426.0,520.7 L427.7,521.0 L429.4,521.6 L431.2,520.7 L432.9,522.4 L434.6,524.2 L436.4,525.9 L438.1,527.6 L439.8,528.5 L441.5,529.3 L443.3,530.7 L445.0,531.1 L446.7,531.4 L448.1,531.1" fill="none" stroke="#0000ff" stroke-width="1.6" stroke-linejoin="round"/>
<path d="M277.1,495.6 L278.8,496.5 L280.6,497.9 L282.3,499.1 L284.0,500.3 L285.7,502.5 L287.5,504.3 L289.5,505.1 L291.3,504.8 L293.3,505.5 L295.1,504.8 L296.5,503.4 L298.2,505.1 L299.9,507.7 L301.6,511.7 L303.7,513.4 L306.0,514.6 L308.2,516.9 L310.3,520.3 L312.0,525.5 L313.7,529.0 L315.5,531.9 L317.2,531.4 L318.9,531.1 L320.6,532.5 L322.7,534.9 L325.0,537.6 L326.7,540.1 L328.9,544.6 L330.7,544.9 L332.7,542.3 L334.5,543.2 L336.2,544.9 L337.9,547.0 L339.6,547.5 L341.4,546.3 L343.1,546.3 L345.2,544.9 L346.9,543.5 L348.6,542.3 L350.4,544.0 L352.1,541.4 L353.8,538.0 L355.5,534.5 L357.3,531.1 L359.0,527.6 L360.0,526.2 L361.7,522.4 L363.8,519.0 L366.0,515.5 L368.3,511.2 L370.4,508.2 L372.4,506.9 L374.2,504.3 L375.9,500.8 L377.6,497.4 L379.9,496.5 L382.1,496.1 L384.2,493.9 L385.9,491.7 L387.6,490.4 L389.7,491.0 L391.4,491.7 L393.2,493.0 L394.9,494.4 L396.6,495.6 L398.3,497.4 L400.1,499.1 L401.8,503.1 L403.5,506.5 L405.3,509.5 L407.0,512.1 L408.7,514.6 L410.4,515.9 L412.2,519.0 L413.9,522.4 L415.6,522.1 L417.4,523.3 L419.1,523.8 L420.8,525.9 L422.5,529.0 L424.3,530.7 L426.0,531.4 L427.4,532.5 L429.1,529.7 L430.8,530.2 L432.6,529.7 L434.3,528.5 L436.0,527.6 L437.7,527.6 L439.5,527.3 L441.2,525.9 L442.9,524.2 L444.6,523.8 L446.4,525.0 L448.1,524.5" fill="none" stroke="#ff0000" stroke-width="1.6" stroke-linejoin="round"/>
<line x1="334.5" y1="464.8" x2="356.6" y2="464.8" stroke="#0000ff" stroke-width="1.6"/>
<line x1="275.0" y1="456.5" x2="449.0" y2="456.5" stroke="#939393" stroke-width="1"/>
<line x1="448.5" y1="456.5" x2="448.5" y2="555.5" stroke="#9c9c9c" stroke-width="1"/>
<line x1="275.5" y1="456.5" x2="275.5" y2="555.5" stroke="#7c7c7c" stroke-width="1"/>
<line x1="275.0" y1="555.5" x2="449.0" y2="555.5" stroke="#808080" stroke-width="1"/>
<line x1="275.5" y1="542.40" x2="277.7" y2="542.40" stroke="#5c5c5c" stroke-width="1"/>
<line x1="446.5" y1="542.40" x2="448.5" y2="542.40" stroke="#5c5c5c" stroke-width="1"/>
<line x1="275.5" y1="529.50" x2="277.7" y2="529.50" stroke="#5c5c5c" stroke-width="1"/>
<line x1="446.5" y1="529.50" x2="448.5" y2="529.50" stroke="#5c5c5c" stroke-width="1"/>
<line x1="275.5" y1="516.60" x2="277.7" y2="516.60" stroke="#5c5c5c" stroke-width="1"/>
<line x1="446.5" y1="516.60" x2="448.5" y2="516.60" stroke="#5c5c5c" stroke-width="1"/>
<line x1="275.5" y1="503.70" x2="277.7" y2="503.70" stroke="#5c5c5c" stroke-width="1"/>
<line x1="446.5" y1="503.70" x2="448.5" y2="503.70" stroke="#5c5c5c" stroke-width="1"/>
<line x1="275.5" y1="490.80" x2="277.7" y2="490.80" stroke="#5c5c5c" stroke-width="1"/>
<line x1="446.5" y1="490.80" x2="448.5" y2="490.80" stroke="#5c5c5c" stroke-width="1"/>
<line x1="275.5" y1="477.90" x2="277.7" y2="477.90" stroke="#5c5c5c" stroke-width="1"/>
<line x1="446.5" y1="477.90" x2="448.5" y2="477.90" stroke="#5c5c5c" stroke-width="1"/>
<line x1="275.5" y1="465.00" x2="277.7" y2="465.00" stroke="#5c5c5c" stroke-width="1"/>
<line x1="446.5" y1="465.00" x2="448.5" y2="465.00" stroke="#5c5c5c" stroke-width="1"/>
<text x="272.3" y="468.60" font-size="10" text-anchor="end">0.33</text>
<text x="272.3" y="558.90" font-size="10" text-anchor="end">0.26</text>
<text x="276.80" y="564.7" font-size="10" text-anchor="middle">0</text>
<text x="363.30" y="564.7" font-size="10" text-anchor="middle">0.5</text>
<text x="449.80" y="564.7" font-size="10" text-anchor="middle">1</text>
<text x="585.75" y="452.6" font-size="12" text-anchor="middle">18-26 Hz</text>
<rect x="499" y="456.5" width="86.5" height="99.0" fill="#f0f0f0"/>
<line x1="585.5" y1="456.5" x2="585.5" y2="555.5" stroke="#8c8c8c" stroke-width="1"/>
<path d="M500.1,483.5 L501.8,482.3 L503.6,481.3 L505.6,480.1 L507.4,480.9 L509.1,481.8 L510.8,481.3 L512.9,481.3 L514.6,482.7 L516.3,484.4 L518.1,486.1 L519.8,489.6 L521.5,492.2 L523.3,491.7 L525.0,492.7 L526.7,494.4 L528.4,495.1 L530.2,493.9 L531.9,497.4 L533.6,501.3 L535.3,505.1 L537.1,507.7 L538.8,511.2 L540.5,512.4 L542.3,513.4 L544.0,513.4 L545.7,513.4 L547.4,512.9 L549.2,513.4 L550.9,514.1 L552.6,514.1 L554.4,512.4 L556.1,508.2 L557.8,507.7 L559.5,509.5 L561.3,512.1 L563.0,513.4 L564.7,511.2 L566.4,509.5 L568.2,509.5 L569.9,507.7 L571.6,506.5 L573.4,505.5 L575.1,504.8 L576.8,502.0 L578.5,499.6 L580.3,500.8 L582.0,500.3 L583.0,497.4 L584.7,496.5 L586.8,497.4 L589.0,499.6 L590.8,496.5 L592.5,492.2 L594.2,488.7 L596.0,485.3 L597.7,485.8 L599.4,483.5 L601.1,479.5 L602.9,477.5 L604.6,478.9 L606.3,480.9 L608.0,478.3 L609.8,476.1 L611.5,473.2 L613.2,470.2 L615.0,467.4 L616.7,469.7 L618.4,468.5 L620.1,469.7 L621.9,467.4 L623.6,469.2 L625.3,470.2 L627.0,470.9 L628.8,471.9 L630.5,472.6 L632.2,474.4 L634.0,478.3 L635.7,483.5 L637.4,488.7 L639.1,492.2 L640.9,494.8 L642.6,496.8 L644.3,498.6 L646.1,498.6 L647.8,499.1 L649.5,499.6 L651.2,500.8 L653.0,502.0 L654.7,503.1 L656.4,503.1 L658.1,502.5 L659.9,503.1 L661.6,504.3 L663.3,506.9 L665.1,505.1 L666.8,504.3 L668.5,508.9 L670.2,509.5 L672.0,510.0" fill="none" stroke="#0000ff" stroke-width="1.6" stroke-linejoin="round"/>
<path d="M500.1,484.0 L501.8,484.4 L503.6,483.0 L505.3,482.3 L507.0,485.3 L508.7,487.0 L510.8,487.0 L512.9,486.5 L514.6,487.0 L516.3,487.5 L518.1,488.7 L519.8,490.4 L521.5,492.7 L523.3,493.4 L525.0,495.1 L526.7,496.5 L528.4,497.9 L530.2,501.3 L531.9,506.5 L533.6,511.2 L535.3,515.9 L537.1,520.7 L538.8,525.5 L540.5,527.6 L542.3,532.5 L544.0,533.1 L545.7,530.2 L547.4,529.0 L549.2,530.2 L550.9,533.7 L552.6,538.8 L554.4,541.4 L556.1,542.8 L557.8,544.6 L559.5,546.3 L561.3,548.0 L563.0,549.7 L564.7,547.5 L566.4,544.0 L568.2,544.0 L569.9,543.2 L571.6,540.1 L573.4,537.1 L575.1,534.2 L576.8,530.7 L578.5,525.9 L580.3,524.5 L582.0,522.4 L583.0,520.3 L584.7,516.9 L586.8,515.5 L588.5,511.7 L590.3,508.6 L592.5,506.0 L594.2,503.4 L596.0,500.3 L597.7,497.4 L599.4,495.1 L601.1,492.7 L602.9,489.2 L604.6,486.1 L606.3,483.0 L608.0,479.2 L609.8,477.8 L611.5,477.8 L613.2,477.5 L615.0,480.1 L616.7,477.5 L618.4,477.1 L620.1,477.8 L621.9,479.2 L623.6,481.8 L625.3,485.8 L627.0,489.6 L628.8,491.3 L630.5,490.4 L632.2,489.6 L634.0,491.3 L635.7,495.6 L637.4,497.4 L639.1,497.4 L640.9,498.6 L642.6,500.8 L644.3,499.6 L646.1,499.9 L647.8,500.3 L649.5,500.3 L651.2,501.3 L653.0,502.5 L654.7,501.7 L656.4,504.3 L658.1,506.5 L659.9,509.5 L661.6,508.6 L663.3,508.9 L665.1,505.5 L666.8,503.8 L668.5,506.0 L670.2,504.3 L672.0,503.8" fill="none" stroke="#ff0000" stroke-width="1.6" stroke-linejoin="round"/>
<line x1="552.6" y1="465.4" x2="578.5" y2="465.4" stroke="#0000ff" stroke-width="1.6"/>
<line x1="498.5" y1="456.5" x2="673.0" y2="456.5" stroke="#939393" stroke-width="1"/>
<line x1="672.5" y1="456.5" x2="672.5" y2="555.5" stroke="#9c9c9c" stroke-width="1"/>
<line x1="499" y1="456.5" x2="499" y2="555.5" stroke="#7c7c7c" stroke-width="1"/>
<line x1="498.5" y1="555.5" x2="673.0" y2="555.5" stroke="#808080" stroke-width="1"/>
<line x1="499" y1="540.30" x2="501.2" y2="540.30" stroke="#5c5c5c" stroke-width="1"/>
<line x1="670.5" y1="540.30" x2="672.5" y2="540.30" stroke="#5c5c5c" stroke-width="1"/>
<line x1="499" y1="525.30" x2="501.2" y2="525.30" stroke="#5c5c5c" stroke-width="1"/>
<line x1="670.5" y1="525.30" x2="672.5" y2="525.30" stroke="#5c5c5c" stroke-width="1"/>
<line x1="499" y1="510.30" x2="501.2" y2="510.30" stroke="#5c5c5c" stroke-width="1"/>
<line x1="670.5" y1="510.30" x2="672.5" y2="510.30" stroke="#5c5c5c" stroke-width="1"/>
<line x1="499" y1="495.30" x2="501.2" y2="495.30" stroke="#5c5c5c" stroke-width="1"/>
<line x1="670.5" y1="495.30" x2="672.5" y2="495.30" stroke="#5c5c5c" stroke-width="1"/>
<line x1="499" y1="480.30" x2="501.2" y2="480.30" stroke="#5c5c5c" stroke-width="1"/>
<line x1="670.5" y1="480.30" x2="672.5" y2="480.30" stroke="#5c5c5c" stroke-width="1"/>
<line x1="499" y1="465.30" x2="501.2" y2="465.30" stroke="#5c5c5c" stroke-width="1"/>
<line x1="670.5" y1="465.30" x2="672.5" y2="465.30" stroke="#5c5c5c" stroke-width="1"/>
<text x="495.8" y="468.90" font-size="10" text-anchor="end">0.3</text>
<text x="495.8" y="558.90" font-size="10" text-anchor="end">0.24</text>
<text x="500.30" y="564.7" font-size="10" text-anchor="middle">0</text>
<text x="587.05" y="564.7" font-size="10" text-anchor="middle">0.5</text>
<text x="673.80" y="564.7" font-size="10" text-anchor="middle">1</text>
</svg></body></html>
